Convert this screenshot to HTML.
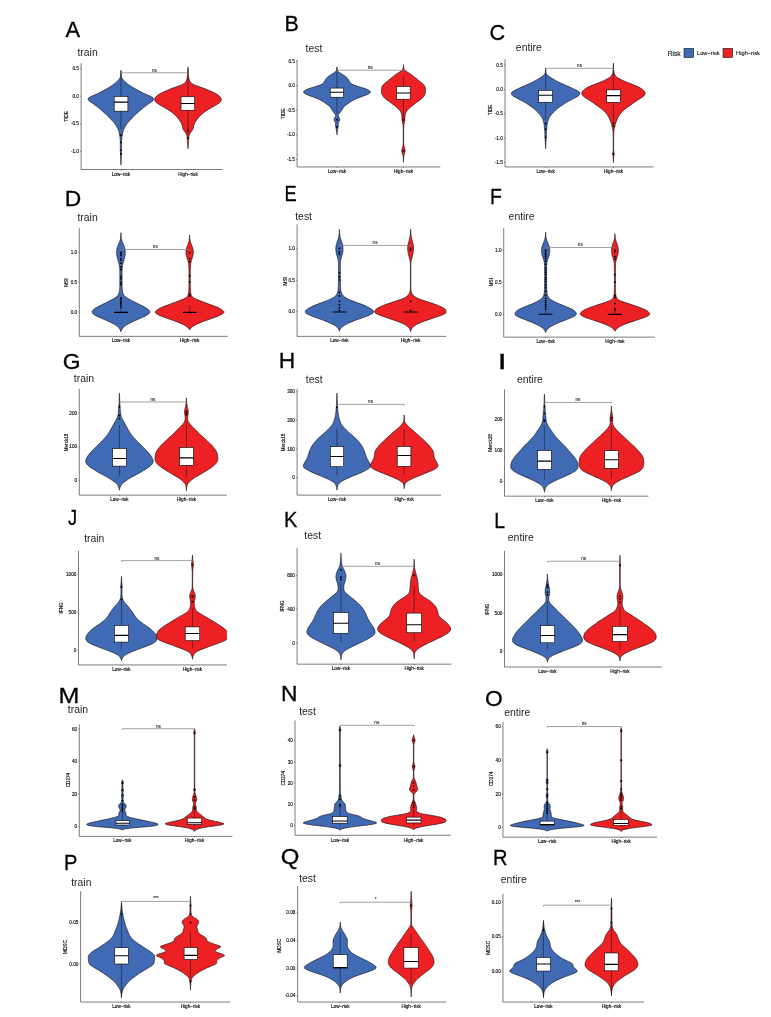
<!DOCTYPE html>
<html lang="en"><head><meta charset="utf-8"><title>Violin plots</title>
<style>
html,body{margin:0;padding:0;background:#fff;}
body{width:771px;height:1017px;overflow:hidden;}
svg{display:block;font-family:"Liberation Sans", Arial, sans-serif;}
.lt{font-size:22.8px;fill:#000;stroke:#000;stroke-width:0.3;}
.tt{font-size:10.4px;fill:#262626;}
.tl{font-size:4.65px;fill:#000;stroke:#000;stroke-width:0.12;}
.sg{font-size:4.6px;fill:#222;stroke:#222;stroke-width:0.1;}
.lg{fill:#111;stroke:#111;stroke-width:0.12;}
.v{stroke:#000;stroke-width:0.6;stroke-linejoin:round;}
.w{stroke:#151515;stroke-width:0.5;}
.b{fill:#fff;stroke:#000;stroke-width:0.6;}
.m{stroke:#000;stroke-width:1.1;}
.m2{stroke:#000;stroke-width:1.1;}
.o{fill:#000;}
.br{fill:none;stroke:#7a7a7a;stroke-width:0.7;}
.ax{fill:none;stroke:#5a5a5a;stroke-width:0.8;}
.tk{stroke:#333;stroke-width:0.5;}
</style></head><body>
<svg width="771" height="1017" viewBox="0 0 771 1017">
<rect width="771" height="1017" fill="#fff"/>
<g id="panel-A">
<text class="lt" transform="translate(72.7 37.12) scale(0.96 1)" text-anchor="middle">A</text>
<text class="tt" x="77.46" y="56.27">train</text>
<clipPath id="cA"><rect x="81.13" y="60.18" width="141.37" height="109.36"/></clipPath>
<g clip-path="url(#cA)">
<path class="v" fill="#416AB5" d="M120.95 70.19 L120.95 70.7 L120.96 71.22 L120.98 71.74 L121 72.25 L121.03 72.77 L121.07 73.28 L121.11 73.8 L121.15 74.32 L121.2 74.83 L121.26 75.35 L121.33 75.86 L121.45 76.38 L121.59 76.9 L121.77 77.41 L121.97 77.93 L122.22 78.44 L122.54 78.96 L122.93 79.48 L123.36 79.99 L123.8 80.51 L124.27 81.02 L124.79 81.54 L125.36 82.06 L125.95 82.57 L126.57 83.09 L127.22 83.6 L127.91 84.12 L128.64 84.64 L129.39 85.15 L130.16 85.67 L130.94 86.18 L131.74 86.7 L132.56 87.22 L133.41 87.73 L134.27 88.25 L135.15 88.76 L136.06 89.28 L136.98 89.8 L137.93 90.31 L138.89 90.83 L139.88 91.34 L140.88 91.86 L141.9 92.38 L142.95 92.89 L144.03 93.41 L145.15 93.92 L146.32 94.44 L147.52 94.96 L148.67 95.47 L149.78 95.99 L150.87 96.5 L151.84 97.02 L152.67 97.54 L153.4 98.05 L153.65 98.57 L153.71 99.08 L153.74 99.6 L153.59 100.12 L153.02 100.63 L152.29 101.15 L151.64 101.66 L150.94 102.18 L150.19 102.7 L149.44 103.21 L148.7 103.73 L148 104.24 L147.31 104.76 L146.62 105.28 L145.95 105.79 L145.28 106.31 L144.61 106.82 L143.93 107.34 L143.26 107.86 L142.6 108.37 L141.96 108.89 L141.34 109.4 L140.75 109.92 L140.17 110.44 L139.61 110.95 L139.04 111.47 L138.48 111.98 L137.92 112.5 L137.36 113.02 L136.81 113.53 L136.25 114.05 L135.69 114.56 L135.12 115.08 L134.55 115.59 L133.99 116.11 L133.45 116.63 L132.94 117.14 L132.45 117.66 L131.98 118.17 L131.51 118.69 L131.05 119.21 L130.58 119.72 L130.09 120.24 L129.61 120.75 L129.13 121.27 L128.66 121.79 L128.22 122.3 L127.78 122.82 L127.34 123.33 L126.93 123.85 L126.55 124.37 L126.2 124.88 L125.89 125.4 L125.6 125.91 L125.33 126.43 L125.06 126.95 L124.78 127.46 L124.49 127.98 L124.19 128.49 L123.92 129.01 L123.67 129.53 L123.47 130.04 L123.3 130.56 L123.15 131.07 L123.01 131.59 L122.89 132.11 L122.78 132.62 L122.69 133.14 L122.61 133.65 L122.54 134.17 L122.46 134.69 L122.37 135.2 L122.26 135.72 L122.14 136.23 L122.02 136.75 L121.93 137.27 L121.87 137.78 L121.82 138.3 L121.77 138.81 L121.73 139.33 L121.69 139.85 L121.65 140.36 L121.62 140.88 L121.6 141.39 L121.58 141.91 L121.57 142.43 L121.57 142.94 L121.57 143.46 L121.57 143.97 L121.57 144.49 L121.57 145.01 L121.57 145.52 L121.57 146.04 L121.57 146.55 L121.57 147.07 L121.57 147.59 L121.57 148.1 L121.57 148.62 L121.56 149.13 L121.56 149.65 L121.55 150.17 L121.53 150.68 L121.52 151.2 L121.51 151.71 L121.49 152.23 L121.48 152.75 L121.47 153.26 L121.45 153.78 L121.43 154.29 L121.41 154.81 L121.39 155.33 L121.37 155.84 L121.35 156.36 L121.33 156.87 L121.3 157.39 L121.28 157.91 L121.26 158.42 L121.24 158.94 L121.21 159.45 L121.19 159.97 L121.17 160.49 L121.14 161 L121.12 161.52 L121.1 162.03 L121.07 162.55 L121.05 163.07 L121.02 163.58 L121 164.1 L120.97 164.61 L120.95 165.13 L120.95 165.13 L120.92 164.61 L120.9 164.1 L120.87 163.58 L120.85 163.07 L120.82 162.55 L120.8 162.03 L120.78 161.52 L120.75 161 L120.73 160.49 L120.71 159.97 L120.68 159.45 L120.66 158.94 L120.64 158.42 L120.62 157.91 L120.59 157.39 L120.57 156.87 L120.55 156.36 L120.52 155.84 L120.5 155.33 L120.48 154.81 L120.46 154.29 L120.45 153.78 L120.43 153.26 L120.42 152.75 L120.4 152.23 L120.39 151.71 L120.37 151.2 L120.36 150.68 L120.35 150.17 L120.34 149.65 L120.33 149.13 L120.33 148.62 L120.33 148.1 L120.33 147.59 L120.33 147.07 L120.33 146.55 L120.33 146.04 L120.33 145.52 L120.33 145.01 L120.33 144.49 L120.33 143.97 L120.33 143.46 L120.33 142.94 L120.32 142.43 L120.31 141.91 L120.3 141.39 L120.27 140.88 L120.24 140.36 L120.21 139.85 L120.17 139.33 L120.12 138.81 L120.08 138.3 L120.03 137.78 L119.97 137.27 L119.87 136.75 L119.76 136.23 L119.64 135.72 L119.53 135.2 L119.44 134.69 L119.36 134.17 L119.28 133.65 L119.21 133.14 L119.12 132.62 L119.01 132.11 L118.89 131.59 L118.75 131.07 L118.59 130.56 L118.42 130.04 L118.22 129.53 L117.98 129.01 L117.7 128.49 L117.41 127.98 L117.12 127.46 L116.84 126.95 L116.57 126.43 L116.29 125.91 L116.01 125.4 L115.69 124.88 L115.35 124.37 L114.97 123.85 L114.55 123.33 L114.12 122.82 L113.68 122.3 L113.23 121.79 L112.77 121.27 L112.29 120.75 L111.8 120.24 L111.32 119.72 L110.85 119.21 L110.38 118.69 L109.92 118.17 L109.45 117.66 L108.96 117.14 L108.45 116.63 L107.91 116.11 L107.34 115.59 L106.77 115.08 L106.2 114.56 L105.64 114.05 L105.09 113.53 L104.54 113.02 L103.98 112.5 L103.42 111.98 L102.85 111.47 L102.29 110.95 L101.72 110.44 L101.15 109.92 L100.56 109.4 L99.94 108.89 L99.3 108.37 L98.64 107.86 L97.97 107.34 L97.29 106.82 L96.62 106.31 L95.95 105.79 L95.27 105.28 L94.59 104.76 L93.9 104.24 L93.2 103.73 L92.46 103.21 L91.7 102.7 L90.96 102.18 L90.25 101.66 L89.6 101.15 L88.88 100.63 L88.3 100.12 L88.16 99.6 L88.19 99.08 L88.24 98.57 L88.49 98.05 L89.22 97.54 L90.05 97.02 L91.02 96.5 L92.12 95.99 L93.23 95.47 L94.38 94.96 L95.57 94.44 L96.75 93.92 L97.87 93.41 L98.94 92.89 L99.99 92.38 L101.02 91.86 L102.02 91.34 L103 90.83 L103.97 90.31 L104.91 89.8 L105.84 89.28 L106.74 88.76 L107.63 88.25 L108.49 87.73 L109.33 87.22 L110.16 86.7 L110.96 86.18 L111.74 85.67 L112.5 85.15 L113.26 84.64 L113.98 84.12 L114.68 83.6 L115.33 83.09 L115.95 82.57 L116.54 82.06 L117.1 81.54 L117.62 81.02 L118.09 80.51 L118.54 79.99 L118.96 79.48 L119.35 78.96 L119.68 78.44 L119.93 77.93 L120.13 77.41 L120.3 76.9 L120.45 76.38 L120.57 75.86 L120.64 75.35 L120.69 74.83 L120.74 74.32 L120.79 73.8 L120.83 73.28 L120.86 72.77 L120.89 72.25 L120.92 71.74 L120.93 71.22 L120.94 70.7 L120.95 70.19Z"/>
<line class="w" x1="120.95" y1="71.23" x2="120.95" y2="129.33"/>
<rect class="b" x="114.2" y="96.44" width="13.7" height="14.73"/>
<line class="m" x1="114.2" y1="102.15" x2="127.9" y2="102.15"/>
<circle class="o" cx="120.95" cy="135.04" r="0.95"/>
<circle class="o" cx="120.95" cy="142.3" r="0.95"/>
<circle class="o" cx="120.95" cy="150.08" r="0.95"/>
<circle class="o" cx="120.95" cy="153.72" r="0.95"/>
<path class="v" fill="#ED2024" d="M187.99 67.19 L188.01 67.7 L188.04 68.22 L188.07 68.73 L188.1 69.25 L188.13 69.77 L188.16 70.28 L188.19 70.8 L188.23 71.31 L188.26 71.83 L188.29 72.34 L188.33 72.86 L188.36 73.37 L188.39 73.89 L188.43 74.41 L188.46 74.92 L188.5 75.44 L188.55 75.95 L188.6 76.47 L188.66 76.98 L188.74 77.5 L188.84 78.01 L188.94 78.53 L189.07 79.05 L189.21 79.56 L189.38 80.08 L189.59 80.59 L189.85 81.11 L190.16 81.62 L190.51 82.14 L190.94 82.65 L191.51 83.17 L192.2 83.68 L193 84.2 L193.96 84.72 L195.22 85.23 L196.62 85.75 L198.04 86.26 L199.42 86.78 L200.85 87.29 L202.3 87.81 L203.71 88.32 L205.06 88.84 L206.37 89.36 L207.66 89.87 L208.91 90.39 L210.13 90.9 L211.34 91.42 L212.51 91.93 L213.6 92.45 L214.62 92.96 L215.59 93.48 L216.5 94 L217.31 94.51 L218.02 95.03 L218.69 95.54 L219.28 96.06 L219.79 96.57 L220.21 97.09 L220.63 97.6 L220.97 98.12 L221.17 98.63 L221.18 99.15 L221.15 99.67 L221.1 100.18 L221.02 100.7 L220.88 101.21 L220.51 101.73 L219.97 102.24 L219.37 102.76 L218.77 103.27 L218.05 103.79 L217.24 104.31 L216.39 104.82 L215.54 105.34 L214.62 105.85 L213.67 106.37 L212.71 106.88 L211.77 107.4 L210.89 107.91 L210.04 108.43 L209.2 108.95 L208.39 109.46 L207.59 109.98 L206.82 110.49 L206.07 111.01 L205.33 111.52 L204.62 112.04 L203.93 112.55 L203.26 113.07 L202.6 113.59 L201.95 114.1 L201.33 114.62 L200.76 115.13 L200.23 115.65 L199.73 116.16 L199.27 116.68 L198.83 117.19 L198.41 117.71 L198 118.22 L197.61 118.74 L197.23 119.26 L196.86 119.77 L196.51 120.29 L196.17 120.8 L195.83 121.32 L195.51 121.83 L195.2 122.35 L194.91 122.86 L194.65 123.38 L194.41 123.9 L194.19 124.41 L193.98 124.93 L193.8 125.44 L193.66 125.96 L193.55 126.47 L193.46 126.99 L193.38 127.5 L193.27 128.02 L193.13 128.54 L192.93 129.05 L192.67 129.57 L192.38 130.08 L192.06 130.6 L191.69 131.11 L191.28 131.63 L190.87 132.14 L190.51 132.66 L190.18 133.18 L189.87 133.69 L189.6 134.21 L189.41 134.72 L189.27 135.24 L189.14 135.75 L189.04 136.27 L188.95 136.78 L188.87 137.3 L188.81 137.81 L188.76 138.33 L188.71 138.85 L188.67 139.36 L188.64 139.88 L188.61 140.39 L188.57 140.91 L188.54 141.42 L188.5 141.94 L188.46 142.45 L188.42 142.97 L188.38 143.49 L188.34 144 L188.3 144.52 L188.27 145.03 L188.23 145.55 L188.19 146.06 L188.15 146.58 L188.11 147.09 L188.07 147.61 L188.03 148.13 L187.99 148.64 L187.99 148.64 L187.95 148.13 L187.91 147.61 L187.87 147.09 L187.83 146.58 L187.79 146.06 L187.75 145.55 L187.71 145.03 L187.67 144.52 L187.63 144 L187.59 143.49 L187.55 142.97 L187.51 142.45 L187.47 141.94 L187.43 141.42 L187.4 140.91 L187.37 140.39 L187.33 139.88 L187.3 139.36 L187.26 138.85 L187.22 138.33 L187.16 137.81 L187.1 137.3 L187.02 136.78 L186.93 136.27 L186.83 135.75 L186.7 135.24 L186.56 134.72 L186.37 134.21 L186.1 133.69 L185.79 133.18 L185.46 132.66 L185.1 132.14 L184.69 131.63 L184.28 131.11 L183.91 130.6 L183.6 130.08 L183.3 129.57 L183.04 129.05 L182.84 128.54 L182.7 128.02 L182.6 127.5 L182.51 126.99 L182.42 126.47 L182.32 125.96 L182.17 125.44 L181.99 124.93 L181.79 124.41 L181.56 123.9 L181.32 123.38 L181.06 122.86 L180.78 122.35 L180.46 121.83 L180.14 121.32 L179.8 120.8 L179.46 120.29 L179.11 119.77 L178.74 119.26 L178.36 118.74 L177.97 118.22 L177.56 117.71 L177.14 117.19 L176.7 116.68 L176.24 116.16 L175.74 115.65 L175.21 115.13 L174.64 114.62 L174.02 114.1 L173.37 113.59 L172.71 113.07 L172.04 112.55 L171.35 112.04 L170.64 111.52 L169.9 111.01 L169.15 110.49 L168.38 109.98 L167.59 109.46 L166.77 108.95 L165.93 108.43 L165.08 107.91 L164.2 107.4 L163.26 106.88 L162.3 106.37 L161.35 105.85 L160.43 105.34 L159.58 104.82 L158.73 104.31 L157.93 103.79 L157.21 103.27 L156.6 102.76 L156 102.24 L155.47 101.73 L155.09 101.21 L154.95 100.7 L154.88 100.18 L154.82 99.67 L154.79 99.15 L154.8 98.63 L155 98.12 L155.34 97.6 L155.76 97.09 L156.18 96.57 L156.69 96.06 L157.28 95.54 L157.95 95.03 L158.66 94.51 L159.48 94 L160.38 93.48 L161.35 92.96 L162.37 92.45 L163.46 91.93 L164.63 91.42 L165.84 90.9 L167.07 90.39 L168.32 89.87 L169.6 89.36 L170.91 88.84 L172.26 88.32 L173.67 87.81 L175.12 87.29 L176.55 86.78 L177.93 86.26 L179.35 85.75 L180.76 85.23 L182.01 84.72 L182.98 84.2 L183.77 83.68 L184.46 83.17 L185.03 82.65 L185.46 82.14 L185.81 81.62 L186.12 81.11 L186.38 80.59 L186.6 80.08 L186.76 79.56 L186.9 79.05 L187.03 78.53 L187.14 78.01 L187.23 77.5 L187.31 76.98 L187.37 76.47 L187.42 75.95 L187.47 75.44 L187.51 74.92 L187.55 74.41 L187.58 73.89 L187.61 73.37 L187.64 72.86 L187.68 72.34 L187.71 71.83 L187.74 71.31 L187.78 70.8 L187.81 70.28 L187.84 69.77 L187.87 69.25 L187.9 68.73 L187.93 68.22 L187.96 67.7 L187.99 67.19Z"/>
<line class="w" x1="187.99" y1="68.23" x2="187.99" y2="134.63"/>
<rect class="b" x="181.03" y="96.76" width="13.7" height="13.49"/>
<line class="m" x1="181.03" y1="103.5" x2="194.73" y2="103.5"/>
<circle class="o" cx="187.99" cy="130.48" r="0.95"/>
<circle class="o" cx="187.99" cy="138.26" r="0.95"/>
</g>
<path class="br" d="M120.95 74.18 V72.78 H187.99 V74.18"/>
<text class="sg" x="154.47" y="71.65" text-anchor="middle">ns</text>
<path class="ax" d="M81.13 63.18 V169.53 H222.5"/>
<line class="tk" x1="80.03" y1="68.63" x2="81.13" y2="68.63"/>
<text class="tl" x="78.93" y="70.23" text-anchor="end">0.5</text>
<line class="tk" x1="80.03" y1="96.12" x2="81.13" y2="96.12"/>
<text class="tl" x="78.93" y="97.72" text-anchor="end">0.0</text>
<line class="tk" x1="80.03" y1="123.88" x2="81.13" y2="123.88"/>
<text class="tl" x="78.93" y="125.48" text-anchor="end">-0.5</text>
<line class="tk" x1="80.03" y1="151.37" x2="81.13" y2="151.37"/>
<text class="tl" x="78.93" y="152.97" text-anchor="end">-1.0</text>
<line class="tk" x1="120.95" y1="169.53" x2="120.95" y2="170.63"/>
<text class="tl" x="120.95" y="175.54" text-anchor="middle">Low−risk</text>
<line class="tk" x1="187.99" y1="169.53" x2="187.99" y2="170.63"/>
<text class="tl" x="187.99" y="175.54" text-anchor="middle">High−risk</text>
<text class="tl" transform="translate(68.08 116.36) rotate(-90)" text-anchor="middle">TIDE</text>
</g>
<g id="panel-B">
<text class="lt" transform="translate(291.52 31.15) scale(0.94 1)" text-anchor="middle">B</text>
<text class="tt" x="305.61" y="51.6">test</text>
<clipPath id="cB"><rect x="297.09" y="57.06" width="143.19" height="109.87"/></clipPath>
<g clip-path="url(#cB)">
<path class="v" fill="#416AB5" d="M336.95 66.82 L336.96 67.33 L336.99 67.85 L337.05 68.36 L337.12 68.88 L337.22 69.39 L337.33 69.91 L337.46 70.42 L337.73 70.94 L338.22 71.45 L338.84 71.97 L339.49 72.48 L340.17 73 L340.94 73.51 L341.76 74.03 L342.57 74.54 L343.36 75.06 L344.18 75.57 L344.97 76.09 L345.68 76.6 L346.28 77.12 L346.83 77.63 L347.33 78.15 L347.77 78.66 L348.16 79.18 L348.5 79.69 L348.81 80.21 L349.13 80.72 L349.43 81.24 L349.7 81.75 L349.98 82.27 L350.34 82.78 L350.82 83.3 L351.47 83.81 L352.28 84.33 L353.31 84.84 L354.69 85.36 L356.23 85.87 L357.83 86.39 L359.59 86.9 L361.34 87.41 L363 87.93 L364.66 88.44 L366.12 88.96 L367.28 89.47 L368.3 89.99 L369.11 90.5 L369.68 91.02 L370.16 91.53 L370.36 92.05 L370.19 92.56 L369.81 93.08 L369.24 93.59 L368.24 94.11 L367.02 94.62 L365.79 95.14 L364.41 95.65 L362.98 96.17 L361.59 96.68 L360.19 97.2 L358.82 97.71 L357.53 98.23 L356.27 98.74 L355.1 99.26 L354.06 99.77 L353.11 100.29 L352.23 100.8 L351.38 101.32 L350.55 101.83 L349.76 102.35 L348.99 102.86 L348.24 103.38 L347.51 103.89 L346.76 104.41 L346.04 104.92 L345.38 105.44 L344.81 105.95 L344.29 106.47 L343.83 106.98 L343.41 107.49 L343.03 108.01 L342.71 108.52 L342.42 109.04 L342.12 109.55 L341.81 110.07 L341.49 110.58 L341.17 111.1 L340.82 111.61 L340.45 112.13 L339.98 112.64 L339.49 113.16 L339.05 113.67 L338.73 114.19 L338.45 114.7 L338.25 115.22 L338.2 115.73 L338.39 116.25 L338.71 116.76 L339.04 117.28 L339.28 117.79 L339.49 118.31 L339.68 118.82 L339.82 119.34 L339.85 119.85 L339.7 120.37 L339.44 120.88 L339.18 121.4 L338.88 121.91 L338.54 122.43 L338.28 122.94 L338.19 123.46 L338.24 123.97 L338.31 124.49 L338.38 125 L338.4 125.52 L338.36 126.03 L338.27 126.55 L338.18 127.06 L338.07 127.58 L337.94 128.09 L337.8 128.6 L337.67 129.12 L337.56 129.63 L337.48 130.15 L337.4 130.66 L337.32 131.18 L337.24 131.69 L337.18 132.21 L337.11 132.72 L337.06 133.24 L337.01 133.75 L336.97 134.27 L336.95 134.78 L336.95 134.78 L336.92 134.27 L336.89 133.75 L336.84 133.24 L336.78 132.72 L336.72 132.21 L336.65 131.69 L336.58 131.18 L336.5 130.66 L336.42 130.15 L336.33 129.63 L336.23 129.12 L336.1 128.6 L335.96 128.09 L335.82 127.58 L335.71 127.06 L335.62 126.55 L335.54 126.03 L335.5 125.52 L335.52 125 L335.59 124.49 L335.66 123.97 L335.7 123.46 L335.62 122.94 L335.36 122.43 L335.02 121.91 L334.71 121.4 L334.46 120.88 L334.2 120.37 L334.05 119.85 L334.08 119.34 L334.21 118.82 L334.41 118.31 L334.62 117.79 L334.86 117.28 L335.19 116.76 L335.51 116.25 L335.69 115.73 L335.65 115.22 L335.44 114.7 L335.17 114.19 L334.85 113.67 L334.41 113.16 L333.91 112.64 L333.45 112.13 L333.07 111.61 L332.73 111.1 L332.4 110.58 L332.08 110.07 L331.77 109.55 L331.48 109.04 L331.19 108.52 L330.86 108.01 L330.49 107.49 L330.07 106.98 L329.6 106.47 L329.09 105.95 L328.52 105.44 L327.86 104.92 L327.14 104.41 L326.39 103.89 L325.65 103.38 L324.91 102.86 L324.14 102.35 L323.34 101.83 L322.51 101.32 L321.67 100.8 L320.78 100.29 L319.83 99.77 L318.79 99.26 L317.62 98.74 L316.37 98.23 L315.08 97.71 L313.71 97.2 L312.31 96.68 L310.92 96.17 L309.49 95.65 L308.11 95.14 L306.88 94.62 L305.66 94.11 L304.65 93.59 L304.09 93.08 L303.7 92.56 L303.54 92.05 L303.73 91.53 L304.21 91.02 L304.79 90.5 L305.59 89.99 L306.62 89.47 L307.78 88.96 L309.24 88.44 L310.89 87.93 L312.55 87.41 L314.31 86.9 L316.07 86.39 L317.67 85.87 L319.2 85.36 L320.58 84.84 L321.62 84.33 L322.42 83.81 L323.08 83.3 L323.56 82.78 L323.91 82.27 L324.2 81.75 L324.47 81.24 L324.77 80.72 L325.08 80.21 L325.4 79.69 L325.74 79.18 L326.13 78.66 L326.57 78.15 L327.07 77.63 L327.62 77.12 L328.22 76.6 L328.92 76.09 L329.71 75.57 L330.53 75.06 L331.33 74.54 L332.14 74.03 L332.96 73.51 L333.73 73 L334.41 72.48 L335.05 71.97 L335.67 71.45 L336.17 70.94 L336.44 70.42 L336.57 69.91 L336.68 69.39 L336.77 68.88 L336.85 68.36 L336.9 67.85 L336.94 67.33 L336.95 66.82Z"/>
<line class="w" x1="336.95" y1="68.38" x2="336.95" y2="114.03"/>
<rect class="b" x="330.2" y="88.09" width="13.28" height="9.13"/>
<line class="m" x1="330.2" y1="92.24" x2="343.49" y2="92.24"/>
<circle class="o" cx="336.95" cy="119.74" r="0.95"/>
<circle class="o" cx="336.95" cy="127" r="0.95"/>
<path class="v" fill="#ED2024" d="M403.47 64.67 L403.48 65.19 L403.51 65.7 L403.55 66.22 L403.61 66.73 L403.69 67.25 L403.78 67.77 L403.88 68.28 L404.03 68.8 L404.28 69.31 L404.61 69.83 L405 70.35 L405.55 70.86 L406.34 71.38 L407.22 71.89 L408.07 72.41 L408.86 72.93 L409.66 73.44 L410.44 73.96 L411.18 74.47 L411.86 74.99 L412.51 75.51 L413.13 76.02 L413.76 76.54 L414.41 77.05 L415.05 77.57 L415.7 78.09 L416.34 78.6 L416.99 79.12 L417.63 79.64 L418.28 80.15 L418.92 80.67 L419.58 81.18 L420.25 81.7 L420.9 82.22 L421.52 82.73 L422.09 83.25 L422.64 83.76 L423.16 84.28 L423.61 84.8 L424.02 85.31 L424.42 85.83 L424.76 86.34 L425.01 86.86 L425.17 87.38 L425.32 87.89 L425.44 88.41 L425.53 88.92 L425.57 89.44 L425.57 89.96 L425.55 90.47 L425.53 90.99 L425.51 91.5 L425.47 92.02 L425.42 92.54 L425.32 93.05 L425.17 93.57 L425 94.08 L424.8 94.6 L424.58 95.12 L424.29 95.63 L423.94 96.15 L423.54 96.67 L423.12 97.18 L422.67 97.7 L422.14 98.21 L421.56 98.73 L420.94 99.25 L420.3 99.76 L419.65 100.28 L418.94 100.79 L418.2 101.31 L417.45 101.83 L416.71 102.34 L416.01 102.86 L415.31 103.37 L414.62 103.89 L413.95 104.41 L413.28 104.92 L412.63 105.44 L411.99 105.95 L411.35 106.47 L410.73 106.99 L410.15 107.5 L409.59 108.02 L409.05 108.53 L408.54 109.05 L408.05 109.57 L407.6 110.08 L407.2 110.6 L406.81 111.11 L406.44 111.63 L406.11 112.15 L405.85 112.66 L405.66 113.18 L405.49 113.7 L405.35 114.21 L405.23 114.73 L405.15 115.24 L405.11 115.76 L405.09 116.28 L405.07 116.79 L405.05 117.31 L405.03 117.82 L405.01 118.34 L404.99 118.86 L404.97 119.37 L404.94 119.89 L404.9 120.4 L404.81 120.92 L404.69 121.44 L404.57 121.95 L404.46 122.47 L404.35 122.98 L404.23 123.5 L404.11 124.02 L404 124.53 L403.92 125.05 L403.86 125.56 L403.81 126.08 L403.77 126.6 L403.73 127.11 L403.7 127.63 L403.68 128.14 L403.67 128.66 L403.67 129.18 L403.67 129.69 L403.67 130.21 L403.67 130.73 L403.67 131.24 L403.67 131.76 L403.67 132.27 L403.67 132.79 L403.67 133.31 L403.67 133.82 L403.67 134.34 L403.67 134.85 L403.67 135.37 L403.67 135.89 L403.67 136.4 L403.67 136.92 L403.67 137.43 L403.67 137.95 L403.67 138.47 L403.67 138.98 L403.67 139.5 L403.67 140.01 L403.67 140.53 L403.67 141.05 L403.67 141.56 L403.67 142.08 L403.67 142.59 L403.68 143.11 L403.7 143.63 L403.75 144.14 L403.83 144.66 L403.91 145.17 L404.01 145.69 L404.11 146.21 L404.23 146.72 L404.39 147.24 L404.56 147.76 L404.71 148.27 L404.83 148.79 L404.93 149.3 L405.03 149.82 L405.1 150.34 L405.13 150.85 L405.08 151.37 L404.97 151.88 L404.83 152.4 L404.7 152.92 L404.56 153.43 L404.39 153.95 L404.22 154.46 L404.08 154.98 L403.98 155.5 L403.91 156.01 L403.85 156.53 L403.79 157.04 L403.73 157.56 L403.68 158.08 L403.64 158.59 L403.59 159.11 L403.56 159.62 L403.53 160.14 L403.5 160.66 L403.48 161.17 L403.47 161.69 L403.47 162.2 L403.47 162.2 L403.46 161.69 L403.45 161.17 L403.43 160.66 L403.41 160.14 L403.38 159.62 L403.34 159.11 L403.3 158.59 L403.25 158.08 L403.2 157.56 L403.14 157.04 L403.08 156.53 L403.02 156.01 L402.95 155.5 L402.86 154.98 L402.71 154.46 L402.55 153.95 L402.38 153.43 L402.23 152.92 L402.1 152.4 L401.97 151.88 L401.86 151.37 L401.81 150.85 L401.83 150.34 L401.9 149.82 L402 149.3 L402.1 148.79 L402.22 148.27 L402.38 147.76 L402.54 147.24 L402.7 146.72 L402.83 146.21 L402.92 145.69 L403.02 145.17 L403.11 144.66 L403.18 144.14 L403.23 143.63 L403.26 143.11 L403.26 142.59 L403.26 142.08 L403.26 141.56 L403.26 141.05 L403.26 140.53 L403.26 140.01 L403.26 139.5 L403.26 138.98 L403.26 138.47 L403.26 137.95 L403.26 137.43 L403.26 136.92 L403.26 136.4 L403.26 135.89 L403.26 135.37 L403.26 134.85 L403.26 134.34 L403.26 133.82 L403.26 133.31 L403.26 132.79 L403.26 132.27 L403.26 131.76 L403.26 131.24 L403.26 130.73 L403.26 130.21 L403.26 129.69 L403.26 129.18 L403.26 128.66 L403.26 128.14 L403.24 127.63 L403.21 127.11 L403.17 126.6 L403.12 126.08 L403.07 125.56 L403.01 125.05 L402.93 124.53 L402.82 124.02 L402.71 123.5 L402.59 122.98 L402.47 122.47 L402.36 121.95 L402.24 121.44 L402.13 120.92 L402.04 120.4 L401.99 119.89 L401.96 119.37 L401.94 118.86 L401.92 118.34 L401.9 117.82 L401.88 117.31 L401.87 116.79 L401.85 116.28 L401.82 115.76 L401.78 115.24 L401.7 114.73 L401.59 114.21 L401.44 113.7 L401.27 113.18 L401.08 112.66 L400.82 112.15 L400.5 111.63 L400.13 111.11 L399.74 110.6 L399.33 110.08 L398.89 109.57 L398.4 109.05 L397.88 108.53 L397.34 108.02 L396.79 107.5 L396.2 106.99 L395.58 106.47 L394.95 105.95 L394.3 105.44 L393.65 104.92 L392.99 104.41 L392.31 103.89 L391.62 103.37 L390.93 102.86 L390.22 102.34 L389.49 101.83 L388.74 101.31 L388 100.79 L387.29 100.28 L386.63 99.76 L385.99 99.25 L385.37 98.73 L384.79 98.21 L384.27 97.7 L383.81 97.18 L383.39 96.67 L383 96.15 L382.65 95.63 L382.36 95.12 L382.13 94.6 L381.94 94.08 L381.76 93.57 L381.61 93.05 L381.51 92.54 L381.46 92.02 L381.43 91.5 L381.4 90.99 L381.38 90.47 L381.37 89.96 L381.37 89.44 L381.41 88.92 L381.5 88.41 L381.62 87.89 L381.76 87.38 L381.92 86.86 L382.17 86.34 L382.52 85.83 L382.91 85.31 L383.32 84.8 L383.78 84.28 L384.29 83.76 L384.84 83.25 L385.42 82.73 L386.03 82.22 L386.69 81.7 L387.35 81.18 L388.01 80.67 L388.65 80.15 L389.3 79.64 L389.94 79.12 L390.59 78.6 L391.23 78.09 L391.88 77.57 L392.52 77.05 L393.17 76.54 L393.8 76.02 L394.43 75.51 L395.07 74.99 L395.76 74.47 L396.5 73.96 L397.28 73.44 L398.07 72.93 L398.86 72.41 L399.71 71.89 L400.59 71.38 L401.38 70.86 L401.93 70.35 L402.32 69.83 L402.65 69.31 L402.9 68.8 L403.06 68.28 L403.15 67.77 L403.24 67.25 L403.32 66.73 L403.38 66.22 L403.43 65.7 L403.46 65.19 L403.47 64.67Z"/>
<line class="w" x1="403.47" y1="76.6" x2="403.47" y2="118.11"/>
<rect class="b" x="396.51" y="86.46" width="13.7" height="12.76"/>
<line class="m" x1="396.51" y1="93" x2="410.21" y2="93"/>
<circle class="o" cx="403.47" cy="119.87" r="0.95"/>
<circle class="o" cx="403.47" cy="150.79" r="0.95"/>
</g>
<path class="br" d="M336.95 71.64 V70.24 H403.47 V71.64"/>
<text class="sg" x="370.21" y="69.11" text-anchor="middle">ns</text>
<path class="ax" d="M297.09 60.06 V166.94 H440.29"/>
<line class="tk" x1="295.99" y1="61.1" x2="297.09" y2="61.1"/>
<text class="tl" x="294.89" y="62.7" text-anchor="end">0.5</text>
<line class="tk" x1="295.99" y1="85.49" x2="297.09" y2="85.49"/>
<text class="tl" x="294.89" y="87.09" text-anchor="end">0.0</text>
<line class="tk" x1="295.99" y1="110.13" x2="297.09" y2="110.13"/>
<text class="tl" x="294.89" y="111.73" text-anchor="end">-0.5</text>
<line class="tk" x1="295.99" y1="134.77" x2="297.09" y2="134.77"/>
<text class="tl" x="294.89" y="136.37" text-anchor="end">-1.0</text>
<line class="tk" x1="295.99" y1="159.42" x2="297.09" y2="159.42"/>
<text class="tl" x="294.89" y="161.02" text-anchor="end">-1.5</text>
<line class="tk" x1="336.95" y1="166.94" x2="336.95" y2="168.04"/>
<text class="tl" x="336.95" y="172.95" text-anchor="middle">Low−risk</text>
<line class="tk" x1="403.47" y1="166.94" x2="403.47" y2="168.04"/>
<text class="tl" x="403.47" y="172.95" text-anchor="middle">High−risk</text>
<text class="tl" transform="translate(284.83 113.76) rotate(-90)" text-anchor="middle">TIDE</text>
</g>
<g id="panel-C">
<text class="lt" transform="translate(497.24 39.71) scale(0.95 1)" text-anchor="middle">C</text>
<text class="tt" x="515.87" y="51.09">entire</text>
<clipPath id="cC"><rect x="505.02" y="56.29" width="148.64" height="110.65"/></clipPath>
<g clip-path="url(#cC)">
<path class="v" fill="#416AB5" d="M545.64 68.3 L545.64 68.82 L545.66 69.33 L545.68 69.85 L545.72 70.36 L545.76 70.88 L545.82 71.39 L545.89 71.91 L545.96 72.42 L546.05 72.94 L546.23 73.46 L546.57 73.97 L547 74.49 L547.47 75 L547.97 75.52 L548.56 76.03 L549.22 76.55 L549.92 77.06 L550.68 77.58 L551.52 78.1 L552.41 78.61 L553.3 79.13 L554.18 79.64 L555.06 80.16 L555.96 80.67 L556.9 81.19 L557.87 81.7 L558.88 82.22 L559.92 82.73 L561 83.25 L562.11 83.77 L563.27 84.28 L564.45 84.8 L565.62 85.31 L566.78 85.83 L567.94 86.34 L569.1 86.86 L570.26 87.37 L571.44 87.89 L572.64 88.4 L573.82 88.92 L574.93 89.44 L575.96 89.95 L576.95 90.47 L577.8 90.98 L578.51 91.5 L579.16 92.01 L579.6 92.53 L579.78 93.04 L579.87 93.56 L579.82 94.07 L579.56 94.59 L579.18 95.11 L578.7 95.62 L577.95 96.14 L577.07 96.65 L576.19 97.17 L575.22 97.68 L574.21 98.2 L573.2 98.71 L572.22 99.23 L571.26 99.75 L570.3 100.26 L569.36 100.78 L568.43 101.29 L567.51 101.81 L566.6 102.32 L565.72 102.84 L564.88 103.35 L564.07 103.87 L563.28 104.38 L562.51 104.9 L561.75 105.42 L561.01 105.93 L560.28 106.45 L559.56 106.96 L558.87 107.48 L558.2 107.99 L557.57 108.51 L556.96 109.02 L556.38 109.54 L555.82 110.05 L555.26 110.57 L554.72 111.09 L554.18 111.6 L553.65 112.12 L553.13 112.63 L552.64 113.15 L552.18 113.66 L551.74 114.18 L551.31 114.69 L550.9 115.21 L550.52 115.73 L550.16 116.24 L549.81 116.76 L549.48 117.27 L549.17 117.79 L548.9 118.3 L548.67 118.82 L548.48 119.33 L548.31 119.85 L548.16 120.36 L548.01 120.88 L547.87 121.4 L547.73 121.91 L547.59 122.43 L547.47 122.94 L547.36 123.46 L547.27 123.97 L547.2 124.49 L547.13 125 L547.07 125.52 L547.02 126.03 L546.97 126.55 L546.92 127.07 L546.87 127.58 L546.82 128.1 L546.77 128.61 L546.73 129.13 L546.68 129.64 L546.64 130.16 L546.6 130.67 L546.56 131.19 L546.52 131.71 L546.49 132.22 L546.46 132.74 L546.44 133.25 L546.41 133.77 L546.39 134.28 L546.37 134.8 L546.36 135.31 L546.34 135.83 L546.32 136.34 L546.3 136.86 L546.28 137.38 L546.26 137.89 L546.23 138.41 L546.2 138.92 L546.17 139.44 L546.14 139.95 L546.11 140.47 L546.07 140.98 L546.04 141.5 L546.01 142.01 L545.98 142.53 L545.95 143.05 L545.92 143.56 L545.89 144.08 L545.86 144.59 L545.83 145.11 L545.8 145.62 L545.77 146.14 L545.75 146.65 L545.72 147.17 L545.69 147.68 L545.66 148.2 L545.64 148.72 L545.64 148.72 L545.61 148.2 L545.58 147.68 L545.56 147.17 L545.53 146.65 L545.5 146.14 L545.47 145.62 L545.44 145.11 L545.41 144.59 L545.39 144.08 L545.36 143.56 L545.33 143.05 L545.3 142.53 L545.27 142.01 L545.23 141.5 L545.2 140.98 L545.17 140.47 L545.13 139.95 L545.1 139.44 L545.07 138.92 L545.04 138.41 L545.02 137.89 L544.99 137.38 L544.97 136.86 L544.95 136.34 L544.93 135.83 L544.92 135.31 L544.9 134.8 L544.88 134.28 L544.86 133.77 L544.84 133.25 L544.81 132.74 L544.78 132.22 L544.75 131.71 L544.72 131.19 L544.68 130.67 L544.64 130.16 L544.59 129.64 L544.55 129.13 L544.5 128.61 L544.45 128.1 L544.4 127.58 L544.36 127.07 L544.31 126.55 L544.26 126.03 L544.2 125.52 L544.14 125 L544.08 124.49 L544 123.97 L543.91 123.46 L543.81 122.94 L543.68 122.43 L543.54 121.91 L543.4 121.4 L543.26 120.88 L543.12 120.36 L542.96 119.85 L542.79 119.33 L542.6 118.82 L542.38 118.3 L542.11 117.79 L541.8 117.27 L541.46 116.76 L541.11 116.24 L540.75 115.73 L540.37 115.21 L539.96 114.69 L539.54 114.18 L539.09 113.66 L538.63 113.15 L538.14 112.63 L537.63 112.12 L537.1 111.6 L536.55 111.09 L536.01 110.57 L535.46 110.05 L534.89 109.54 L534.31 109.02 L533.71 108.51 L533.07 107.99 L532.41 107.48 L531.71 106.96 L530.99 106.45 L530.26 105.93 L529.52 105.42 L528.77 104.9 L528 104.38 L527.21 103.87 L526.4 103.35 L525.55 102.84 L524.67 102.32 L523.77 101.81 L522.84 101.29 L521.91 100.78 L520.97 100.26 L520.01 99.75 L519.05 99.23 L518.08 98.71 L517.07 98.2 L516.05 97.68 L515.08 97.17 L514.2 96.65 L513.33 96.14 L512.57 95.62 L512.09 95.11 L511.71 94.59 L511.46 94.07 L511.4 93.56 L511.5 93.04 L511.67 92.53 L512.11 92.01 L512.76 91.5 L513.47 90.98 L514.32 90.47 L515.31 89.95 L516.34 89.44 L517.45 88.92 L518.63 88.4 L519.84 87.89 L521.01 87.37 L522.17 86.86 L523.33 86.34 L524.49 85.83 L525.65 85.31 L526.83 84.8 L528.01 84.28 L529.17 83.77 L530.28 83.25 L531.35 82.73 L532.39 82.22 L533.4 81.7 L534.38 81.19 L535.31 80.67 L536.21 80.16 L537.1 79.64 L537.97 79.13 L538.87 78.61 L539.75 78.1 L540.6 77.58 L541.36 77.06 L542.06 76.55 L542.72 76.03 L543.31 75.52 L543.81 75 L544.27 74.49 L544.71 73.97 L545.05 73.46 L545.23 72.94 L545.31 72.42 L545.39 71.91 L545.45 71.39 L545.51 70.88 L545.55 70.36 L545.59 69.85 L545.62 69.33 L545.63 68.82 L545.64 68.3Z"/>
<line class="w" x1="545.64" y1="68.3" x2="545.64" y2="120.18"/>
<rect class="b" x="538.68" y="90.4" width="13.8" height="11.83"/>
<line class="m" x1="538.68" y1="95.28" x2="552.49" y2="95.28"/>
<circle class="o" cx="545.64" cy="123.5" r="0.95"/>
<circle class="o" cx="545.64" cy="129.31" r="0.95"/>
<circle class="o" cx="545.64" cy="137.3" r="0.95"/>
<path class="v" fill="#ED2024" d="M613.43 63.11 L613.43 63.63 L613.44 64.15 L613.45 64.66 L613.46 65.18 L613.48 65.69 L613.49 66.21 L613.52 66.73 L613.54 67.24 L613.57 67.76 L613.6 68.27 L613.63 68.79 L613.66 69.31 L613.7 69.82 L613.74 70.34 L613.78 70.85 L613.84 71.37 L613.92 71.89 L614.01 72.4 L614.12 72.92 L614.25 73.44 L614.41 73.95 L614.64 74.47 L614.92 74.98 L615.25 75.5 L615.66 76.02 L616.19 76.53 L616.8 77.05 L617.48 77.56 L618.23 78.08 L619.09 78.6 L620.04 79.11 L621.04 79.63 L622.09 80.14 L623.23 80.66 L624.43 81.18 L625.65 81.69 L626.89 82.21 L628.18 82.73 L629.49 83.24 L630.8 83.76 L632.11 84.27 L633.44 84.79 L634.76 85.31 L635.99 85.82 L637.13 86.34 L638.23 86.85 L639.26 87.37 L640.19 87.89 L641.04 88.4 L641.84 88.92 L642.56 89.43 L643.17 89.95 L643.68 90.47 L644.16 90.98 L644.55 91.5 L644.82 92.02 L644.96 92.53 L645.05 93.05 L645.07 93.56 L644.95 94.08 L644.73 94.6 L644.45 95.11 L644.09 95.63 L643.56 96.14 L642.9 96.66 L642.2 97.18 L641.5 97.69 L640.74 98.21 L639.94 98.73 L639.14 99.24 L638.36 99.76 L637.58 100.27 L636.81 100.79 L636.04 101.31 L635.26 101.82 L634.47 102.34 L633.69 102.85 L632.93 103.37 L632.2 103.89 L631.5 104.4 L630.81 104.92 L630.12 105.43 L629.41 105.95 L628.68 106.47 L627.94 106.98 L627.23 107.5 L626.55 108.02 L625.89 108.53 L625.24 109.05 L624.62 109.56 L623.99 110.08 L623.37 110.6 L622.76 111.11 L622.19 111.63 L621.68 112.14 L621.22 112.66 L620.78 113.18 L620.37 113.69 L619.99 114.21 L619.63 114.72 L619.3 115.24 L618.98 115.76 L618.69 116.27 L618.42 116.79 L618.17 117.31 L617.92 117.82 L617.68 118.34 L617.44 118.85 L617.21 119.37 L616.98 119.89 L616.76 120.4 L616.55 120.92 L616.34 121.43 L616.14 121.95 L615.94 122.47 L615.75 122.98 L615.56 123.5 L615.39 124.01 L615.25 124.53 L615.14 125.05 L615.05 125.56 L614.95 126.08 L614.83 126.6 L614.67 127.11 L614.5 127.63 L614.34 128.14 L614.23 128.66 L614.13 129.18 L614.05 129.69 L613.98 130.21 L613.92 130.72 L613.87 131.24 L613.84 131.76 L613.81 132.27 L613.78 132.79 L613.75 133.3 L613.73 133.82 L613.71 134.34 L613.69 134.85 L613.67 135.37 L613.66 135.89 L613.65 136.4 L613.64 136.92 L613.64 137.43 L613.64 137.95 L613.64 138.47 L613.64 138.98 L613.64 139.5 L613.64 140.01 L613.64 140.53 L613.64 141.05 L613.64 141.56 L613.64 142.08 L613.64 142.6 L613.64 143.11 L613.64 143.63 L613.64 144.14 L613.64 144.66 L613.64 145.18 L613.64 145.69 L613.64 146.21 L613.64 146.72 L613.64 147.24 L613.64 147.76 L613.64 148.27 L613.64 148.79 L613.64 149.3 L613.64 149.82 L613.64 150.34 L613.68 150.85 L613.77 151.37 L613.87 151.89 L613.96 152.4 L614.04 152.92 L614.12 153.43 L614.16 153.95 L614.11 154.47 L614.03 154.98 L613.94 155.5 L613.86 156.01 L613.77 156.53 L613.69 157.05 L613.63 157.56 L613.6 158.08 L613.57 158.59 L613.54 159.11 L613.51 159.63 L613.49 160.14 L613.47 160.66 L613.45 161.18 L613.44 161.69 L613.43 162.21 L613.43 162.72 L613.43 162.72 L613.43 162.21 L613.42 161.69 L613.41 161.18 L613.39 160.66 L613.37 160.14 L613.35 159.63 L613.32 159.11 L613.29 158.59 L613.26 158.08 L613.22 157.56 L613.17 157.05 L613.09 156.53 L613 156.01 L612.92 155.5 L612.83 154.98 L612.75 154.47 L612.7 153.95 L612.73 153.43 L612.82 152.92 L612.9 152.4 L612.99 151.89 L613.09 151.37 L613.18 150.85 L613.22 150.34 L613.22 149.82 L613.22 149.3 L613.22 148.79 L613.22 148.27 L613.22 147.76 L613.22 147.24 L613.22 146.72 L613.22 146.21 L613.22 145.69 L613.22 145.18 L613.22 144.66 L613.22 144.14 L613.22 143.63 L613.22 143.11 L613.22 142.6 L613.22 142.08 L613.22 141.56 L613.22 141.05 L613.22 140.53 L613.22 140.01 L613.22 139.5 L613.22 138.98 L613.22 138.47 L613.22 137.95 L613.22 137.43 L613.22 136.92 L613.21 136.4 L613.2 135.89 L613.18 135.37 L613.17 134.85 L613.15 134.34 L613.13 133.82 L613.1 133.3 L613.08 132.79 L613.05 132.27 L613.02 131.76 L612.99 131.24 L612.94 130.72 L612.88 130.21 L612.81 129.69 L612.72 129.18 L612.63 128.66 L612.52 128.14 L612.36 127.63 L612.19 127.11 L612.03 126.6 L611.9 126.08 L611.81 125.56 L611.71 125.05 L611.61 124.53 L611.47 124.01 L611.3 123.5 L611.11 122.98 L610.91 122.47 L610.72 121.95 L610.52 121.43 L610.31 120.92 L610.1 120.4 L609.88 119.89 L609.65 119.37 L609.42 118.85 L609.18 118.34 L608.94 117.82 L608.69 117.31 L608.44 116.79 L608.17 116.27 L607.88 115.76 L607.56 115.24 L607.23 114.72 L606.87 114.21 L606.49 113.69 L606.08 113.18 L605.64 112.66 L605.17 112.14 L604.67 111.63 L604.1 111.11 L603.49 110.6 L602.87 110.08 L602.24 109.56 L601.62 109.05 L600.97 108.53 L600.31 108.02 L599.63 107.5 L598.91 106.98 L598.18 106.47 L597.45 105.95 L596.73 105.43 L596.05 104.92 L595.36 104.4 L594.66 103.89 L593.93 103.37 L593.17 102.85 L592.39 102.34 L591.6 101.82 L590.82 101.31 L590.05 100.79 L589.27 100.27 L588.5 99.76 L587.72 99.24 L586.92 98.73 L586.12 98.21 L585.36 97.69 L584.66 97.18 L583.96 96.66 L583.3 96.14 L582.76 95.63 L582.41 95.11 L582.13 94.6 L581.91 94.08 L581.79 93.56 L581.81 93.05 L581.9 92.53 L582.04 92.02 L582.31 91.5 L582.7 90.98 L583.18 90.47 L583.69 89.95 L584.3 89.43 L585.02 88.92 L585.82 88.4 L586.67 87.89 L587.6 87.37 L588.63 86.85 L589.73 86.34 L590.87 85.82 L592.1 85.31 L593.41 84.79 L594.75 84.27 L596.06 83.76 L597.37 83.24 L598.68 82.73 L599.96 82.21 L601.21 81.69 L602.43 81.18 L603.62 80.66 L604.76 80.14 L605.82 79.63 L606.82 79.11 L607.77 78.6 L608.63 78.08 L609.38 77.56 L610.05 77.05 L610.67 76.53 L611.2 76.02 L611.61 75.5 L611.94 74.98 L612.22 74.47 L612.45 73.95 L612.61 73.44 L612.74 72.92 L612.85 72.4 L612.94 71.89 L613.01 71.37 L613.08 70.85 L613.12 70.34 L613.16 69.82 L613.19 69.31 L613.23 68.79 L613.26 68.27 L613.29 67.76 L613.32 67.24 L613.34 66.73 L613.36 66.21 L613.38 65.69 L613.4 65.18 L613.41 64.66 L613.42 64.15 L613.43 63.63 L613.43 63.11Z"/>
<line class="w" x1="613.43" y1="64.15" x2="613.43" y2="122.26"/>
<rect class="b" x="606.68" y="89.88" width="13.7" height="12.45"/>
<line class="m" x1="606.68" y1="95.59" x2="620.38" y2="95.59"/>
<circle class="o" cx="613.43" cy="123.29" r="0.95"/>
<circle class="o" cx="613.43" cy="125.89" r="0.95"/>
<circle class="o" cx="613.43" cy="153.9" r="0.95"/>
</g>
<path class="br" d="M545.64 69.7 V68.3 H613.43 V69.7"/>
<text class="sg" x="579.53" y="67.17" text-anchor="middle">ns</text>
<path class="ax" d="M505.02 59.29 V166.94 H653.66"/>
<line class="tk" x1="503.92" y1="64.99" x2="505.02" y2="64.99"/>
<text class="tl" x="502.82" y="66.59" text-anchor="end">0.5</text>
<line class="tk" x1="503.92" y1="89.38" x2="505.02" y2="89.38"/>
<text class="tl" x="502.82" y="90.98" text-anchor="end">0.0</text>
<line class="tk" x1="503.92" y1="113.76" x2="505.02" y2="113.76"/>
<text class="tl" x="502.82" y="115.36" text-anchor="end">-0.5</text>
<line class="tk" x1="503.92" y1="138.15" x2="505.02" y2="138.15"/>
<text class="tl" x="502.82" y="139.75" text-anchor="end">-1.0</text>
<line class="tk" x1="503.92" y1="162.53" x2="505.02" y2="162.53"/>
<text class="tl" x="502.82" y="164.13" text-anchor="end">-1.5</text>
<line class="tk" x1="545.64" y1="166.94" x2="545.64" y2="168.04"/>
<text class="tl" x="545.64" y="172.95" text-anchor="middle">Low−risk</text>
<line class="tk" x1="613.43" y1="166.94" x2="613.43" y2="168.04"/>
<text class="tl" x="613.43" y="172.95" text-anchor="middle">High−risk</text>
<text class="tl" transform="translate(492.23 109.87) rotate(-90)" text-anchor="middle">TIDE</text>
</g>
<g id="panel-D">
<text class="lt" transform="translate(72.96 206.01) scale(1 1)" text-anchor="middle">D</text>
<text class="tt" x="77.46" y="221.27">train</text>
<clipPath id="cD"><rect x="79.31" y="225.18" width="148.38" height="111.17"/></clipPath>
<g clip-path="url(#cD)">
<path class="v" fill="#416AB5" d="M120.95 232.67 L120.95 233.19 L120.97 233.71 L120.99 234.23 L121.01 234.74 L121.05 235.26 L121.09 235.78 L121.14 236.3 L121.19 236.82 L121.24 237.34 L121.3 237.86 L121.36 238.38 L121.44 238.89 L121.56 239.41 L121.7 239.93 L121.85 240.45 L122.02 240.97 L122.19 241.49 L122.38 242.01 L122.6 242.53 L122.84 243.05 L123.09 243.56 L123.32 244.08 L123.54 244.6 L123.75 245.12 L123.96 245.64 L124.17 246.16 L124.36 246.68 L124.54 247.2 L124.68 247.71 L124.82 248.23 L124.95 248.75 L125.06 249.27 L125.15 249.79 L125.2 250.31 L125.24 250.83 L125.26 251.35 L125.29 251.87 L125.3 252.38 L125.31 252.9 L125.29 253.42 L125.26 253.94 L125.22 254.46 L125.16 254.98 L125.1 255.5 L125.01 256.02 L124.9 256.53 L124.76 257.05 L124.61 257.57 L124.48 258.09 L124.34 258.61 L124.21 259.13 L124.07 259.65 L123.93 260.17 L123.79 260.68 L123.65 261.2 L123.5 261.72 L123.36 262.24 L123.21 262.76 L123.06 263.28 L122.93 263.8 L122.82 264.32 L122.71 264.84 L122.6 265.35 L122.51 265.87 L122.42 266.39 L122.35 266.91 L122.3 267.43 L122.26 267.95 L122.22 268.47 L122.18 268.99 L122.15 269.5 L122.13 270.02 L122.11 270.54 L122.09 271.06 L122.09 271.58 L122.09 272.1 L122.09 272.62 L122.09 273.14 L122.09 273.65 L122.09 274.17 L122.09 274.69 L122.09 275.21 L122.09 275.73 L122.09 276.25 L122.09 276.77 L122.09 277.29 L122.09 277.81 L122.09 278.32 L122.09 278.84 L122.09 279.36 L122.09 279.88 L122.09 280.4 L122.09 280.92 L122.09 281.44 L122.09 281.96 L122.09 282.47 L122.09 282.99 L122.09 283.51 L122.09 284.03 L122.09 284.55 L122.1 285.07 L122.11 285.59 L122.12 286.11 L122.14 286.63 L122.15 287.14 L122.17 287.66 L122.19 288.18 L122.22 288.7 L122.26 289.22 L122.31 289.74 L122.36 290.26 L122.43 290.78 L122.5 291.29 L122.6 291.81 L122.72 292.33 L122.86 292.85 L123.04 293.37 L123.23 293.89 L123.47 294.41 L123.79 294.93 L124.16 295.44 L124.58 295.96 L125.09 296.48 L125.72 297 L126.43 297.52 L127.17 298.04 L127.99 298.56 L128.88 299.08 L129.84 299.6 L130.81 300.11 L131.8 300.63 L132.85 301.15 L133.91 301.67 L134.96 302.19 L135.99 302.71 L137.03 303.23 L138.07 303.75 L139.11 304.26 L140.16 304.78 L141.22 305.3 L142.26 305.82 L143.26 306.34 L144.23 306.86 L145.19 307.38 L146.09 307.9 L146.89 308.42 L147.6 308.93 L148.24 309.45 L148.76 309.97 L149.22 310.49 L149.62 311.01 L149.79 311.53 L149.75 312.05 L149.64 312.57 L149.48 313.08 L149.13 313.6 L148.5 314.12 L147.71 314.64 L146.89 315.16 L146 315.68 L144.96 316.2 L143.85 316.72 L142.74 317.23 L141.61 317.75 L140.44 318.27 L139.25 318.79 L138.07 319.31 L136.89 319.83 L135.71 320.35 L134.54 320.87 L133.4 321.39 L132.26 321.9 L131.14 322.42 L130.05 322.94 L129.04 323.46 L128.1 323.98 L127.2 324.5 L126.37 325.02 L125.62 325.54 L124.93 326.05 L124.3 326.57 L123.73 327.09 L123.23 327.61 L122.8 328.13 L122.41 328.65 L122.07 329.17 L121.78 329.69 L121.52 330.2 L121.3 330.72 L121.1 331.24 L120.95 331.76 L120.95 331.76 L120.79 331.24 L120.6 330.72 L120.37 330.2 L120.12 329.69 L119.83 329.17 L119.49 328.65 L119.1 328.13 L118.67 327.61 L118.17 327.09 L117.6 326.57 L116.96 326.05 L116.28 325.54 L115.53 325.02 L114.69 324.5 L113.8 323.98 L112.85 323.46 L111.85 322.94 L110.76 322.42 L109.63 321.9 L108.5 321.39 L107.35 320.87 L106.18 320.35 L105 319.83 L103.83 319.31 L102.65 318.79 L101.46 318.27 L100.29 317.75 L99.16 317.23 L98.04 316.72 L96.93 316.2 L95.9 315.68 L95.01 315.16 L94.19 314.64 L93.4 314.12 L92.77 313.6 L92.41 313.08 L92.26 312.57 L92.14 312.05 L92.1 311.53 L92.27 311.01 L92.67 310.49 L93.14 309.97 L93.66 309.45 L94.3 308.93 L95.01 308.42 L95.81 307.9 L96.71 307.38 L97.66 306.86 L98.64 306.34 L99.64 305.82 L100.68 305.3 L101.74 304.78 L102.79 304.26 L103.83 303.75 L104.87 303.23 L105.9 302.71 L106.94 302.19 L107.99 301.67 L109.05 301.15 L110.09 300.63 L111.09 300.11 L112.06 299.6 L113.01 299.08 L113.91 298.56 L114.72 298.04 L115.47 297.52 L116.18 297 L116.8 296.48 L117.32 295.96 L117.74 295.44 L118.11 294.93 L118.42 294.41 L118.67 293.89 L118.86 293.37 L119.03 292.85 L119.18 292.33 L119.3 291.81 L119.39 291.29 L119.47 290.78 L119.53 290.26 L119.59 289.74 L119.64 289.22 L119.68 288.7 L119.7 288.18 L119.72 287.66 L119.74 287.14 L119.76 286.63 L119.78 286.11 L119.79 285.59 L119.8 285.07 L119.8 284.55 L119.81 284.03 L119.81 283.51 L119.81 282.99 L119.81 282.47 L119.81 281.96 L119.81 281.44 L119.81 280.92 L119.81 280.4 L119.81 279.88 L119.81 279.36 L119.81 278.84 L119.81 278.32 L119.81 277.81 L119.81 277.29 L119.81 276.77 L119.81 276.25 L119.81 275.73 L119.81 275.21 L119.81 274.69 L119.81 274.17 L119.81 273.65 L119.81 273.14 L119.81 272.62 L119.81 272.1 L119.81 271.58 L119.8 271.06 L119.79 270.54 L119.77 270.02 L119.74 269.5 L119.71 268.99 L119.68 268.47 L119.64 267.95 L119.6 267.43 L119.55 266.91 L119.48 266.39 L119.39 265.87 L119.29 265.35 L119.19 264.84 L119.08 264.32 L118.96 263.8 L118.83 263.28 L118.69 262.76 L118.54 262.24 L118.39 261.72 L118.25 261.2 L118.11 260.68 L117.97 260.17 L117.83 259.65 L117.69 259.13 L117.55 258.61 L117.42 258.09 L117.28 257.57 L117.14 257.05 L117 256.53 L116.88 256.02 L116.8 255.5 L116.74 254.98 L116.68 254.46 L116.63 253.94 L116.6 253.42 L116.59 252.9 L116.6 252.38 L116.61 251.87 L116.63 251.35 L116.66 250.83 L116.69 250.31 L116.75 249.79 L116.84 249.27 L116.95 248.75 L117.08 248.23 L117.21 247.71 L117.36 247.2 L117.54 246.68 L117.73 246.16 L117.93 245.64 L118.14 245.12 L118.35 244.6 L118.57 244.08 L118.81 243.56 L119.05 243.05 L119.29 242.53 L119.51 242.01 L119.7 241.49 L119.87 240.97 L120.04 240.45 L120.2 239.93 L120.34 239.41 L120.45 238.89 L120.53 238.38 L120.59 237.86 L120.65 237.34 L120.71 236.82 L120.76 236.3 L120.81 235.78 L120.85 235.26 L120.88 234.74 L120.91 234.23 L120.93 233.71 L120.94 233.19 L120.95 232.67Z"/>
<line class="w" x1="120.95" y1="308.93" x2="120.95" y2="312.36"/>
<line class="m2" x1="114.2" y1="312.36" x2="127.9" y2="312.36"/>
<circle class="o" cx="120.95" cy="252.38" r="0.95"/>
<circle class="o" cx="120.95" cy="253.94" r="0.95"/>
<circle class="o" cx="120.95" cy="255.5" r="0.95"/>
<circle class="o" cx="120.95" cy="258.61" r="0.95"/>
<circle class="o" cx="120.95" cy="260.17" r="0.95"/>
<circle class="o" cx="120.95" cy="263.28" r="0.95"/>
<circle class="o" cx="120.95" cy="266.91" r="0.95"/>
<circle class="o" cx="120.95" cy="269.5" r="0.95"/>
<circle class="o" cx="120.95" cy="276.77" r="0.95"/>
<circle class="o" cx="120.95" cy="278.84" r="0.95"/>
<circle class="o" cx="120.95" cy="282.47" r="0.95"/>
<circle class="o" cx="120.95" cy="284.55" r="0.95"/>
<circle class="o" cx="120.95" cy="298.04" r="0.95"/>
<circle class="o" cx="120.95" cy="299.6" r="0.95"/>
<circle class="o" cx="120.95" cy="301.67" r="0.95"/>
<circle class="o" cx="120.95" cy="303.23" r="0.95"/>
<circle class="o" cx="120.95" cy="305.3" r="0.95"/>
<circle class="o" cx="120.95" cy="307.38" r="0.95"/>
<path class="v" fill="#ED2024" d="M189.64 235.06 L189.64 235.57 L189.66 236.09 L189.69 236.61 L189.73 237.13 L189.78 237.65 L189.84 238.17 L189.9 238.68 L189.97 239.2 L190.05 239.72 L190.12 240.24 L190.21 240.76 L190.33 241.27 L190.48 241.79 L190.66 242.31 L190.84 242.83 L191.02 243.35 L191.19 243.87 L191.38 244.38 L191.58 244.9 L191.78 245.42 L191.98 245.94 L192.16 246.46 L192.32 246.98 L192.48 247.49 L192.64 248.01 L192.78 248.53 L192.91 249.05 L193.02 249.57 L193.11 250.08 L193.2 250.6 L193.27 251.12 L193.33 251.64 L193.37 252.16 L193.37 252.68 L193.33 253.19 L193.27 253.71 L193.19 254.23 L193.1 254.75 L193.01 255.27 L192.9 255.79 L192.76 256.3 L192.61 256.82 L192.46 257.34 L192.3 257.86 L192.14 258.38 L191.96 258.89 L191.77 259.41 L191.58 259.93 L191.4 260.45 L191.25 260.97 L191.13 261.49 L191.02 262 L190.93 262.52 L190.84 263.04 L190.76 263.56 L190.7 264.08 L190.65 264.6 L190.6 265.11 L190.56 265.63 L190.52 266.15 L190.49 266.67 L190.45 267.19 L190.43 267.7 L190.4 268.22 L190.38 268.74 L190.37 269.26 L190.36 269.78 L190.35 270.3 L190.34 270.81 L190.33 271.33 L190.32 271.85 L190.32 272.37 L190.31 272.89 L190.3 273.41 L190.3 273.92 L190.29 274.44 L190.28 274.96 L190.28 275.48 L190.28 276 L190.27 276.51 L190.27 277.03 L190.27 277.55 L190.26 278.07 L190.26 278.59 L190.26 279.11 L190.26 279.62 L190.26 280.14 L190.26 280.66 L190.26 281.18 L190.26 281.7 L190.27 282.22 L190.27 282.73 L190.28 283.25 L190.28 283.77 L190.29 284.29 L190.3 284.81 L190.31 285.33 L190.32 285.84 L190.32 286.36 L190.33 286.88 L190.35 287.4 L190.36 287.92 L190.37 288.43 L190.39 288.95 L190.42 289.47 L190.45 289.99 L190.49 290.51 L190.54 291.03 L190.59 291.54 L190.64 292.06 L190.7 292.58 L190.78 293.1 L190.87 293.62 L190.98 294.14 L191.11 294.65 L191.28 295.17 L191.54 295.69 L191.88 296.21 L192.3 296.73 L192.79 297.24 L193.49 297.76 L194.33 298.28 L195.29 298.8 L196.46 299.32 L197.76 299.84 L199.07 300.35 L200.44 300.87 L201.85 301.39 L203.24 301.91 L204.62 302.43 L206.01 302.95 L207.39 303.46 L208.77 303.98 L210.15 304.5 L211.54 305.02 L212.95 305.54 L214.33 306.05 L215.64 306.57 L216.89 307.09 L218.08 307.61 L219.17 308.13 L220.22 308.65 L221.15 309.16 L221.91 309.68 L222.55 310.2 L223.1 310.72 L223.57 311.24 L224 311.76 L224.05 312.27 L223.77 312.79 L223.34 313.31 L222.73 313.83 L221.85 314.35 L220.84 314.86 L219.78 315.38 L218.57 315.9 L217.23 316.42 L215.85 316.94 L214.47 317.46 L213.07 317.97 L211.63 318.49 L210.18 319.01 L208.75 319.53 L207.3 320.05 L205.86 320.57 L204.45 321.08 L203.08 321.6 L201.72 322.12 L200.41 322.64 L199.15 323.16 L197.98 323.67 L196.86 324.19 L195.79 324.71 L194.82 325.23 L193.97 325.75 L193.19 326.27 L192.47 326.78 L191.84 327.3 L191.29 327.82 L190.8 328.34 L190.35 328.86 L189.96 329.38 L189.64 329.89 L189.64 329.89 L189.32 329.38 L188.93 328.86 L188.48 328.34 L187.98 327.82 L187.44 327.3 L186.8 326.78 L186.09 326.27 L185.3 325.75 L184.45 325.23 L183.48 324.71 L182.42 324.19 L181.29 323.67 L180.12 323.16 L178.87 322.64 L177.55 322.12 L176.2 321.6 L174.83 321.08 L173.41 320.57 L171.97 320.05 L170.53 319.53 L169.09 319.01 L167.65 318.49 L166.21 317.97 L164.8 317.46 L163.43 316.94 L162.04 316.42 L160.71 315.9 L159.49 315.38 L158.44 314.86 L157.42 314.35 L156.55 313.83 L155.93 313.31 L155.51 312.79 L155.22 312.27 L155.28 311.76 L155.71 311.24 L156.18 310.72 L156.72 310.2 L157.36 309.68 L158.12 309.16 L159.06 308.65 L160.1 308.13 L161.2 307.61 L162.38 307.09 L163.64 306.57 L164.94 306.05 L166.32 305.54 L167.73 305.02 L169.12 304.5 L170.5 303.98 L171.89 303.46 L173.27 302.95 L174.65 302.43 L176.03 301.91 L177.42 301.39 L178.83 300.87 L180.21 300.35 L181.52 299.84 L182.81 299.32 L183.98 298.8 L184.94 298.28 L185.79 297.76 L186.48 297.24 L186.98 296.73 L187.39 296.21 L187.73 295.69 L187.99 295.17 L188.16 294.65 L188.3 294.14 L188.41 293.62 L188.5 293.1 L188.57 292.58 L188.63 292.06 L188.68 291.54 L188.74 291.03 L188.78 290.51 L188.82 289.99 L188.86 289.47 L188.88 288.95 L188.9 288.43 L188.92 287.92 L188.93 287.4 L188.94 286.88 L188.95 286.36 L188.96 285.84 L188.97 285.33 L188.98 284.81 L188.98 284.29 L188.99 283.77 L189 283.25 L189 282.73 L189.01 282.22 L189.01 281.7 L189.01 281.18 L189.01 280.66 L189.01 280.14 L189.01 279.62 L189.01 279.11 L189.01 278.59 L189.01 278.07 L189.01 277.55 L189.01 277.03 L189 276.51 L189 276 L188.99 275.48 L188.99 274.96 L188.98 274.44 L188.98 273.92 L188.97 273.41 L188.97 272.89 L188.96 272.37 L188.95 271.85 L188.94 271.33 L188.93 270.81 L188.92 270.3 L188.92 269.78 L188.91 269.26 L188.89 268.74 L188.87 268.22 L188.85 267.7 L188.82 267.19 L188.79 266.67 L188.75 266.15 L188.71 265.63 L188.67 265.11 L188.62 264.6 L188.58 264.08 L188.51 263.56 L188.44 263.04 L188.35 262.52 L188.25 262 L188.14 261.49 L188.02 260.97 L187.87 260.45 L187.69 259.93 L187.5 259.41 L187.31 258.89 L187.13 258.38 L186.97 257.86 L186.82 257.34 L186.66 256.82 L186.51 256.3 L186.38 255.79 L186.26 255.27 L186.17 254.75 L186.09 254.23 L186.01 253.71 L185.95 253.19 L185.91 252.68 L185.91 252.16 L185.94 251.64 L186 251.12 L186.08 250.6 L186.16 250.08 L186.25 249.57 L186.36 249.05 L186.49 248.53 L186.63 248.01 L186.79 247.49 L186.95 246.98 L187.11 246.46 L187.29 245.94 L187.49 245.42 L187.69 244.9 L187.89 244.38 L188.08 243.87 L188.26 243.35 L188.44 242.83 L188.62 242.31 L188.79 241.79 L188.94 241.27 L189.06 240.76 L189.15 240.24 L189.23 239.72 L189.3 239.2 L189.37 238.68 L189.43 238.17 L189.49 237.65 L189.54 237.13 L189.58 236.61 L189.61 236.09 L189.63 235.57 L189.64 235.06Z"/>
<line class="w" x1="189.64" y1="306.34" x2="189.64" y2="312.36"/>
<line class="m2" x1="183" y1="312.36" x2="196.49" y2="312.36"/>
<circle class="o" cx="189.64" cy="252.7" r="0.95"/>
<circle class="o" cx="189.64" cy="258.61" r="0.95"/>
<circle class="o" cx="189.64" cy="261.72" r="0.95"/>
<circle class="o" cx="189.64" cy="275.73" r="0.95"/>
<circle class="o" cx="189.64" cy="281.96" r="0.95"/>
<circle class="o" cx="189.64" cy="294.41" r="0.95"/>
<circle class="o" cx="189.64" cy="295.96" r="0.95"/>
</g>
<path class="br" d="M120.95 250.88 V249.48 H189.64 V250.88"/>
<text class="sg" x="155.29" y="248.34" text-anchor="middle">ns</text>
<path class="ax" d="M79.31 228.18 V336.35 H227.69"/>
<line class="tk" x1="78.21" y1="252.3" x2="79.31" y2="252.3"/>
<text class="tl" x="77.11" y="253.9" text-anchor="end">1.0</text>
<line class="tk" x1="78.21" y1="282.13" x2="79.31" y2="282.13"/>
<text class="tl" x="77.11" y="283.73" text-anchor="end">0.5</text>
<line class="tk" x1="78.21" y1="311.96" x2="79.31" y2="311.96"/>
<text class="tl" x="77.11" y="313.56" text-anchor="end">0.0</text>
<line class="tk" x1="120.95" y1="336.35" x2="120.95" y2="337.45"/>
<text class="tl" x="120.95" y="342.1" text-anchor="middle">Low−risk</text>
<line class="tk" x1="189.64" y1="336.35" x2="189.64" y2="337.45"/>
<text class="tl" x="189.64" y="342.1" text-anchor="middle">High−risk</text>
<text class="tl" transform="translate(68.08 282.65) rotate(-90)" text-anchor="middle">MSI</text>
</g>
<g id="panel-E">
<text class="lt" transform="translate(290.48 200.56) scale(0.8 1)" text-anchor="middle">E</text>
<text class="tt" x="295.24" y="219.72">test</text>
<clipPath id="cE"><rect x="297.09" y="221.29" width="149.16" height="115.06"/></clipPath>
<g clip-path="url(#cE)">
<path class="v" fill="#416AB5" d="M339.43 229.25 L339.43 229.76 L339.45 230.28 L339.47 230.8 L339.49 231.32 L339.52 231.83 L339.56 232.35 L339.6 232.87 L339.65 233.39 L339.7 233.9 L339.75 234.42 L339.81 234.94 L339.87 235.46 L339.94 235.98 L340.04 236.49 L340.15 237.01 L340.27 237.53 L340.4 238.05 L340.54 238.56 L340.68 239.08 L340.83 239.6 L341.01 240.12 L341.2 240.64 L341.41 241.15 L341.62 241.67 L341.81 242.19 L341.98 242.71 L342.14 243.22 L342.3 243.74 L342.45 244.26 L342.58 244.78 L342.69 245.3 L342.78 245.81 L342.85 246.33 L342.92 246.85 L342.98 247.37 L343.03 247.88 L343.06 248.4 L343.06 248.92 L343.05 249.44 L343.02 249.96 L342.98 250.47 L342.94 250.99 L342.89 251.51 L342.83 252.03 L342.75 252.54 L342.64 253.06 L342.51 253.58 L342.37 254.1 L342.22 254.62 L342.09 255.13 L341.93 255.65 L341.77 256.17 L341.6 256.69 L341.44 257.2 L341.29 257.72 L341.16 258.24 L341.03 258.76 L340.91 259.27 L340.79 259.79 L340.69 260.31 L340.61 260.83 L340.56 261.35 L340.52 261.86 L340.48 262.38 L340.45 262.9 L340.42 263.42 L340.39 263.93 L340.38 264.45 L340.37 264.97 L340.36 265.49 L340.36 266.01 L340.36 266.52 L340.36 267.04 L340.36 267.56 L340.36 268.08 L340.36 268.59 L340.36 269.11 L340.36 269.63 L340.36 270.15 L340.36 270.67 L340.36 271.18 L340.36 271.7 L340.36 272.22 L340.36 272.74 L340.36 273.25 L340.36 273.77 L340.36 274.29 L340.36 274.81 L340.36 275.33 L340.37 275.84 L340.37 276.36 L340.37 276.88 L340.37 277.4 L340.38 277.91 L340.38 278.43 L340.39 278.95 L340.39 279.47 L340.4 279.98 L340.41 280.5 L340.42 281.02 L340.42 281.54 L340.43 282.06 L340.44 282.57 L340.45 283.09 L340.46 283.61 L340.47 284.13 L340.48 284.64 L340.49 285.16 L340.51 285.68 L340.52 286.2 L340.54 286.72 L340.56 287.23 L340.59 287.75 L340.61 288.27 L340.65 288.79 L340.68 289.3 L340.74 289.82 L340.82 290.34 L340.92 290.86 L341.04 291.38 L341.17 291.89 L341.32 292.41 L341.5 292.93 L341.71 293.45 L341.97 293.96 L342.26 294.48 L342.59 295 L343 295.52 L343.49 296.04 L344.07 296.55 L344.71 297.07 L345.47 297.59 L346.36 298.11 L347.35 298.62 L348.38 299.14 L349.52 299.66 L350.75 300.18 L352.04 300.7 L353.39 301.21 L354.79 301.73 L356.19 302.25 L357.58 302.77 L358.97 303.28 L360.33 303.8 L361.67 304.32 L362.98 304.84 L364.25 305.35 L365.48 305.87 L366.65 306.39 L367.75 306.91 L368.79 307.43 L369.77 307.94 L370.63 308.46 L371.42 308.98 L372.12 309.5 L372.67 310.01 L373.14 310.53 L373.53 311.05 L373.67 311.57 L373.56 312.09 L373.31 312.6 L372.95 313.12 L372.24 313.64 L371.29 314.16 L370.29 314.67 L369.19 315.19 L367.95 315.71 L366.63 316.23 L365.29 316.75 L363.92 317.26 L362.49 317.78 L361.03 318.3 L359.59 318.82 L358.15 319.33 L356.7 319.85 L355.27 320.37 L353.9 320.89 L352.59 321.41 L351.32 321.92 L350.1 322.44 L348.94 322.96 L347.81 323.48 L346.72 323.99 L345.71 324.51 L344.8 325.03 L344 325.55 L343.26 326.07 L342.6 326.58 L342.01 327.1 L341.49 327.62 L341.01 328.14 L340.59 328.65 L340.26 329.17 L339.99 329.69 L339.75 330.21 L339.56 330.72 L339.43 331.24 L339.43 331.24 L339.3 330.72 L339.11 330.21 L338.87 329.69 L338.6 329.17 L338.27 328.65 L337.85 328.14 L337.37 327.62 L336.84 327.1 L336.26 326.58 L335.6 326.07 L334.86 325.55 L334.05 325.03 L333.15 324.51 L332.14 323.99 L331.05 323.48 L329.92 322.96 L328.76 322.44 L327.54 321.92 L326.27 321.41 L324.96 320.89 L323.59 320.37 L322.16 319.85 L320.71 319.33 L319.27 318.82 L317.82 318.3 L316.37 317.78 L314.94 317.26 L313.56 316.75 L312.23 316.23 L310.91 315.71 L309.67 315.19 L308.57 314.67 L307.56 314.16 L306.62 313.64 L305.91 313.12 L305.55 312.6 L305.3 312.09 L305.19 311.57 L305.33 311.05 L305.71 310.53 L306.19 310.01 L306.73 309.5 L307.44 308.98 L308.23 308.46 L309.09 307.94 L310.07 307.43 L311.1 306.91 L312.2 306.39 L313.38 305.87 L314.61 305.35 L315.87 304.84 L317.19 304.32 L318.53 303.8 L319.89 303.28 L321.28 302.77 L322.67 302.25 L324.07 301.73 L325.47 301.21 L326.82 300.7 L328.11 300.18 L329.34 299.66 L330.48 299.14 L331.51 298.62 L332.5 298.11 L333.39 297.59 L334.15 297.07 L334.79 296.55 L335.36 296.04 L335.86 295.52 L336.27 295 L336.6 294.48 L336.89 293.96 L337.15 293.45 L337.36 292.93 L337.54 292.41 L337.68 291.89 L337.82 291.38 L337.94 290.86 L338.04 290.34 L338.12 289.82 L338.18 289.3 L338.21 288.79 L338.24 288.27 L338.27 287.75 L338.3 287.23 L338.32 286.72 L338.34 286.2 L338.35 285.68 L338.37 285.16 L338.38 284.64 L338.39 284.13 L338.4 283.61 L338.41 283.09 L338.42 282.57 L338.43 282.06 L338.43 281.54 L338.44 281.02 L338.45 280.5 L338.46 279.98 L338.46 279.47 L338.47 278.95 L338.48 278.43 L338.48 277.91 L338.48 277.4 L338.49 276.88 L338.49 276.36 L338.49 275.84 L338.49 275.33 L338.5 274.81 L338.5 274.29 L338.5 273.77 L338.5 273.25 L338.5 272.74 L338.5 272.22 L338.5 271.7 L338.5 271.18 L338.5 270.67 L338.5 270.15 L338.5 269.63 L338.5 269.11 L338.5 268.59 L338.5 268.08 L338.5 267.56 L338.5 267.04 L338.5 266.52 L338.5 266.01 L338.5 265.49 L338.49 264.97 L338.48 264.45 L338.47 263.93 L338.44 263.42 L338.41 262.9 L338.38 262.38 L338.34 261.86 L338.3 261.35 L338.25 260.83 L338.17 260.31 L338.07 259.79 L337.95 259.27 L337.83 258.76 L337.7 258.24 L337.57 257.72 L337.42 257.2 L337.26 256.69 L337.09 256.17 L336.92 255.65 L336.77 255.13 L336.63 254.62 L336.49 254.1 L336.35 253.58 L336.22 253.06 L336.11 252.54 L336.02 252.03 L335.97 251.51 L335.92 250.99 L335.87 250.47 L335.84 249.96 L335.81 249.44 L335.8 248.92 L335.8 248.4 L335.83 247.88 L335.88 247.37 L335.94 246.85 L336.01 246.33 L336.08 245.81 L336.17 245.3 L336.28 244.78 L336.41 244.26 L336.56 243.74 L336.72 243.22 L336.88 242.71 L337.05 242.19 L337.24 241.67 L337.45 241.15 L337.65 240.64 L337.85 240.12 L338.03 239.6 L338.17 239.08 L338.32 238.56 L338.46 238.05 L338.59 237.53 L338.71 237.01 L338.82 236.49 L338.92 235.98 L338.99 235.46 L339.05 234.94 L339.1 234.42 L339.16 233.9 L339.21 233.39 L339.25 232.87 L339.3 232.35 L339.33 231.83 L339.37 231.32 L339.39 230.8 L339.41 230.28 L339.43 229.76 L339.43 229.25Z"/>
<line class="m2" x1="332.68" y1="312.05" x2="346.69" y2="312.05"/>
<circle class="o" cx="339.43" cy="248.44" r="0.95"/>
<circle class="o" cx="339.43" cy="252.07" r="0.95"/>
<circle class="o" cx="339.43" cy="253.94" r="0.95"/>
<circle class="o" cx="339.43" cy="272.62" r="0.95"/>
<circle class="o" cx="339.43" cy="276.77" r="0.95"/>
<circle class="o" cx="339.43" cy="279.88" r="0.95"/>
<circle class="o" cx="339.43" cy="292.33" r="0.95"/>
<circle class="o" cx="339.43" cy="295.96" r="0.95"/>
<circle class="o" cx="339.43" cy="301.15" r="0.95"/>
<circle class="o" cx="339.43" cy="304.78" r="0.95"/>
<circle class="o" cx="339.43" cy="307.9" r="0.95"/>
<circle class="o" cx="339.43" cy="310.49" r="0.95"/>
<path class="v" fill="#ED2024" d="M410.64 229.04 L410.64 229.56 L410.65 230.07 L410.67 230.59 L410.7 231.11 L410.73 231.63 L410.76 232.14 L410.8 232.66 L410.85 233.18 L410.9 233.7 L410.95 234.22 L411 234.73 L411.05 235.25 L411.11 235.77 L411.19 236.29 L411.29 236.8 L411.4 237.32 L411.51 237.84 L411.63 238.36 L411.76 238.88 L411.88 239.39 L412 239.91 L412.14 240.43 L412.28 240.95 L412.43 241.46 L412.57 241.98 L412.71 242.5 L412.84 243.02 L412.98 243.53 L413.12 244.05 L413.25 244.57 L413.36 245.09 L413.43 245.61 L413.49 246.12 L413.54 246.64 L413.58 247.16 L413.61 247.68 L413.64 248.19 L413.65 248.71 L413.63 249.23 L413.6 249.75 L413.55 250.27 L413.48 250.78 L413.41 251.3 L413.34 251.82 L413.26 252.34 L413.17 252.85 L413.07 253.37 L412.96 253.89 L412.84 254.41 L412.72 254.93 L412.6 255.44 L412.46 255.96 L412.32 256.48 L412.18 257 L412.03 257.51 L411.9 258.03 L411.77 258.55 L411.63 259.07 L411.5 259.59 L411.37 260.1 L411.26 260.62 L411.17 261.14 L411.08 261.66 L411 262.17 L410.92 262.69 L410.87 263.21 L410.84 263.73 L410.84 264.25 L410.84 264.76 L410.84 265.28 L410.84 265.8 L410.84 266.32 L410.84 266.83 L410.84 267.35 L410.84 267.87 L410.84 268.39 L410.84 268.91 L410.84 269.42 L410.84 269.94 L410.84 270.46 L410.84 270.98 L410.84 271.49 L410.84 272.01 L410.84 272.53 L410.84 273.05 L410.84 273.56 L410.84 274.08 L410.84 274.6 L410.84 275.12 L410.84 275.64 L410.84 276.15 L410.84 276.67 L410.84 277.19 L410.84 277.71 L410.84 278.22 L410.84 278.74 L410.84 279.26 L410.84 279.78 L410.84 280.3 L410.84 280.81 L410.84 281.33 L410.84 281.85 L410.84 282.37 L410.84 282.88 L410.84 283.4 L410.84 283.92 L410.84 284.44 L410.84 284.96 L410.84 285.47 L410.84 285.99 L410.85 286.51 L410.86 287.03 L410.87 287.54 L410.9 288.06 L410.93 288.58 L410.96 289.1 L411 289.62 L411.04 290.13 L411.1 290.65 L411.19 291.17 L411.31 291.69 L411.46 292.2 L411.63 292.72 L411.83 293.24 L412.1 293.76 L412.44 294.28 L412.82 294.79 L413.25 295.31 L413.78 295.83 L414.4 296.35 L415.11 296.86 L415.93 297.38 L416.96 297.9 L418.1 298.42 L419.33 298.94 L420.71 299.45 L422.16 299.97 L423.65 300.49 L425.22 301.01 L426.8 301.52 L428.36 302.04 L429.92 302.56 L431.47 303.08 L432.99 303.59 L434.5 304.11 L435.96 304.63 L437.33 305.15 L438.63 305.67 L439.86 306.18 L441 306.7 L442.09 307.22 L443.06 307.74 L443.88 308.25 L444.63 308.77 L445.24 309.29 L445.7 309.81 L446.08 310.33 L446.37 310.84 L446.56 311.36 L446.64 311.88 L446.39 312.4 L445.89 312.91 L445.27 313.43 L444.4 313.95 L443.34 314.47 L442.21 314.99 L440.95 315.5 L439.52 316.02 L438 316.54 L436.49 317.06 L434.97 317.57 L433.4 318.09 L431.83 318.61 L430.28 319.13 L428.74 319.65 L427.21 320.16 L425.71 320.68 L424.28 321.2 L422.89 321.72 L421.55 322.23 L420.27 322.75 L419.11 323.27 L418.04 323.79 L417.03 324.31 L416.11 324.82 L415.29 325.34 L414.53 325.86 L413.83 326.38 L413.21 326.89 L412.7 327.41 L412.29 327.93 L411.93 328.45 L411.62 328.97 L411.36 329.48 L411.14 330 L410.93 330.52 L410.76 331.04 L410.64 331.55 L410.64 331.55 L410.51 331.04 L410.34 330.52 L410.14 330 L409.91 329.48 L409.65 328.97 L409.34 328.45 L408.98 327.93 L408.57 327.41 L408.06 326.89 L407.44 326.38 L406.74 325.86 L405.99 325.34 L405.16 324.82 L404.24 324.31 L403.24 323.79 L402.16 323.27 L401 322.75 L399.73 322.23 L398.38 321.72 L397 321.2 L395.57 320.68 L394.07 320.16 L392.53 319.65 L391 319.13 L389.45 318.61 L387.87 318.09 L386.3 317.57 L384.78 317.06 L383.27 316.54 L381.76 316.02 L380.33 315.5 L379.06 314.99 L377.93 314.47 L376.88 313.95 L376 313.43 L375.39 312.91 L374.88 312.4 L374.63 311.88 L374.72 311.36 L374.9 310.84 L375.19 310.33 L375.57 309.81 L376.03 309.29 L376.64 308.77 L377.39 308.25 L378.22 307.74 L379.18 307.22 L380.27 306.7 L381.41 306.18 L382.64 305.67 L383.95 305.15 L385.32 304.63 L386.77 304.11 L388.28 303.59 L389.81 303.08 L391.35 302.56 L392.92 302.04 L394.48 301.52 L396.06 301.01 L397.62 300.49 L399.11 299.97 L400.56 299.45 L401.94 298.94 L403.17 298.42 L404.32 297.9 L405.34 297.38 L406.17 296.86 L406.87 296.35 L407.49 295.83 L408.02 295.31 L408.46 294.79 L408.84 294.28 L409.17 293.76 L409.44 293.24 L409.64 292.72 L409.81 292.2 L409.96 291.69 L410.08 291.17 L410.18 290.65 L410.23 290.13 L410.28 289.62 L410.31 289.1 L410.35 288.58 L410.38 288.06 L410.4 287.54 L410.42 287.03 L410.43 286.51 L410.43 285.99 L410.43 285.47 L410.43 284.96 L410.43 284.44 L410.43 283.92 L410.43 283.4 L410.43 282.88 L410.43 282.37 L410.43 281.85 L410.43 281.33 L410.43 280.81 L410.43 280.3 L410.43 279.78 L410.43 279.26 L410.43 278.74 L410.43 278.22 L410.43 277.71 L410.43 277.19 L410.43 276.67 L410.43 276.15 L410.43 275.64 L410.43 275.12 L410.43 274.6 L410.43 274.08 L410.43 273.56 L410.43 273.05 L410.43 272.53 L410.43 272.01 L410.43 271.49 L410.43 270.98 L410.43 270.46 L410.43 269.94 L410.43 269.42 L410.43 268.91 L410.43 268.39 L410.43 267.87 L410.43 267.35 L410.43 266.83 L410.43 266.32 L410.43 265.8 L410.43 265.28 L410.43 264.76 L410.43 264.25 L410.43 263.73 L410.4 263.21 L410.35 262.69 L410.28 262.17 L410.19 261.66 L410.11 261.14 L410.01 260.62 L409.9 260.1 L409.78 259.59 L409.64 259.07 L409.51 258.55 L409.38 258.03 L409.24 257.51 L409.1 257 L408.95 256.48 L408.81 255.96 L408.67 255.44 L408.55 254.93 L408.43 254.41 L408.31 253.89 L408.2 253.37 L408.1 252.85 L408.01 252.34 L407.93 251.82 L407.86 251.3 L407.79 250.78 L407.73 250.27 L407.67 249.75 L407.64 249.23 L407.63 248.71 L407.64 248.19 L407.66 247.68 L407.69 247.16 L407.74 246.64 L407.79 246.12 L407.84 245.61 L407.91 245.09 L408.02 244.57 L408.15 244.05 L408.29 243.53 L408.43 243.02 L408.57 242.5 L408.7 241.98 L408.85 241.46 L408.99 240.95 L409.13 240.43 L409.27 239.91 L409.4 239.39 L409.52 238.88 L409.64 238.36 L409.76 237.84 L409.88 237.32 L409.98 236.8 L410.08 236.29 L410.16 235.77 L410.22 235.25 L410.28 234.73 L410.33 234.22 L410.38 233.7 L410.43 233.18 L410.47 232.66 L410.51 232.14 L410.55 231.63 L410.58 231.11 L410.6 230.59 L410.62 230.07 L410.63 229.56 L410.64 229.04Z"/>
<line class="w" x1="410.64" y1="309.45" x2="410.64" y2="312.05"/>
<line class="m2" x1="403.68" y1="312.05" x2="417.69" y2="312.05"/>
<circle class="o" cx="410.64" cy="248.44" r="0.95"/>
<circle class="o" cx="410.64" cy="250.1" r="0.95"/>
<circle class="o" cx="410.64" cy="301.36" r="0.95"/>
<circle class="o" cx="410.64" cy="310.49" r="0.95"/>
</g>
<path class="br" d="M339.43 246.83 V245.43 H410.64 V246.83"/>
<text class="sg" x="375.03" y="244.3" text-anchor="middle">ns</text>
<path class="ax" d="M297.09 224.29 V336.35 H446.25"/>
<line class="tk" x1="295.99" y1="248.67" x2="297.09" y2="248.67"/>
<text class="tl" x="294.89" y="250.27" text-anchor="end">1.0</text>
<line class="tk" x1="295.99" y1="280.32" x2="297.09" y2="280.32"/>
<text class="tl" x="294.89" y="281.92" text-anchor="end">0.5</text>
<line class="tk" x1="295.99" y1="311.71" x2="297.09" y2="311.71"/>
<text class="tl" x="294.89" y="313.31" text-anchor="end">0.0</text>
<line class="tk" x1="339.43" y1="336.35" x2="339.43" y2="337.45"/>
<text class="tl" x="339.43" y="342.1" text-anchor="middle">Low−risk</text>
<line class="tk" x1="410.64" y1="336.35" x2="410.64" y2="337.45"/>
<text class="tl" x="410.64" y="342.1" text-anchor="middle">High−risk</text>
<text class="tl" transform="translate(286.64 281.36) rotate(-90)" text-anchor="middle">MSI</text>
</g>
<g id="panel-F">
<text class="lt" transform="translate(495.81 204.45) scale(0.85 1)" text-anchor="middle">F</text>
<text class="tt" x="508.61" y="219.72">entire</text>
<clipPath id="cF"><rect x="503.72" y="225.18" width="150.97" height="111.95"/></clipPath>
<g clip-path="url(#cF)">
<path class="v" fill="#416AB5" d="M545.64 232.11 L545.64 232.63 L545.66 233.15 L545.68 233.67 L545.72 234.18 L545.76 234.7 L545.81 235.22 L545.86 235.74 L545.92 236.25 L545.98 236.77 L546.05 237.29 L546.14 237.81 L546.25 238.33 L546.39 238.84 L546.56 239.36 L546.73 239.88 L546.91 240.4 L547.08 240.91 L547.27 241.43 L547.47 241.95 L547.69 242.47 L547.91 242.99 L548.13 243.5 L548.33 244.02 L548.52 244.54 L548.72 245.06 L548.91 245.57 L549.09 246.09 L549.24 246.61 L549.37 247.13 L549.47 247.64 L549.56 248.16 L549.65 248.68 L549.72 249.2 L549.77 249.72 L549.79 250.23 L549.78 250.75 L549.76 251.27 L549.73 251.79 L549.69 252.3 L549.64 252.82 L549.58 253.34 L549.51 253.86 L549.4 254.38 L549.25 254.89 L549.09 255.41 L548.93 255.93 L548.76 256.45 L548.6 256.96 L548.43 257.48 L548.24 258 L548.06 258.52 L547.88 259.04 L547.73 259.55 L547.58 260.07 L547.44 260.59 L547.31 261.11 L547.18 261.62 L547.08 262.14 L546.99 262.66 L546.93 263.18 L546.87 263.69 L546.81 264.21 L546.77 264.73 L546.73 265.25 L546.7 265.77 L546.68 266.28 L546.66 266.8 L546.65 267.32 L546.64 267.84 L546.63 268.35 L546.63 268.87 L546.62 269.39 L546.61 269.91 L546.6 270.43 L546.6 270.94 L546.59 271.46 L546.59 271.98 L546.58 272.5 L546.58 273.01 L546.58 273.53 L546.57 274.05 L546.57 274.57 L546.57 275.09 L546.57 275.6 L546.57 276.12 L546.57 276.64 L546.57 277.16 L546.58 277.67 L546.58 278.19 L546.58 278.71 L546.59 279.23 L546.6 279.74 L546.6 280.26 L546.61 280.78 L546.61 281.3 L546.62 281.82 L546.63 282.33 L546.64 282.85 L546.65 283.37 L546.65 283.89 L546.66 284.4 L546.67 284.92 L546.68 285.44 L546.69 285.96 L546.7 286.48 L546.71 286.99 L546.73 287.51 L546.74 288.03 L546.76 288.55 L546.78 289.06 L546.8 289.58 L546.82 290.1 L546.85 290.62 L546.88 291.13 L546.91 291.65 L546.96 292.17 L547.02 292.69 L547.09 293.21 L547.17 293.72 L547.27 294.24 L547.39 294.76 L547.55 295.28 L547.75 295.79 L547.99 296.31 L548.26 296.83 L548.59 297.35 L549.03 297.87 L549.56 298.38 L550.15 298.9 L550.78 299.42 L551.51 299.94 L552.31 300.45 L553.17 300.97 L554.1 301.49 L555.13 302.01 L556.22 302.53 L557.36 303.04 L558.56 303.56 L559.8 304.08 L561.08 304.6 L562.4 305.11 L563.72 305.63 L565.03 306.15 L566.32 306.67 L567.58 307.18 L568.79 307.7 L569.98 308.22 L571.07 308.74 L572.02 309.26 L572.88 309.77 L573.65 310.29 L574.31 310.81 L574.9 311.33 L575.39 311.84 L575.78 312.36 L576.13 312.88 L576.33 313.4 L576.31 313.92 L576.15 314.43 L575.92 314.95 L575.43 315.47 L574.66 315.99 L573.75 316.5 L572.8 317.02 L571.66 317.54 L570.4 318.06 L569.11 318.57 L567.83 319.09 L566.48 319.61 L565.11 320.13 L563.75 320.65 L562.42 321.16 L561.09 321.68 L559.78 322.2 L558.52 322.72 L557.34 323.23 L556.22 323.75 L555.14 324.27 L554.1 324.79 L553.1 325.31 L552.1 325.82 L551.15 326.34 L550.29 326.86 L549.54 327.38 L548.86 327.89 L548.23 328.41 L547.69 328.93 L547.23 329.45 L546.82 329.97 L546.47 330.48 L546.21 331 L545.97 331.52 L545.77 332.04 L545.64 332.55 L545.64 332.55 L545.5 332.04 L545.3 331.52 L545.07 331 L544.8 330.48 L544.46 329.97 L544.05 329.45 L543.58 328.93 L543.04 328.41 L542.42 327.89 L541.73 327.38 L540.99 326.86 L540.13 326.34 L539.18 325.82 L538.18 325.31 L537.17 324.79 L536.13 324.27 L535.05 323.75 L533.93 323.23 L532.75 322.72 L531.5 322.2 L530.19 321.68 L528.86 321.16 L527.53 320.65 L526.17 320.13 L524.79 319.61 L523.45 319.09 L522.16 318.57 L520.87 318.06 L519.61 317.54 L518.48 317.02 L517.52 316.5 L516.62 315.99 L515.84 315.47 L515.36 314.95 L515.12 314.43 L514.96 313.92 L514.94 313.4 L515.14 312.88 L515.49 312.36 L515.88 311.84 L516.37 311.33 L516.97 310.81 L517.63 310.29 L518.39 309.77 L519.25 309.26 L520.21 308.74 L521.3 308.22 L522.48 307.7 L523.69 307.18 L524.95 306.67 L526.25 306.15 L527.55 305.63 L528.87 305.11 L530.2 304.6 L531.47 304.08 L532.72 303.56 L533.92 303.04 L535.05 302.53 L536.15 302.01 L537.17 301.49 L538.1 300.97 L538.96 300.45 L539.77 299.94 L540.5 299.42 L541.13 298.9 L541.71 298.38 L542.24 297.87 L542.68 297.35 L543.01 296.83 L543.29 296.31 L543.52 295.79 L543.72 295.28 L543.88 294.76 L544 294.24 L544.1 293.72 L544.18 293.21 L544.26 292.69 L544.32 292.17 L544.36 291.65 L544.4 291.13 L544.43 290.62 L544.45 290.1 L544.47 289.58 L544.49 289.06 L544.51 288.55 L544.53 288.03 L544.55 287.51 L544.56 286.99 L544.57 286.48 L544.58 285.96 L544.59 285.44 L544.6 284.92 L544.61 284.4 L544.62 283.89 L544.63 283.37 L544.64 282.85 L544.64 282.33 L544.65 281.82 L544.66 281.3 L544.67 280.78 L544.67 280.26 L544.68 279.74 L544.68 279.23 L544.69 278.71 L544.69 278.19 L544.7 277.67 L544.7 277.16 L544.7 276.64 L544.7 276.12 L544.7 275.6 L544.7 275.09 L544.7 274.57 L544.7 274.05 L544.7 273.53 L544.69 273.01 L544.69 272.5 L544.69 271.98 L544.68 271.46 L544.68 270.94 L544.67 270.43 L544.66 269.91 L544.66 269.39 L544.65 268.87 L544.64 268.35 L544.63 267.84 L544.62 267.32 L544.61 266.8 L544.6 266.28 L544.58 265.77 L544.55 265.25 L544.51 264.73 L544.46 264.21 L544.4 263.69 L544.34 263.18 L544.28 262.66 L544.2 262.14 L544.09 261.62 L543.97 261.11 L543.83 260.59 L543.69 260.07 L543.55 259.55 L543.39 259.04 L543.22 258.52 L543.03 258 L542.85 257.48 L542.67 256.96 L542.51 256.45 L542.35 255.93 L542.18 255.41 L542.02 254.89 L541.88 254.38 L541.76 253.86 L541.69 253.34 L541.64 252.82 L541.59 252.3 L541.55 251.79 L541.51 251.27 L541.49 250.75 L541.49 250.23 L541.51 249.72 L541.55 249.2 L541.63 248.68 L541.71 248.16 L541.81 247.64 L541.91 247.13 L542.03 246.61 L542.18 246.09 L542.36 245.57 L542.56 245.06 L542.75 244.54 L542.95 244.02 L543.15 243.5 L543.36 242.99 L543.58 242.47 L543.8 241.95 L544 241.43 L544.19 240.91 L544.37 240.4 L544.55 239.88 L544.72 239.36 L544.88 238.84 L545.02 238.33 L545.14 237.81 L545.22 237.29 L545.29 236.77 L545.35 236.25 L545.41 235.74 L545.47 235.22 L545.51 234.7 L545.56 234.18 L545.59 233.67 L545.62 233.15 L545.63 232.63 L545.64 232.11Z"/>
<line class="w" x1="545.64" y1="310.97" x2="545.64" y2="314.29"/>
<line class="m2" x1="538.68" y1="314.29" x2="552.49" y2="314.29"/>
<circle class="o" cx="545.64" cy="250.27" r="0.95"/>
<circle class="o" cx="545.64" cy="251.83" r="0.95"/>
<circle class="o" cx="545.64" cy="253.38" r="0.95"/>
<circle class="o" cx="545.64" cy="254.94" r="0.95"/>
<circle class="o" cx="545.64" cy="256.5" r="0.95"/>
<circle class="o" cx="545.64" cy="258.57" r="0.95"/>
<circle class="o" cx="545.64" cy="261.17" r="0.95"/>
<circle class="o" cx="545.64" cy="264.28" r="0.95"/>
<circle class="o" cx="545.64" cy="267.91" r="0.95"/>
<circle class="o" cx="545.64" cy="270.5" r="0.95"/>
<circle class="o" cx="545.64" cy="272.58" r="0.95"/>
<circle class="o" cx="545.64" cy="274.65" r="0.95"/>
<circle class="o" cx="545.64" cy="277.77" r="0.95"/>
<circle class="o" cx="545.64" cy="279.84" r="0.95"/>
<circle class="o" cx="545.64" cy="281.92" r="0.95"/>
<circle class="o" cx="545.64" cy="285.03" r="0.95"/>
<circle class="o" cx="545.64" cy="287.63" r="0.95"/>
<circle class="o" cx="545.64" cy="291.26" r="0.95"/>
<circle class="o" cx="545.64" cy="295.41" r="0.95"/>
<circle class="o" cx="545.64" cy="298.52" r="0.95"/>
<circle class="o" cx="545.64" cy="300.6" r="0.95"/>
<circle class="o" cx="545.64" cy="302.67" r="0.95"/>
<circle class="o" cx="545.64" cy="304.75" r="0.95"/>
<circle class="o" cx="545.64" cy="306.82" r="0.95"/>
<circle class="o" cx="545.64" cy="308.9" r="0.95"/>
<path class="v" fill="#ED2024" d="M614.95 233.67 L614.96 234.19 L614.98 234.7 L615.01 235.22 L615.05 235.73 L615.1 236.25 L615.16 236.77 L615.22 237.28 L615.29 237.8 L615.36 238.31 L615.45 238.83 L615.57 239.35 L615.71 239.86 L615.88 240.38 L616.05 240.89 L616.22 241.41 L616.39 241.93 L616.55 242.44 L616.73 242.96 L616.91 243.47 L617.1 243.99 L617.27 244.51 L617.42 245.02 L617.56 245.54 L617.71 246.05 L617.85 246.57 L617.97 247.09 L618.08 247.6 L618.16 248.12 L618.22 248.64 L618.27 249.15 L618.32 249.67 L618.36 250.18 L618.37 250.7 L618.36 251.22 L618.33 251.73 L618.28 252.25 L618.22 252.76 L618.15 253.28 L618.08 253.8 L617.99 254.31 L617.87 254.83 L617.74 255.34 L617.58 255.86 L617.42 256.38 L617.27 256.89 L617.11 257.41 L616.94 257.92 L616.77 258.44 L616.6 258.96 L616.44 259.47 L616.29 259.99 L616.14 260.5 L616 261.02 L615.88 261.54 L615.79 262.05 L615.75 262.57 L615.71 263.08 L615.68 263.6 L615.65 264.12 L615.62 264.63 L615.6 265.15 L615.59 265.67 L615.57 266.18 L615.56 266.7 L615.55 267.21 L615.54 267.73 L615.54 268.25 L615.53 268.76 L615.52 269.28 L615.51 269.79 L615.5 270.31 L615.5 270.83 L615.49 271.34 L615.49 271.86 L615.48 272.37 L615.48 272.89 L615.47 273.41 L615.47 273.92 L615.47 274.44 L615.47 274.95 L615.47 275.47 L615.47 275.99 L615.47 276.5 L615.47 277.02 L615.47 277.53 L615.47 278.05 L615.47 278.57 L615.47 279.08 L615.47 279.6 L615.47 280.11 L615.47 280.63 L615.47 281.15 L615.47 281.66 L615.47 282.18 L615.47 282.7 L615.47 283.21 L615.47 283.73 L615.47 284.24 L615.47 284.76 L615.47 285.28 L615.47 285.79 L615.47 286.31 L615.47 286.82 L615.47 287.34 L615.47 287.86 L615.48 288.37 L615.49 288.89 L615.5 289.4 L615.51 289.92 L615.53 290.44 L615.55 290.95 L615.57 291.47 L615.6 291.98 L615.63 292.5 L615.66 293.02 L615.69 293.53 L615.74 294.05 L615.8 294.56 L615.89 295.08 L615.99 295.6 L616.11 296.11 L616.25 296.63 L616.43 297.14 L616.68 297.66 L616.99 298.18 L617.37 298.69 L617.89 299.21 L618.57 299.73 L619.37 300.24 L620.37 300.76 L621.69 301.27 L623.11 301.79 L624.52 302.31 L626 302.82 L627.53 303.34 L629.18 303.85 L630.87 304.37 L632.5 304.89 L634.09 305.4 L635.63 305.92 L637.11 306.43 L638.53 306.95 L639.89 307.47 L641.2 307.98 L642.46 308.5 L643.66 309.01 L644.75 309.53 L645.78 310.05 L646.71 310.56 L647.46 311.08 L648.1 311.59 L648.64 312.11 L649.05 312.63 L649.43 313.14 L649.68 313.66 L649.65 314.17 L649.34 314.69 L648.9 315.21 L648.2 315.72 L647.21 316.24 L646.08 316.76 L644.9 317.27 L643.56 317.79 L642.08 318.3 L640.56 318.82 L639.06 319.34 L637.52 319.85 L635.95 320.37 L634.39 320.88 L632.86 321.4 L631.32 321.92 L629.8 322.43 L628.34 322.95 L626.94 323.46 L625.57 323.98 L624.26 324.5 L623.03 325.01 L621.92 325.53 L620.87 326.04 L619.89 326.56 L619.02 327.08 L618.26 327.59 L617.6 328.11 L617.01 328.62 L616.49 329.14 L616.04 329.66 L615.62 330.17 L615.25 330.69 L614.95 331.2 L614.95 331.2 L614.64 330.69 L614.28 330.17 L613.86 329.66 L613.4 329.14 L612.89 328.62 L612.3 328.11 L611.63 327.59 L610.88 327.08 L610.01 326.56 L609.03 326.04 L607.98 325.53 L606.87 325.01 L605.64 324.5 L604.32 323.98 L602.96 323.46 L601.56 322.95 L600.09 322.43 L598.57 321.92 L597.04 321.4 L595.51 320.88 L593.95 320.37 L592.38 319.85 L590.83 319.34 L589.33 318.82 L587.82 318.3 L586.34 317.79 L584.99 317.27 L583.82 316.76 L582.69 316.24 L581.7 315.72 L580.99 315.21 L580.56 314.69 L580.25 314.17 L580.22 313.66 L580.47 313.14 L580.84 312.63 L581.26 312.11 L581.8 311.59 L582.43 311.08 L583.19 310.56 L584.12 310.05 L585.14 309.53 L586.23 309.01 L587.43 308.5 L588.7 307.98 L590 307.47 L591.37 306.95 L592.79 306.43 L594.27 305.92 L595.81 305.4 L597.39 304.89 L599.03 304.37 L600.72 303.85 L602.36 303.34 L603.9 302.82 L605.38 302.31 L606.78 301.79 L608.21 301.27 L609.53 300.76 L610.53 300.24 L611.33 299.73 L612.01 299.21 L612.53 298.69 L612.9 298.18 L613.21 297.66 L613.46 297.14 L613.65 296.63 L613.79 296.11 L613.9 295.6 L614.01 295.08 L614.09 294.56 L614.16 294.05 L614.21 293.53 L614.24 293.02 L614.27 292.5 L614.3 291.98 L614.32 291.47 L614.34 290.95 L614.36 290.44 L614.38 289.92 L614.4 289.4 L614.41 288.89 L614.42 288.37 L614.43 287.86 L614.43 287.34 L614.43 286.82 L614.43 286.31 L614.43 285.79 L614.43 285.28 L614.43 284.76 L614.43 284.24 L614.43 283.73 L614.43 283.21 L614.43 282.7 L614.43 282.18 L614.43 281.66 L614.43 281.15 L614.43 280.63 L614.43 280.11 L614.43 279.6 L614.43 279.08 L614.43 278.57 L614.43 278.05 L614.43 277.53 L614.43 277.02 L614.43 276.5 L614.43 275.99 L614.43 275.47 L614.43 274.95 L614.43 274.44 L614.42 273.92 L614.42 273.41 L614.42 272.89 L614.41 272.37 L614.41 271.86 L614.4 271.34 L614.4 270.83 L614.39 270.31 L614.38 269.79 L614.38 269.28 L614.37 268.76 L614.36 268.25 L614.35 267.73 L614.34 267.21 L614.33 266.7 L614.32 266.18 L614.31 265.67 L614.29 265.15 L614.27 264.63 L614.25 264.12 L614.22 263.6 L614.19 263.08 L614.15 262.57 L614.1 262.05 L614.02 261.54 L613.9 261.02 L613.75 260.5 L613.6 259.99 L613.46 259.47 L613.3 258.96 L613.13 258.44 L612.95 257.92 L612.79 257.41 L612.63 256.89 L612.47 256.38 L612.31 255.86 L612.16 255.34 L612.02 254.83 L611.91 254.31 L611.82 253.8 L611.74 253.28 L611.67 252.76 L611.61 252.25 L611.56 251.73 L611.53 251.22 L611.52 250.7 L611.54 250.18 L611.57 249.67 L611.62 249.15 L611.68 248.64 L611.74 248.12 L611.82 247.6 L611.93 247.09 L612.05 246.57 L612.19 246.05 L612.33 245.54 L612.47 245.02 L612.63 244.51 L612.8 243.99 L612.98 243.47 L613.16 242.96 L613.34 242.44 L613.51 241.93 L613.68 241.41 L613.85 240.89 L614.02 240.38 L614.18 239.86 L614.33 239.35 L614.45 238.83 L614.54 238.31 L614.61 237.8 L614.67 237.28 L614.74 236.77 L614.8 236.25 L614.85 235.73 L614.89 235.22 L614.92 234.7 L614.94 234.19 L614.95 233.67Z"/>
<line class="w" x1="614.95" y1="310.97" x2="614.95" y2="314.4"/>
<line class="m2" x1="608.2" y1="314.4" x2="621.9" y2="314.4"/>
<circle class="o" cx="614.95" cy="250.27" r="0.95"/>
<circle class="o" cx="614.95" cy="251.83" r="0.95"/>
<circle class="o" cx="614.95" cy="256.81" r="0.95"/>
<circle class="o" cx="614.95" cy="259.09" r="0.95"/>
<circle class="o" cx="614.95" cy="274.65" r="0.95"/>
<circle class="o" cx="614.95" cy="282.13" r="0.95"/>
<circle class="o" cx="614.95" cy="295.41" r="0.95"/>
<circle class="o" cx="614.95" cy="297.48" r="0.95"/>
<circle class="o" cx="614.95" cy="303.5" r="0.95"/>
<circle class="o" cx="614.95" cy="308.38" r="0.95"/>
<circle class="o" cx="614.95" cy="309.93" r="0.95"/>
</g>
<path class="br" d="M545.64 248.87 V247.47 H614.95 V248.87"/>
<text class="sg" x="580.29" y="246.33" text-anchor="middle">ns</text>
<path class="ax" d="M503.72 228.18 V337.13 H654.7"/>
<line class="tk" x1="502.62" y1="250.23" x2="503.72" y2="250.23"/>
<text class="tl" x="501.52" y="251.83" text-anchor="end">1.0</text>
<line class="tk" x1="502.62" y1="282.13" x2="503.72" y2="282.13"/>
<text class="tl" x="501.52" y="283.73" text-anchor="end">0.5</text>
<line class="tk" x1="502.62" y1="314.3" x2="503.72" y2="314.3"/>
<text class="tl" x="501.52" y="315.9" text-anchor="end">0.0</text>
<line class="tk" x1="545.64" y1="337.13" x2="545.64" y2="338.23"/>
<text class="tl" x="545.64" y="342.62" text-anchor="middle">Low−risk</text>
<line class="tk" x1="614.95" y1="337.13" x2="614.95" y2="338.23"/>
<text class="tl" x="614.95" y="342.62" text-anchor="middle">High−risk</text>
<text class="tl" transform="translate(492.75 282.13) rotate(-90)" text-anchor="middle">MSI</text>
</g>
<g id="panel-G">
<text class="lt" transform="translate(71.66 369.45) scale(1 1)" text-anchor="middle">G</text>
<text class="tt" x="73.82" y="382.38">train</text>
<clipPath id="cG"><rect x="79.31" y="385.77" width="147.6" height="109.36"/></clipPath>
<g clip-path="url(#cG)">
<path class="v" fill="#416AB5" d="M119.43 393.19 L119.45 393.7 L119.47 394.22 L119.49 394.74 L119.51 395.25 L119.53 395.77 L119.56 396.28 L119.58 396.8 L119.6 397.32 L119.62 397.83 L119.65 398.35 L119.67 398.86 L119.69 399.38 L119.72 399.9 L119.74 400.41 L119.76 400.93 L119.79 401.44 L119.81 401.96 L119.83 402.48 L119.86 402.99 L119.88 403.51 L119.91 404.03 L119.93 404.54 L119.96 405.06 L119.99 405.57 L120.02 406.09 L120.05 406.61 L120.08 407.12 L120.11 407.64 L120.15 408.15 L120.19 408.67 L120.22 409.19 L120.27 409.7 L120.31 410.22 L120.36 410.73 L120.4 411.25 L120.46 411.77 L120.51 412.28 L120.57 412.8 L120.63 413.31 L120.7 413.83 L120.78 414.35 L120.86 414.86 L120.96 415.38 L121.06 415.89 L121.19 416.41 L121.36 416.93 L121.56 417.44 L121.79 417.96 L122.03 418.47 L122.27 418.99 L122.52 419.51 L122.8 420.02 L123.09 420.54 L123.4 421.05 L123.71 421.57 L124.01 422.09 L124.3 422.6 L124.6 423.12 L124.89 423.63 L125.19 424.15 L125.48 424.67 L125.77 425.18 L126.05 425.7 L126.33 426.22 L126.6 426.73 L126.87 427.25 L127.14 427.76 L127.42 428.28 L127.7 428.8 L127.99 429.31 L128.27 429.83 L128.56 430.34 L128.86 430.86 L129.16 431.38 L129.48 431.89 L129.8 432.41 L130.13 432.92 L130.48 433.44 L130.83 433.96 L131.2 434.47 L131.58 434.99 L131.99 435.5 L132.41 436.02 L132.85 436.54 L133.29 437.05 L133.75 437.57 L134.2 438.08 L134.67 438.6 L135.15 439.12 L135.63 439.63 L136.12 440.15 L136.62 440.66 L137.12 441.18 L137.62 441.7 L138.14 442.21 L138.66 442.73 L139.18 443.24 L139.7 443.76 L140.22 444.28 L140.74 444.79 L141.25 445.31 L141.77 445.82 L142.28 446.34 L142.8 446.86 L143.32 447.37 L143.84 447.89 L144.36 448.41 L144.89 448.92 L145.4 449.44 L145.91 449.95 L146.4 450.47 L146.89 450.99 L147.36 451.5 L147.83 452.02 L148.29 452.53 L148.73 453.05 L149.16 453.57 L149.6 454.08 L150.02 454.6 L150.44 455.11 L150.83 455.63 L151.18 456.15 L151.49 456.66 L151.78 457.18 L152.05 457.69 L152.3 458.21 L152.51 458.73 L152.69 459.24 L152.86 459.76 L153.02 460.27 L153.13 460.79 L153.15 461.31 L153.08 461.82 L152.95 462.34 L152.77 462.85 L152.57 463.37 L152.26 463.89 L151.82 464.4 L151.31 464.92 L150.76 465.43 L150.21 465.95 L149.61 466.47 L148.95 466.98 L148.24 467.5 L147.5 468.01 L146.76 468.53 L145.98 469.05 L145.17 469.56 L144.33 470.08 L143.47 470.6 L142.6 471.11 L141.7 471.63 L140.77 472.14 L139.83 472.66 L138.88 473.18 L137.95 473.69 L137.01 474.21 L136.08 474.72 L135.15 475.24 L134.22 475.76 L133.31 476.27 L132.39 476.79 L131.48 477.3 L130.59 477.82 L129.72 478.34 L128.88 478.85 L128.07 479.37 L127.28 479.88 L126.52 480.4 L125.78 480.92 L125.07 481.43 L124.37 481.95 L123.68 482.46 L123.05 482.98 L122.51 483.5 L122.05 484.01 L121.64 484.53 L121.28 485.04 L120.97 485.56 L120.7 486.08 L120.45 486.59 L120.23 487.11 L120.05 487.62 L119.89 488.14 L119.74 488.66 L119.61 489.17 L119.51 489.69 L119.43 490.2 L119.43 490.2 L119.35 489.69 L119.24 489.17 L119.12 488.66 L118.97 488.14 L118.81 487.62 L118.63 487.11 L118.41 486.59 L118.16 486.08 L117.89 485.56 L117.57 485.04 L117.21 484.53 L116.81 484.01 L116.35 483.5 L115.81 482.98 L115.18 482.46 L114.49 481.95 L113.79 481.43 L113.08 480.92 L112.34 480.4 L111.58 479.88 L110.79 479.37 L109.98 478.85 L109.14 478.34 L108.27 477.82 L107.37 477.3 L106.46 476.79 L105.55 476.27 L104.64 475.76 L103.71 475.24 L102.78 474.72 L101.84 474.21 L100.91 473.69 L99.98 473.18 L99.03 472.66 L98.09 472.14 L97.16 471.63 L96.26 471.11 L95.38 470.6 L94.53 470.08 L93.69 469.56 L92.88 469.05 L92.1 468.53 L91.35 468.01 L90.62 467.5 L89.91 466.98 L89.25 466.47 L88.65 465.95 L88.09 465.43 L87.54 464.92 L87.03 464.4 L86.6 463.89 L86.29 463.37 L86.09 462.85 L85.91 462.34 L85.78 461.82 L85.71 461.31 L85.73 460.79 L85.84 460.27 L85.99 459.76 L86.17 459.24 L86.35 458.73 L86.56 458.21 L86.81 457.69 L87.08 457.18 L87.37 456.66 L87.68 456.15 L88.03 455.63 L88.42 455.11 L88.84 454.6 L89.26 454.08 L89.69 453.57 L90.13 453.05 L90.57 452.53 L91.03 452.02 L91.5 451.5 L91.97 450.99 L92.46 450.47 L92.95 449.95 L93.46 449.44 L93.97 448.92 L94.49 448.41 L95.02 447.89 L95.54 447.37 L96.06 446.86 L96.57 446.34 L97.09 445.82 L97.61 445.31 L98.12 444.79 L98.64 444.28 L99.16 443.76 L99.68 443.24 L100.2 442.73 L100.72 442.21 L101.23 441.7 L101.74 441.18 L102.24 440.66 L102.74 440.15 L103.23 439.63 L103.71 439.12 L104.19 438.6 L104.66 438.08 L105.11 437.57 L105.56 437.05 L106.01 436.54 L106.45 436.02 L106.87 435.5 L107.27 434.99 L107.66 434.47 L108.03 433.96 L108.38 433.44 L108.72 432.92 L109.06 432.41 L109.38 431.89 L109.7 431.38 L110 430.86 L110.3 430.34 L110.59 429.83 L110.87 429.31 L111.16 428.8 L111.44 428.28 L111.72 427.76 L111.99 427.25 L112.26 426.73 L112.53 426.22 L112.81 425.7 L113.09 425.18 L113.38 424.67 L113.67 424.15 L113.96 423.63 L114.26 423.12 L114.55 422.6 L114.85 422.09 L115.15 421.57 L115.46 421.05 L115.77 420.54 L116.06 420.02 L116.34 419.51 L116.59 418.99 L116.83 418.47 L117.07 417.96 L117.3 417.44 L117.5 416.93 L117.67 416.41 L117.8 415.89 L117.9 415.38 L118 414.86 L118.08 414.35 L118.16 413.83 L118.23 413.31 L118.29 412.8 L118.35 412.28 L118.4 411.77 L118.45 411.25 L118.5 410.73 L118.55 410.22 L118.59 409.7 L118.63 409.19 L118.67 408.67 L118.71 408.15 L118.75 407.64 L118.78 407.12 L118.81 406.61 L118.84 406.09 L118.87 405.57 L118.9 405.06 L118.93 404.54 L118.95 404.03 L118.98 403.51 L119 402.99 L119.03 402.48 L119.05 401.96 L119.07 401.44 L119.1 400.93 L119.12 400.41 L119.14 399.9 L119.17 399.38 L119.19 398.86 L119.21 398.35 L119.24 397.83 L119.26 397.32 L119.28 396.8 L119.3 396.28 L119.32 395.77 L119.35 395.25 L119.37 394.74 L119.39 394.22 L119.41 393.7 L119.43 393.19Z"/>
<line class="w" x1="119.43" y1="424.84" x2="119.43" y2="476.2"/>
<rect class="b" x="112.68" y="448.49" width="13.7" height="17.64"/>
<line class="m" x1="112.68" y1="458.56" x2="126.38" y2="458.56"/>
<circle class="o" cx="119.43" cy="406.68" r="0.95"/>
<circle class="o" cx="119.43" cy="415.5" r="0.95"/>
<circle class="o" cx="119.43" cy="418.61" r="0.95"/>
<path class="v" fill="#ED2024" d="M186.43 397.86 L186.44 398.38 L186.46 398.89 L186.48 399.41 L186.51 399.93 L186.55 400.45 L186.59 400.97 L186.64 401.49 L186.69 402.01 L186.74 402.53 L186.79 403.05 L186.84 403.56 L186.91 404.08 L186.98 404.6 L187.07 405.12 L187.16 405.64 L187.26 406.16 L187.36 406.68 L187.47 407.2 L187.59 407.71 L187.73 408.23 L187.88 408.75 L188.02 409.27 L188.13 409.79 L188.19 410.31 L188.23 410.83 L188.25 411.35 L188.28 411.87 L188.29 412.38 L188.3 412.9 L188.26 413.42 L188.18 413.94 L188.07 414.46 L187.96 414.98 L187.88 415.5 L187.82 416.02 L187.77 416.53 L187.72 417.05 L187.69 417.57 L187.67 418.09 L187.69 418.61 L187.74 419.13 L187.8 419.65 L187.89 420.17 L187.99 420.68 L188.14 421.2 L188.37 421.72 L188.66 422.24 L188.99 422.76 L189.33 423.28 L189.71 423.8 L190.15 424.32 L190.63 424.84 L191.12 425.35 L191.62 425.87 L192.11 426.39 L192.63 426.91 L193.16 427.43 L193.69 427.95 L194.21 428.47 L194.73 428.99 L195.25 429.5 L195.77 430.02 L196.29 430.54 L196.81 431.06 L197.32 431.58 L197.84 432.1 L198.35 432.62 L198.86 433.14 L199.38 433.65 L199.9 434.17 L200.44 434.69 L200.99 435.21 L201.56 435.73 L202.14 436.25 L202.72 436.77 L203.29 437.29 L203.86 437.81 L204.42 438.32 L204.98 438.84 L205.53 439.36 L206.08 439.88 L206.63 440.4 L207.18 440.92 L207.74 441.44 L208.3 441.96 L208.87 442.47 L209.43 442.99 L209.97 443.51 L210.5 444.03 L211.02 444.55 L211.52 445.07 L212.02 445.59 L212.5 446.11 L212.97 446.63 L213.41 447.14 L213.83 447.66 L214.25 448.18 L214.65 448.7 L215.02 449.22 L215.37 449.74 L215.69 450.26 L215.98 450.78 L216.27 451.29 L216.53 451.81 L216.77 452.33 L216.98 452.85 L217.14 453.37 L217.28 453.89 L217.42 454.41 L217.53 454.93 L217.63 455.44 L217.71 455.96 L217.77 456.48 L217.8 457 L217.84 457.52 L217.86 458.04 L217.87 458.56 L217.84 459.08 L217.76 459.6 L217.65 460.11 L217.51 460.63 L217.35 461.15 L217.14 461.67 L216.85 462.19 L216.5 462.71 L216.1 463.23 L215.69 463.75 L215.23 464.26 L214.71 464.78 L214.13 465.3 L213.52 465.82 L212.89 466.34 L212.23 466.86 L211.53 467.38 L210.79 467.9 L210.03 468.42 L209.26 468.93 L208.47 469.45 L207.65 469.97 L206.81 470.49 L205.96 471.01 L205.11 471.53 L204.25 472.05 L203.38 472.57 L202.51 473.08 L201.63 473.6 L200.75 474.12 L199.85 474.64 L198.94 475.16 L198.03 475.68 L197.14 476.2 L196.29 476.72 L195.47 477.23 L194.67 477.75 L193.9 478.27 L193.15 478.79 L192.45 479.31 L191.77 479.83 L191.13 480.35 L190.52 480.87 L189.96 481.39 L189.43 481.9 L188.92 482.42 L188.47 482.94 L188.09 483.46 L187.76 483.98 L187.46 484.5 L187.21 485.02 L187.05 485.54 L186.95 486.05 L186.85 486.57 L186.76 487.09 L186.67 487.61 L186.6 488.13 L186.54 488.65 L186.49 489.17 L186.46 489.69 L186.44 490.2 L186.43 490.72 L186.43 490.72 L186.42 490.2 L186.4 489.69 L186.36 489.17 L186.32 488.65 L186.26 488.13 L186.18 487.61 L186.1 487.09 L186.01 486.57 L185.91 486.05 L185.81 485.54 L185.65 485.02 L185.4 484.5 L185.1 483.98 L184.77 483.46 L184.39 482.94 L183.94 482.42 L183.43 481.9 L182.9 481.39 L182.34 480.87 L181.73 480.35 L181.09 479.83 L180.41 479.31 L179.71 478.79 L178.96 478.27 L178.19 477.75 L177.39 477.23 L176.57 476.72 L175.72 476.2 L174.83 475.68 L173.92 475.16 L173.01 474.64 L172.11 474.12 L171.23 473.6 L170.35 473.08 L169.48 472.57 L168.61 472.05 L167.75 471.53 L166.9 471.01 L166.05 470.49 L165.21 469.97 L164.39 469.45 L163.6 468.93 L162.83 468.42 L162.07 467.9 L161.33 467.38 L160.63 466.86 L159.97 466.34 L159.34 465.82 L158.73 465.3 L158.15 464.78 L157.63 464.26 L157.17 463.75 L156.75 463.23 L156.36 462.71 L156.01 462.19 L155.72 461.67 L155.51 461.15 L155.35 460.63 L155.21 460.11 L155.1 459.6 L155.02 459.08 L154.99 458.56 L155 458.04 L155.02 457.52 L155.05 457 L155.09 456.48 L155.15 455.96 L155.23 455.44 L155.33 454.93 L155.44 454.41 L155.57 453.89 L155.72 453.37 L155.88 452.85 L156.09 452.33 L156.33 451.81 L156.59 451.29 L156.88 450.78 L157.17 450.26 L157.48 449.74 L157.83 449.22 L158.21 448.7 L158.61 448.18 L159.03 447.66 L159.45 447.14 L159.89 446.63 L160.35 446.11 L160.84 445.59 L161.33 445.07 L161.84 444.55 L162.36 444.03 L162.88 443.51 L163.43 442.99 L163.99 442.47 L164.55 441.96 L165.12 441.44 L165.68 440.92 L166.23 440.4 L166.78 439.88 L167.33 439.36 L167.88 438.84 L168.44 438.32 L169 437.81 L169.57 437.29 L170.14 436.77 L170.72 436.25 L171.3 435.73 L171.87 435.21 L172.42 434.69 L172.96 434.17 L173.48 433.65 L174 433.14 L174.51 432.62 L175.02 432.1 L175.53 431.58 L176.05 431.06 L176.57 430.54 L177.09 430.02 L177.61 429.5 L178.13 428.99 L178.65 428.47 L179.17 427.95 L179.7 427.43 L180.23 426.91 L180.74 426.39 L181.24 425.87 L181.74 425.35 L182.23 424.84 L182.71 424.32 L183.15 423.8 L183.52 423.28 L183.87 422.76 L184.19 422.24 L184.49 421.72 L184.72 421.2 L184.87 420.68 L184.97 420.17 L185.06 419.65 L185.12 419.13 L185.17 418.61 L185.18 418.09 L185.17 417.57 L185.14 417.05 L185.09 416.53 L185.03 416.02 L184.98 415.5 L184.9 414.98 L184.79 414.46 L184.68 413.94 L184.6 413.42 L184.56 412.9 L184.57 412.38 L184.58 411.87 L184.6 411.35 L184.63 410.83 L184.67 410.31 L184.73 409.79 L184.84 409.27 L184.98 408.75 L185.13 408.23 L185.27 407.71 L185.39 407.2 L185.5 406.68 L185.6 406.16 L185.7 405.64 L185.79 405.12 L185.88 404.6 L185.95 404.08 L186.01 403.56 L186.07 403.05 L186.12 402.53 L186.17 402.01 L186.22 401.49 L186.27 400.97 L186.31 400.45 L186.34 399.93 L186.38 399.41 L186.4 398.89 L186.42 398.38 L186.43 397.86Z"/>
<line class="w" x1="186.43" y1="422.24" x2="186.43" y2="477.23"/>
<rect class="b" x="179.68" y="447.46" width="13.7" height="17.85"/>
<line class="m" x1="179.68" y1="457.83" x2="193.38" y2="457.83"/>
<circle class="o" cx="186.43" cy="411.35" r="0.95"/>
<circle class="o" cx="186.43" cy="412.9" r="0.95"/>
<circle class="o" cx="186.43" cy="414.46" r="0.95"/>
</g>
<path class="br" d="M119.43 403.41 V402.01 H186.43 V403.41"/>
<text class="sg" x="152.93" y="400.87" text-anchor="middle">ns</text>
<path class="ax" d="M79.31 388.77 V495.12 H226.91"/>
<line class="tk" x1="78.21" y1="413.41" x2="79.31" y2="413.41"/>
<text class="tl" x="77.11" y="415.01" text-anchor="end">200</text>
<line class="tk" x1="78.21" y1="446.87" x2="79.31" y2="446.87"/>
<text class="tl" x="77.11" y="448.47" text-anchor="end">100</text>
<line class="tk" x1="78.21" y1="480.34" x2="79.31" y2="480.34"/>
<text class="tl" x="77.11" y="481.94" text-anchor="end">0</text>
<line class="tk" x1="119.43" y1="495.12" x2="119.43" y2="496.22"/>
<text class="tl" x="119.43" y="501.13" text-anchor="middle">Low−risk</text>
<line class="tk" x1="186.43" y1="495.12" x2="186.43" y2="496.22"/>
<text class="tl" x="186.43" y="501.13" text-anchor="middle">High−risk</text>
<text class="tl" transform="translate(67.56 442.46) rotate(-90)" text-anchor="middle">Merck18</text>
</g>
<g id="panel-H">
<text class="lt" transform="translate(286.98 368.16) scale(1 1)" text-anchor="middle">H</text>
<text class="tt" x="305.87" y="382.9">test</text>
<clipPath id="cH"><rect x="297.09" y="385.77" width="143.97" height="109.36"/></clipPath>
<g clip-path="url(#cH)">
<path class="v" fill="#416AB5" d="M336.95 393.19 L336.97 393.7 L336.99 394.22 L337.01 394.74 L337.03 395.25 L337.05 395.77 L337.07 396.28 L337.1 396.8 L337.12 397.32 L337.14 397.83 L337.16 398.35 L337.19 398.86 L337.21 399.38 L337.23 399.9 L337.26 400.41 L337.28 400.93 L337.3 401.44 L337.33 401.96 L337.35 402.48 L337.38 402.99 L337.4 403.51 L337.43 404.03 L337.45 404.54 L337.48 405.06 L337.51 405.57 L337.54 406.09 L337.57 406.61 L337.6 407.12 L337.63 407.64 L337.67 408.15 L337.7 408.67 L337.74 409.19 L337.78 409.7 L337.83 410.22 L337.87 410.73 L337.92 411.25 L337.98 411.77 L338.03 412.28 L338.09 412.8 L338.16 413.31 L338.24 413.83 L338.32 414.35 L338.4 414.86 L338.49 415.38 L338.59 415.89 L338.68 416.41 L338.79 416.93 L338.91 417.44 L339.03 417.96 L339.16 418.47 L339.3 418.99 L339.45 419.51 L339.6 420.02 L339.77 420.54 L339.94 421.05 L340.14 421.57 L340.34 422.09 L340.57 422.6 L340.81 423.12 L341.08 423.63 L341.38 424.15 L341.71 424.67 L342.07 425.18 L342.44 425.7 L342.83 426.22 L343.23 426.73 L343.66 427.25 L344.11 427.76 L344.59 428.28 L345.07 428.8 L345.58 429.31 L346.09 429.83 L346.64 430.34 L347.21 430.86 L347.79 431.38 L348.37 431.89 L348.96 432.41 L349.54 432.92 L350.12 433.44 L350.71 433.96 L351.3 434.47 L351.88 434.99 L352.47 435.5 L353.05 436.02 L353.63 436.54 L354.22 437.05 L354.8 437.57 L355.36 438.08 L355.9 438.6 L356.41 439.12 L356.9 439.63 L357.38 440.15 L357.84 440.66 L358.29 441.18 L358.73 441.7 L359.16 442.21 L359.58 442.73 L360 443.24 L360.4 443.76 L360.78 444.28 L361.15 444.79 L361.49 445.31 L361.81 445.82 L362.11 446.34 L362.41 446.86 L362.68 447.37 L362.95 447.89 L363.2 448.41 L363.45 448.92 L363.68 449.44 L363.91 449.95 L364.12 450.47 L364.33 450.99 L364.52 451.5 L364.7 452.02 L364.88 452.53 L365.04 453.05 L365.21 453.57 L365.38 454.08 L365.55 454.6 L365.71 455.11 L365.87 455.63 L366.03 456.15 L366.2 456.66 L366.39 457.18 L366.59 457.69 L366.82 458.21 L367.06 458.73 L367.33 459.24 L367.6 459.76 L367.88 460.27 L368.16 460.79 L368.48 461.31 L368.81 461.82 L369.14 462.34 L369.44 462.85 L369.7 463.37 L369.96 463.89 L370.19 464.4 L370.38 464.92 L370.48 465.43 L370.55 465.95 L370.56 466.47 L370.35 466.98 L369.97 467.5 L369.53 468.01 L368.91 468.53 L368.12 469.05 L367.23 469.56 L366.33 470.08 L365.38 470.6 L364.34 471.11 L363.26 471.63 L362.16 472.14 L361.05 472.66 L359.89 473.18 L358.71 473.69 L357.5 474.21 L356.22 474.72 L354.9 475.24 L353.59 475.76 L352.34 476.27 L351.14 476.79 L349.98 477.3 L348.84 477.82 L347.7 478.34 L346.54 478.85 L345.39 479.37 L344.28 479.88 L343.29 480.4 L342.39 480.92 L341.57 481.43 L340.83 481.95 L340.13 482.46 L339.49 482.98 L338.99 483.5 L338.6 484.01 L338.25 484.53 L337.97 485.04 L337.77 485.56 L337.62 486.08 L337.48 486.59 L337.36 487.11 L337.24 487.62 L337.14 488.14 L337.06 488.66 L337 489.17 L336.96 489.69 L336.95 490.2 L336.95 490.2 L336.93 489.69 L336.9 489.17 L336.84 488.66 L336.75 488.14 L336.66 487.62 L336.54 487.11 L336.41 486.59 L336.27 486.08 L336.13 485.56 L335.93 485.04 L335.65 484.53 L335.3 484.01 L334.9 483.5 L334.4 482.98 L333.77 482.46 L333.07 481.95 L332.32 481.43 L331.51 480.92 L330.61 480.4 L329.61 479.88 L328.51 479.37 L327.35 478.85 L326.19 478.34 L325.06 477.82 L323.92 477.3 L322.75 476.79 L321.56 476.27 L320.31 475.76 L319 475.24 L317.68 474.72 L316.4 474.21 L315.19 473.69 L314 473.18 L312.85 472.66 L311.73 472.14 L310.64 471.63 L309.56 471.11 L308.52 470.6 L307.56 470.08 L306.66 469.56 L305.78 469.05 L304.98 468.53 L304.37 468.01 L303.93 467.5 L303.54 466.98 L303.34 466.47 L303.35 465.95 L303.41 465.43 L303.52 464.92 L303.7 464.4 L303.94 463.89 L304.19 463.37 L304.46 462.85 L304.76 462.34 L305.09 461.82 L305.42 461.31 L305.73 460.79 L306.02 460.27 L306.3 459.76 L306.57 459.24 L306.83 458.73 L307.08 458.21 L307.31 457.69 L307.51 457.18 L307.69 456.66 L307.86 456.15 L308.03 455.63 L308.19 455.11 L308.35 454.6 L308.52 454.08 L308.69 453.57 L308.85 453.05 L309.02 452.53 L309.19 452.02 L309.37 451.5 L309.57 450.99 L309.77 450.47 L309.99 449.95 L310.21 449.44 L310.45 448.92 L310.69 448.41 L310.95 447.89 L311.21 447.37 L311.49 446.86 L311.78 446.34 L312.09 445.82 L312.41 445.31 L312.75 444.79 L313.11 444.28 L313.5 443.76 L313.9 443.24 L314.31 442.73 L314.74 442.21 L315.17 441.7 L315.6 441.18 L316.05 440.66 L316.52 440.15 L316.99 439.63 L317.48 439.12 L318 438.6 L318.54 438.08 L319.1 437.57 L319.68 437.05 L320.27 436.54 L320.85 436.02 L321.43 435.5 L322.01 434.99 L322.6 434.47 L323.19 433.96 L323.78 433.44 L324.36 432.92 L324.94 432.41 L325.52 431.89 L326.11 431.38 L326.69 430.86 L327.26 430.34 L327.8 429.83 L328.32 429.31 L328.82 428.8 L329.31 428.28 L329.78 427.76 L330.24 427.25 L330.66 426.73 L331.06 426.22 L331.45 425.7 L331.83 425.18 L332.18 424.67 L332.52 424.15 L332.82 423.63 L333.08 423.12 L333.33 422.6 L333.55 422.09 L333.76 421.57 L333.95 421.05 L334.13 420.54 L334.29 420.02 L334.45 419.51 L334.6 418.99 L334.74 418.47 L334.87 417.96 L334.99 417.44 L335.1 416.93 L335.21 416.41 L335.31 415.89 L335.4 415.38 L335.49 414.86 L335.58 414.35 L335.66 413.83 L335.73 413.31 L335.8 412.8 L335.86 412.28 L335.92 411.77 L335.97 411.25 L336.02 410.73 L336.07 410.22 L336.11 409.7 L336.15 409.19 L336.19 408.67 L336.23 408.15 L336.26 407.64 L336.3 407.12 L336.33 406.61 L336.36 406.09 L336.39 405.57 L336.42 405.06 L336.45 404.54 L336.47 404.03 L336.5 403.51 L336.52 402.99 L336.54 402.48 L336.57 401.96 L336.59 401.44 L336.61 400.93 L336.64 400.41 L336.66 399.9 L336.69 399.38 L336.71 398.86 L336.73 398.35 L336.76 397.83 L336.78 397.32 L336.8 396.8 L336.82 396.28 L336.84 395.77 L336.87 395.25 L336.89 394.74 L336.91 394.22 L336.93 393.7 L336.95 393.19Z"/>
<line class="w" x1="336.95" y1="428.47" x2="336.95" y2="475.16"/>
<rect class="b" x="330.41" y="446.63" width="13.28" height="20.03"/>
<line class="m" x1="330.41" y1="456.48" x2="343.69" y2="456.48"/>
<circle class="o" cx="336.95" cy="407.2" r="0.95"/>
<path class="v" fill="#ED2024" d="M404.16 414.98 L404.16 415.5 L404.17 416.02 L404.19 416.53 L404.22 417.05 L404.25 417.57 L404.29 418.09 L404.34 418.61 L404.39 419.13 L404.45 419.65 L404.52 420.17 L404.59 420.68 L404.67 421.2 L404.81 421.72 L405.05 422.24 L405.34 422.76 L405.68 423.28 L406.02 423.8 L406.4 424.32 L406.83 424.84 L407.3 425.35 L407.8 425.87 L408.31 426.39 L408.84 426.91 L409.41 427.43 L410 427.95 L410.61 428.47 L411.21 428.99 L411.82 429.5 L412.45 430.02 L413.08 430.54 L413.71 431.06 L414.32 431.58 L414.93 432.1 L415.52 432.62 L416.11 433.14 L416.69 433.65 L417.27 434.17 L417.85 434.69 L418.43 435.21 L419 435.73 L419.57 436.25 L420.14 436.77 L420.71 437.29 L421.28 437.81 L421.85 438.32 L422.43 438.84 L423.01 439.36 L423.58 439.88 L424.15 440.4 L424.7 440.92 L425.24 441.44 L425.77 441.96 L426.3 442.47 L426.81 442.99 L427.32 443.51 L427.81 444.03 L428.31 444.55 L428.8 445.07 L429.28 445.59 L429.75 446.11 L430.2 446.63 L430.61 447.14 L431.01 447.66 L431.4 448.18 L431.77 448.7 L432.11 449.22 L432.42 449.74 L432.69 450.26 L432.93 450.78 L433.15 451.29 L433.34 451.81 L433.51 452.33 L433.62 452.85 L433.7 453.37 L433.76 453.89 L433.81 454.41 L433.87 454.93 L433.94 455.44 L434.01 455.96 L434.1 456.48 L434.2 457 L434.32 457.52 L434.45 458.04 L434.65 458.56 L434.91 459.08 L435.21 459.6 L435.51 460.11 L435.8 460.63 L436.08 461.15 L436.37 461.67 L436.65 462.19 L436.92 462.71 L437.15 463.23 L437.39 463.75 L437.62 464.26 L437.8 464.78 L437.88 465.3 L437.88 465.82 L437.88 466.34 L437.66 466.86 L437.13 467.38 L436.53 467.9 L435.87 468.42 L435.07 468.93 L434.17 469.45 L433.21 469.97 L432.16 470.49 L431 471.01 L429.78 471.53 L428.54 472.05 L427.28 472.57 L425.98 473.08 L424.66 473.6 L423.35 474.12 L422.05 474.64 L420.74 475.16 L419.44 475.68 L418.16 476.2 L416.9 476.72 L415.66 477.23 L414.44 477.75 L413.29 478.27 L412.18 478.79 L411.1 479.31 L410.08 479.83 L409.14 480.35 L408.26 480.87 L407.45 481.39 L406.75 481.9 L406.11 482.42 L405.54 482.94 L405.19 483.46 L405.01 483.98 L404.83 484.5 L404.68 485.02 L404.55 485.54 L404.43 486.05 L404.33 486.57 L404.26 487.09 L404.2 487.61 L404.17 488.13 L404.16 488.65 L404.16 488.65 L404.14 488.13 L404.11 487.61 L404.06 487.09 L403.98 486.57 L403.88 486.05 L403.77 485.54 L403.63 485.02 L403.48 484.5 L403.31 483.98 L403.12 483.46 L402.77 482.94 L402.2 482.42 L401.56 481.9 L400.86 481.39 L400.05 480.87 L399.18 480.35 L398.23 479.83 L397.21 479.31 L396.14 478.79 L395.02 478.27 L393.87 477.75 L392.65 477.23 L391.41 476.72 L390.15 476.2 L388.87 475.68 L387.57 475.16 L386.26 474.64 L384.96 474.12 L383.65 473.6 L382.33 473.08 L381.03 472.57 L379.77 472.05 L378.53 471.53 L377.31 471.01 L376.15 470.49 L375.1 469.97 L374.15 469.45 L373.24 468.93 L372.44 468.42 L371.78 467.9 L371.18 467.38 L370.66 466.86 L370.43 466.34 L370.43 465.82 L370.43 465.3 L370.51 464.78 L370.69 464.26 L370.92 463.75 L371.16 463.23 L371.39 462.71 L371.66 462.19 L371.94 461.67 L372.23 461.15 L372.51 460.63 L372.8 460.11 L373.11 459.6 L373.4 459.08 L373.66 458.56 L373.86 458.04 L373.99 457.52 L374.11 457 L374.21 456.48 L374.3 455.96 L374.38 455.44 L374.44 454.93 L374.5 454.41 L374.55 453.89 L374.61 453.37 L374.69 452.85 L374.81 452.33 L374.97 451.81 L375.16 451.29 L375.39 450.78 L375.62 450.26 L375.89 449.74 L376.2 449.22 L376.54 448.7 L376.91 448.18 L377.3 447.66 L377.7 447.14 L378.11 446.63 L378.56 446.11 L379.03 445.59 L379.51 445.07 L380 444.55 L380.5 444.03 L380.99 443.51 L381.5 442.99 L382.02 442.47 L382.54 441.96 L383.07 441.44 L383.61 440.92 L384.16 440.4 L384.73 439.88 L385.3 439.36 L385.88 438.84 L386.46 438.32 L387.04 437.81 L387.6 437.29 L388.17 436.77 L388.74 436.25 L389.31 435.73 L389.88 435.21 L390.46 434.69 L391.04 434.17 L391.62 433.65 L392.2 433.14 L392.79 432.62 L393.39 432.1 L393.99 431.58 L394.6 431.06 L395.23 430.54 L395.86 430.02 L396.49 429.5 L397.1 428.99 L397.7 428.47 L398.31 427.95 L398.9 427.43 L399.47 426.91 L400.01 426.39 L400.52 425.87 L401.01 425.35 L401.49 424.84 L401.92 424.32 L402.29 423.8 L402.63 423.28 L402.97 422.76 L403.27 422.24 L403.5 421.72 L403.64 421.2 L403.72 420.68 L403.79 420.17 L403.86 419.65 L403.92 419.13 L403.97 418.61 L404.02 418.09 L404.06 417.57 L404.09 417.05 L404.12 416.53 L404.14 416.02 L404.15 415.5 L404.16 414.98Z"/>
<line class="w" x1="404.16" y1="428.99" x2="404.16" y2="474.64"/>
<rect class="b" x="397.2" y="446.42" width="13.7" height="19.92"/>
<line class="m" x1="397.2" y1="455.44" x2="410.9" y2="455.44"/>
</g>
<path class="br" d="M336.95 405.79 V404.39 H404.16 V405.79"/>
<text class="sg" x="370.55" y="403.26" text-anchor="middle">ns</text>
<path class="ax" d="M297.09 388.77 V495.12 H441.06"/>
<line class="tk" x1="295.99" y1="391.88" x2="297.09" y2="391.88"/>
<text class="tl" x="294.89" y="393.48" text-anchor="end">300</text>
<line class="tk" x1="295.99" y1="420.42" x2="297.09" y2="420.42"/>
<text class="tl" x="294.89" y="422.02" text-anchor="end">200</text>
<line class="tk" x1="295.99" y1="448.95" x2="297.09" y2="448.95"/>
<text class="tl" x="294.89" y="450.55" text-anchor="end">100</text>
<line class="tk" x1="295.99" y1="477.48" x2="297.09" y2="477.48"/>
<text class="tl" x="294.89" y="479.08" text-anchor="end">0</text>
<line class="tk" x1="336.95" y1="495.12" x2="336.95" y2="496.22"/>
<text class="tl" x="336.95" y="500.87" text-anchor="middle">Low−risk</text>
<line class="tk" x1="404.16" y1="495.12" x2="404.16" y2="496.22"/>
<text class="tl" x="404.16" y="500.87" text-anchor="middle">High−risk</text>
<text class="tl" transform="translate(285.35 442.46) rotate(-90)" text-anchor="middle">Merck18</text>
</g>
<g id="panel-I">
<text class="lt" transform="translate(502.17 368.93) scale(1.4 1)" text-anchor="middle">I</text>
<text class="tt" x="516.91" y="382.9">entire</text>
<clipPath id="cI"><rect x="504.5" y="386.29" width="143.97" height="109.87"/></clipPath>
<g clip-path="url(#cI)">
<path class="v" fill="#416AB5" d="M544.43 394.15 L544.45 394.67 L544.47 395.18 L544.49 395.7 L544.51 396.21 L544.53 396.73 L544.56 397.25 L544.58 397.76 L544.6 398.28 L544.62 398.8 L544.65 399.31 L544.67 399.83 L544.69 400.34 L544.72 400.86 L544.74 401.38 L544.76 401.89 L544.79 402.41 L544.81 402.92 L544.83 403.44 L544.86 403.96 L544.88 404.47 L544.91 404.99 L544.93 405.5 L544.96 406.02 L544.99 406.54 L545.02 407.05 L545.05 407.57 L545.08 408.08 L545.12 408.6 L545.15 409.12 L545.19 409.63 L545.23 410.15 L545.28 410.66 L545.32 411.18 L545.37 411.7 L545.41 412.21 L545.46 412.73 L545.51 413.25 L545.55 413.76 L545.61 414.28 L545.66 414.79 L545.71 415.31 L545.76 415.83 L545.82 416.34 L545.87 416.86 L545.92 417.37 L545.96 417.89 L546.01 418.41 L546.05 418.92 L546.09 419.44 L546.14 419.95 L546.2 420.47 L546.28 420.99 L546.37 421.5 L546.5 422.02 L546.66 422.53 L546.85 423.05 L547.05 423.57 L547.27 424.08 L547.49 424.6 L547.76 425.12 L548.04 425.63 L548.35 426.15 L548.67 426.66 L548.99 427.18 L549.31 427.7 L549.65 428.21 L549.99 428.73 L550.34 429.24 L550.7 429.76 L551.05 430.28 L551.39 430.79 L551.73 431.31 L552.06 431.82 L552.4 432.34 L552.75 432.86 L553.1 433.37 L553.47 433.89 L553.85 434.4 L554.23 434.92 L554.63 435.44 L555.03 435.95 L555.45 436.47 L555.88 436.98 L556.32 437.5 L556.78 438.02 L557.25 438.53 L557.73 439.05 L558.21 439.57 L558.7 440.08 L559.21 440.6 L559.72 441.11 L560.24 441.63 L560.77 442.15 L561.29 442.66 L561.81 443.18 L562.33 443.69 L562.86 444.21 L563.38 444.73 L563.9 445.24 L564.4 445.76 L564.89 446.27 L565.37 446.79 L565.84 447.31 L566.3 447.82 L566.75 448.34 L567.21 448.85 L567.66 449.37 L568.11 449.89 L568.56 450.4 L569 450.92 L569.45 451.43 L569.89 451.95 L570.35 452.47 L570.82 452.98 L571.29 453.5 L571.77 454.02 L572.24 454.53 L572.69 455.05 L573.12 455.56 L573.55 456.08 L573.96 456.6 L574.37 457.11 L574.76 457.63 L575.12 458.14 L575.47 458.66 L575.8 459.18 L576.12 459.69 L576.43 460.21 L576.71 460.72 L576.96 461.24 L577.18 461.76 L577.39 462.27 L577.58 462.79 L577.75 463.3 L577.88 463.82 L577.96 464.34 L578.03 464.85 L578.08 465.37 L578.12 465.89 L578.15 466.4 L578.15 466.92 L578.06 467.43 L577.87 467.95 L577.63 468.47 L577.36 468.98 L576.97 469.5 L576.45 470.01 L575.85 470.53 L575.21 471.05 L574.46 471.56 L573.6 472.08 L572.68 472.59 L571.74 473.11 L570.77 473.63 L569.74 474.14 L568.67 474.66 L567.58 475.17 L566.45 475.69 L565.28 476.21 L564.1 476.72 L562.93 477.24 L561.76 477.75 L560.59 478.27 L559.43 478.79 L558.29 479.3 L557.15 479.82 L556.02 480.34 L554.91 480.85 L553.86 481.37 L552.84 481.88 L551.85 482.4 L550.91 482.92 L550.06 483.43 L549.28 483.95 L548.53 484.46 L547.87 484.98 L547.3 485.5 L546.79 486.01 L546.33 486.53 L545.94 487.04 L545.66 487.56 L545.45 488.08 L545.24 488.59 L545.05 489.11 L544.88 489.62 L544.73 490.14 L544.6 490.66 L544.51 491.17 L544.45 491.69 L544.43 492.2 L544.43 492.2 L544.41 491.69 L544.35 491.17 L544.26 490.66 L544.13 490.14 L543.98 489.62 L543.81 489.11 L543.62 488.59 L543.41 488.08 L543.19 487.56 L542.92 487.04 L542.53 486.53 L542.07 486.01 L541.56 485.5 L540.99 484.98 L540.32 484.46 L539.58 483.95 L538.79 483.43 L537.95 482.92 L537.01 482.4 L536.02 481.88 L535 481.37 L533.95 480.85 L532.84 480.34 L531.71 479.82 L530.57 479.3 L529.43 478.79 L528.27 478.27 L527.1 477.75 L525.93 477.24 L524.76 476.72 L523.58 476.21 L522.41 475.69 L521.27 475.17 L520.19 474.66 L519.12 474.14 L518.09 473.63 L517.12 473.11 L516.18 472.59 L515.26 472.08 L514.4 471.56 L513.65 471.05 L513.01 470.53 L512.41 470.01 L511.89 469.5 L511.5 468.98 L511.23 468.47 L510.99 467.95 L510.8 467.43 L510.71 466.92 L510.71 466.4 L510.74 465.89 L510.78 465.37 L510.83 464.85 L510.9 464.34 L510.98 463.82 L511.11 463.3 L511.28 462.79 L511.47 462.27 L511.68 461.76 L511.9 461.24 L512.15 460.72 L512.43 460.21 L512.74 459.69 L513.06 459.18 L513.39 458.66 L513.74 458.14 L514.1 457.63 L514.49 457.11 L514.89 456.6 L515.31 456.08 L515.73 455.56 L516.17 455.05 L516.62 454.53 L517.09 454.02 L517.56 453.5 L518.04 452.98 L518.51 452.47 L518.97 451.95 L519.41 451.43 L519.86 450.92 L520.3 450.4 L520.75 449.89 L521.19 449.37 L521.65 448.85 L522.1 448.34 L522.56 447.82 L523.02 447.31 L523.49 446.79 L523.97 446.27 L524.46 445.76 L524.96 445.24 L525.48 444.73 L526 444.21 L526.53 443.69 L527.05 443.18 L527.57 442.66 L528.09 442.15 L528.61 441.63 L529.14 441.11 L529.65 440.6 L530.16 440.08 L530.65 439.57 L531.13 439.05 L531.61 438.53 L532.08 438.02 L532.53 437.5 L532.98 436.98 L533.41 436.47 L533.82 435.95 L534.23 435.44 L534.63 434.92 L535.01 434.4 L535.39 433.89 L535.76 433.37 L536.11 432.86 L536.46 432.34 L536.8 431.82 L537.13 431.31 L537.47 430.79 L537.81 430.28 L538.16 429.76 L538.52 429.24 L538.87 428.73 L539.21 428.21 L539.55 427.7 L539.87 427.18 L540.19 426.66 L540.51 426.15 L540.81 425.63 L541.1 425.12 L541.36 424.6 L541.59 424.08 L541.8 423.57 L542.01 423.05 L542.2 422.53 L542.36 422.02 L542.49 421.5 L542.58 420.99 L542.65 420.47 L542.71 419.95 L542.77 419.44 L542.81 418.92 L542.85 418.41 L542.89 417.89 L542.94 417.37 L542.99 416.86 L543.04 416.34 L543.09 415.83 L543.15 415.31 L543.2 414.79 L543.25 414.28 L543.3 413.76 L543.35 413.25 L543.4 412.73 L543.45 412.21 L543.49 411.7 L543.54 411.18 L543.58 410.66 L543.62 410.15 L543.67 409.63 L543.7 409.12 L543.74 408.6 L543.78 408.08 L543.81 407.57 L543.84 407.05 L543.87 406.54 L543.9 406.02 L543.93 405.5 L543.95 404.99 L543.98 404.47 L544 403.96 L544.03 403.44 L544.05 402.92 L544.07 402.41 L544.1 401.89 L544.12 401.38 L544.14 400.86 L544.17 400.34 L544.19 399.83 L544.21 399.31 L544.24 398.8 L544.26 398.28 L544.28 397.76 L544.3 397.25 L544.32 396.73 L544.35 396.21 L544.37 395.7 L544.39 395.18 L544.41 394.67 L544.43 394.15Z"/>
<line class="w" x1="544.43" y1="425.28" x2="544.43" y2="479.75"/>
<rect class="b" x="537.68" y="450.49" width="13.7" height="18.88"/>
<line class="m" x1="537.68" y1="461.08" x2="551.38" y2="461.08"/>
<circle class="o" cx="544.43" cy="406.6" r="0.95"/>
<circle class="o" cx="544.43" cy="413.35" r="0.95"/>
<circle class="o" cx="544.43" cy="420.09" r="0.95"/>
<circle class="o" cx="544.43" cy="421.13" r="0.95"/>
<path class="v" fill="#ED2024" d="M611.43 406.08 L611.44 406.6 L611.46 407.12 L611.48 407.64 L611.51 408.16 L611.55 408.68 L611.59 409.2 L611.64 409.71 L611.69 410.23 L611.74 410.75 L611.79 411.27 L611.84 411.79 L611.91 412.31 L611.99 412.83 L612.09 413.35 L612.19 413.87 L612.29 414.38 L612.39 414.9 L612.47 415.42 L612.55 415.94 L612.63 416.46 L612.7 416.98 L612.76 417.5 L612.78 418.02 L612.77 418.53 L612.74 419.05 L612.71 419.57 L612.69 420.09 L612.67 420.61 L612.67 421.13 L612.67 421.65 L612.67 422.17 L612.67 422.68 L612.67 423.2 L612.72 423.72 L612.86 424.24 L613.05 424.76 L613.27 425.28 L613.5 425.8 L613.78 426.32 L614.13 426.84 L614.53 427.35 L614.95 427.87 L615.37 428.39 L615.79 428.91 L616.24 429.43 L616.7 429.95 L617.17 430.47 L617.65 430.99 L618.15 431.5 L618.66 432.02 L619.18 432.54 L619.71 433.06 L620.25 433.58 L620.8 434.1 L621.37 434.62 L621.95 435.14 L622.53 435.65 L623.1 436.17 L623.67 436.69 L624.23 437.21 L624.79 437.73 L625.34 438.25 L625.89 438.77 L626.44 439.29 L626.99 439.81 L627.55 440.32 L628.1 440.84 L628.65 441.36 L629.2 441.88 L629.75 442.4 L630.31 442.92 L630.88 443.44 L631.46 443.96 L632.04 444.47 L632.62 444.99 L633.18 445.51 L633.74 446.03 L634.28 446.55 L634.81 447.07 L635.33 447.59 L635.85 448.11 L636.35 448.63 L636.85 449.14 L637.34 449.66 L637.82 450.18 L638.29 450.7 L638.75 451.22 L639.21 451.74 L639.65 452.26 L640.1 452.78 L640.54 453.29 L640.97 453.81 L641.37 454.33 L641.73 454.85 L642.05 455.37 L642.37 455.89 L642.65 456.41 L642.89 456.93 L643.08 457.44 L643.22 457.96 L643.34 458.48 L643.44 459 L643.53 459.52 L643.6 460.04 L643.65 460.56 L643.71 461.08 L643.76 461.6 L643.79 462.11 L643.8 462.63 L643.79 463.15 L643.76 463.67 L643.72 464.19 L643.66 464.71 L643.6 465.23 L643.51 465.75 L643.37 466.26 L643.2 466.78 L643 467.3 L642.77 467.82 L642.47 468.34 L642.07 468.86 L641.6 469.38 L641.06 469.9 L640.48 470.42 L639.8 470.93 L638.99 471.45 L638.08 471.97 L637.11 472.49 L636.12 473.01 L635.09 473.53 L633.97 474.05 L632.82 474.57 L631.66 475.08 L630.51 475.6 L629.34 476.12 L628.17 476.64 L626.99 477.16 L625.81 477.68 L624.62 478.2 L623.45 478.72 L622.32 479.23 L621.22 479.75 L620.14 480.27 L619.12 480.79 L618.17 481.31 L617.31 481.83 L616.49 482.35 L615.74 482.87 L615.06 483.39 L614.42 483.9 L613.81 484.42 L613.29 484.94 L612.88 485.46 L612.58 485.98 L612.32 486.5 L612.11 487.02 L611.95 487.54 L611.82 488.05 L611.7 488.57 L611.59 489.09 L611.51 489.61 L611.45 490.13 L611.43 490.65 L611.43 490.65 L611.41 490.13 L611.35 489.61 L611.27 489.09 L611.16 488.57 L611.04 488.05 L610.91 487.54 L610.75 487.02 L610.54 486.5 L610.28 485.98 L609.98 485.46 L609.57 484.94 L609.04 484.42 L608.44 483.9 L607.8 483.39 L607.12 482.87 L606.37 482.35 L605.55 481.83 L604.68 481.31 L603.74 480.79 L602.71 480.27 L601.63 479.75 L600.53 479.23 L599.41 478.72 L598.23 478.2 L597.05 477.68 L595.87 477.16 L594.69 476.64 L593.52 476.12 L592.35 475.6 L591.2 475.08 L590.04 474.57 L588.89 474.05 L587.77 473.53 L586.73 473.01 L585.75 472.49 L584.78 471.97 L583.87 471.45 L583.06 470.93 L582.38 470.42 L581.79 469.9 L581.26 469.38 L580.78 468.86 L580.39 468.34 L580.09 467.82 L579.86 467.3 L579.66 466.78 L579.49 466.26 L579.35 465.75 L579.26 465.23 L579.2 464.71 L579.14 464.19 L579.1 463.67 L579.07 463.15 L579.06 462.63 L579.07 462.11 L579.1 461.6 L579.15 461.08 L579.2 460.56 L579.26 460.04 L579.33 459.52 L579.42 459 L579.52 458.48 L579.64 457.96 L579.78 457.44 L579.97 456.93 L580.21 456.41 L580.49 455.89 L580.81 455.37 L581.13 454.85 L581.49 454.33 L581.89 453.81 L582.32 453.29 L582.76 452.78 L583.21 452.26 L583.65 451.74 L584.1 451.22 L584.57 450.7 L585.04 450.18 L585.52 449.66 L586.01 449.14 L586.5 448.63 L587.01 448.11 L587.53 447.59 L588.05 447.07 L588.58 446.55 L589.12 446.03 L589.67 445.51 L590.24 444.99 L590.82 444.47 L591.4 443.96 L591.98 443.44 L592.54 442.92 L593.1 442.4 L593.66 441.88 L594.21 441.36 L594.76 440.84 L595.31 440.32 L595.87 439.81 L596.42 439.29 L596.97 438.77 L597.52 438.25 L598.07 437.73 L598.63 437.21 L599.19 436.69 L599.75 436.17 L600.33 435.65 L600.91 435.14 L601.49 434.62 L602.06 434.1 L602.61 433.58 L603.15 433.06 L603.68 432.54 L604.2 432.02 L604.71 431.5 L605.2 430.99 L605.69 430.47 L606.16 429.95 L606.62 429.43 L607.06 428.91 L607.49 428.39 L607.91 427.87 L608.33 427.35 L608.73 426.84 L609.08 426.32 L609.35 425.8 L609.59 425.28 L609.81 424.76 L610 424.24 L610.13 423.72 L610.18 423.2 L610.18 422.68 L610.18 422.17 L610.18 421.65 L610.18 421.13 L610.18 420.61 L610.17 420.09 L610.15 419.57 L610.12 419.05 L610.09 418.53 L610.08 418.02 L610.1 417.5 L610.16 416.98 L610.23 416.46 L610.31 415.94 L610.39 415.42 L610.47 414.9 L610.57 414.38 L610.67 413.87 L610.77 413.35 L610.86 412.83 L610.95 412.31 L611.01 411.79 L611.07 411.27 L611.12 410.75 L611.17 410.23 L611.22 409.71 L611.27 409.2 L611.31 408.68 L611.34 408.16 L611.38 407.64 L611.4 407.12 L611.42 406.6 L611.43 406.08Z"/>
<line class="w" x1="611.43" y1="425.8" x2="611.43" y2="478.72"/>
<rect class="b" x="604.68" y="450.7" width="13.7" height="17.64"/>
<line class="m" x1="604.68" y1="459.73" x2="618.38" y2="459.73"/>
<circle class="o" cx="611.43" cy="417.81" r="0.95"/>
<circle class="o" cx="611.43" cy="420.09" r="0.95"/>
</g>
<path class="br" d="M544.43 403.85 V402.45 H611.43 V403.85"/>
<text class="sg" x="577.93" y="401.32" text-anchor="middle">ns</text>
<path class="ax" d="M504.5 389.29 V496.16 H648.47"/>
<line class="tk" x1="503.4" y1="419.64" x2="504.5" y2="419.64"/>
<text class="tl" x="502.3" y="421.24" text-anchor="end">200</text>
<line class="tk" x1="503.4" y1="450.77" x2="504.5" y2="450.77"/>
<text class="tl" x="502.3" y="452.37" text-anchor="end">100</text>
<line class="tk" x1="503.4" y1="481.63" x2="504.5" y2="481.63"/>
<text class="tl" x="502.3" y="483.23" text-anchor="end">0</text>
<line class="tk" x1="544.43" y1="496.16" x2="544.43" y2="497.26"/>
<text class="tl" x="544.43" y="501.91" text-anchor="middle">Low−risk</text>
<line class="tk" x1="611.43" y1="496.16" x2="611.43" y2="497.26"/>
<text class="tl" x="611.43" y="501.91" text-anchor="middle">High−risk</text>
<text class="tl" transform="translate(492.23 442.98) rotate(-90)" text-anchor="middle">Merck18</text>
</g>
<g id="panel-J">
<text class="lt" transform="translate(72.44 525.38) scale(0.8 1)" text-anchor="middle">J</text>
<text class="tt" x="84.2" y="541.82">train</text>
<clipPath id="cJ"><rect x="78.53" y="547.8" width="148.38" height="117.14"/></clipPath>
<g clip-path="url(#cJ)">
<path class="v" fill="#416AB5" d="M121.47 576.2 L121.49 576.71 L121.51 577.23 L121.53 577.75 L121.56 578.27 L121.59 578.79 L121.61 579.31 L121.64 579.83 L121.68 580.35 L121.71 580.87 L121.74 581.38 L121.78 581.9 L121.82 582.42 L121.87 582.94 L121.93 583.46 L121.99 583.98 L122.06 584.5 L122.11 585.02 L122.15 585.53 L122.18 586.05 L122.19 586.57 L122.17 587.09 L122.12 587.61 L122.06 588.13 L122.01 588.65 L121.99 589.17 L121.99 589.68 L121.99 590.2 L121.99 590.72 L121.99 591.24 L121.99 591.76 L121.99 592.28 L121.99 592.8 L121.99 593.32 L121.99 593.84 L122.02 594.35 L122.06 594.87 L122.11 595.39 L122.17 595.91 L122.23 596.43 L122.3 596.95 L122.38 597.47 L122.48 597.99 L122.61 598.5 L122.75 599.02 L122.92 599.54 L123.13 600.06 L123.41 600.58 L123.72 601.1 L124.06 601.62 L124.43 602.14 L124.84 602.65 L125.29 603.17 L125.75 603.69 L126.21 604.21 L126.65 604.73 L127.09 605.25 L127.53 605.77 L127.97 606.29 L128.4 606.81 L128.83 607.32 L129.25 607.84 L129.66 608.36 L130.07 608.88 L130.48 609.4 L130.87 609.92 L131.26 610.44 L131.64 610.96 L132 611.47 L132.35 611.99 L132.69 612.51 L133.03 613.03 L133.37 613.55 L133.71 614.07 L134.05 614.59 L134.38 615.11 L134.71 615.63 L135.05 616.14 L135.4 616.66 L135.79 617.18 L136.19 617.7 L136.62 618.22 L137.07 618.74 L137.54 619.26 L138.05 619.78 L138.59 620.29 L139.18 620.81 L139.84 621.33 L140.54 621.85 L141.27 622.37 L142.01 622.89 L142.74 623.41 L143.47 623.93 L144.21 624.44 L144.97 624.96 L145.72 625.48 L146.47 626 L147.2 626.52 L147.92 627.04 L148.65 627.56 L149.37 628.08 L150.07 628.6 L150.73 629.11 L151.35 629.63 L151.93 630.15 L152.5 630.67 L153.04 631.19 L153.55 631.71 L154.02 632.23 L154.46 632.75 L154.88 633.26 L155.27 633.78 L155.64 634.3 L155.96 634.82 L156.23 635.34 L156.46 635.86 L156.68 636.38 L156.85 636.9 L156.95 637.42 L157.01 637.93 L157.04 638.45 L157.06 638.97 L156.99 639.49 L156.8 640.01 L156.54 640.53 L156.23 641.05 L155.77 641.57 L155.1 642.08 L154.29 642.6 L153.43 643.12 L152.47 643.64 L151.36 644.16 L150.17 644.68 L148.96 645.2 L147.73 645.72 L146.45 646.23 L145.13 646.75 L143.78 647.27 L142.38 647.79 L140.94 648.31 L139.49 648.83 L138.07 649.35 L136.68 649.87 L135.31 650.39 L133.97 650.9 L132.67 651.42 L131.4 651.94 L130.14 652.46 L128.96 652.98 L127.9 653.5 L126.95 654.02 L126.07 654.54 L125.27 655.05 L124.58 655.57 L123.97 656.09 L123.43 656.61 L123.02 657.13 L122.7 657.65 L122.39 658.17 L122.1 658.69 L121.85 659.2 L121.66 659.72 L121.52 660.24 L121.47 660.76 L121.47 660.76 L121.41 660.24 L121.28 659.72 L121.08 659.2 L120.83 658.69 L120.55 658.17 L120.24 657.65 L119.91 657.13 L119.5 656.61 L118.97 656.09 L118.35 655.57 L117.66 655.05 L116.87 654.54 L115.98 654.02 L115.03 653.5 L113.97 652.98 L112.79 652.46 L111.54 651.94 L110.26 651.42 L108.97 650.9 L107.62 650.39 L106.25 649.87 L104.87 649.35 L103.45 648.83 L102 648.31 L100.55 647.79 L99.16 647.27 L97.81 646.75 L96.48 646.23 L95.2 645.72 L93.97 645.2 L92.76 644.68 L91.57 644.16 L90.46 643.64 L89.51 643.12 L88.65 642.6 L87.84 642.08 L87.16 641.57 L86.71 641.05 L86.4 640.53 L86.13 640.01 L85.95 639.49 L85.88 638.97 L85.89 638.45 L85.93 637.93 L85.98 637.42 L86.08 636.9 L86.25 636.38 L86.47 635.86 L86.71 635.34 L86.98 634.82 L87.3 634.3 L87.66 633.78 L88.06 633.26 L88.47 632.75 L88.91 632.23 L89.39 631.71 L89.9 631.19 L90.44 630.67 L91 630.15 L91.58 629.63 L92.2 629.11 L92.87 628.6 L93.57 628.08 L94.28 627.56 L95.01 627.04 L95.73 626.52 L96.46 626 L97.21 625.48 L97.96 624.96 L98.72 624.44 L99.47 623.93 L100.2 623.41 L100.92 622.89 L101.66 622.37 L102.39 621.85 L103.09 621.33 L103.75 620.81 L104.35 620.29 L104.89 619.78 L105.39 619.26 L105.87 618.74 L106.32 618.22 L106.74 617.7 L107.15 617.18 L107.53 616.66 L107.89 616.14 L108.22 615.63 L108.55 615.11 L108.88 614.59 L109.22 614.07 L109.57 613.55 L109.9 613.03 L110.24 612.51 L110.59 611.99 L110.94 611.47 L111.3 610.96 L111.67 610.44 L112.06 609.92 L112.46 609.4 L112.86 608.88 L113.27 608.36 L113.68 607.84 L114.1 607.32 L114.53 606.81 L114.97 606.29 L115.41 605.77 L115.84 605.25 L116.28 604.73 L116.72 604.21 L117.18 603.69 L117.65 603.17 L118.09 602.65 L118.51 602.14 L118.87 601.62 L119.21 601.1 L119.53 600.58 L119.8 600.06 L120.01 599.54 L120.18 599.02 L120.33 598.5 L120.45 597.99 L120.56 597.47 L120.64 596.95 L120.7 596.43 L120.77 595.91 L120.83 595.39 L120.88 594.87 L120.91 594.35 L120.94 593.84 L120.95 593.32 L120.95 592.8 L120.95 592.28 L120.95 591.76 L120.95 591.24 L120.95 590.72 L120.95 590.2 L120.95 589.68 L120.95 589.17 L120.93 588.65 L120.88 588.13 L120.81 587.61 L120.76 587.09 L120.74 586.57 L120.75 586.05 L120.78 585.53 L120.82 585.02 L120.88 584.5 L120.94 583.98 L121 583.46 L121.06 582.94 L121.11 582.42 L121.16 581.9 L121.19 581.38 L121.22 580.87 L121.26 580.35 L121.29 579.83 L121.32 579.31 L121.35 578.79 L121.38 578.27 L121.4 577.75 L121.43 577.23 L121.45 576.71 L121.47 576.2Z"/>
<line class="w" x1="121.47" y1="600.06" x2="121.47" y2="648.83"/>
<rect class="b" x="114.41" y="625.48" width="14.11" height="16.6"/>
<line class="m" x1="114.41" y1="635.34" x2="128.52" y2="635.34"/>
<circle class="o" cx="121.47" cy="587.09" r="0.95"/>
<circle class="o" cx="121.47" cy="599.33" r="0.95"/>
<path class="v" fill="#ED2024" d="M192.47 555 L192.5 555.52 L192.53 556.03 L192.57 556.55 L192.6 557.06 L192.65 557.58 L192.69 558.1 L192.73 558.61 L192.78 559.13 L192.83 559.65 L192.88 560.16 L192.94 560.68 L193.02 561.19 L193.1 561.71 L193.19 562.23 L193.27 562.74 L193.33 563.26 L193.38 563.78 L193.4 564.29 L193.39 564.81 L193.36 565.32 L193.31 565.84 L193.24 566.36 L193.18 566.87 L193.11 567.39 L193.04 567.91 L192.99 568.42 L192.94 568.94 L192.89 569.45 L192.84 569.97 L192.79 570.49 L192.75 571 L192.71 571.52 L192.69 572.04 L192.67 572.55 L192.67 573.07 L192.67 573.58 L192.67 574.1 L192.67 574.62 L192.67 575.13 L192.67 575.65 L192.67 576.17 L192.67 576.68 L192.67 577.2 L192.67 577.71 L192.67 578.23 L192.67 578.75 L192.67 579.26 L192.67 579.78 L192.67 580.3 L192.67 580.81 L192.67 581.33 L192.67 581.84 L192.67 582.36 L192.67 582.88 L192.67 583.39 L192.67 583.91 L192.67 584.43 L192.67 584.94 L192.67 585.46 L192.67 585.97 L192.68 586.49 L192.72 587.01 L192.78 587.52 L192.86 588.04 L192.95 588.56 L193.06 589.07 L193.18 589.59 L193.36 590.1 L193.59 590.62 L193.83 591.14 L194.06 591.65 L194.26 592.17 L194.48 592.69 L194.7 593.2 L194.88 593.72 L195.03 594.23 L195.11 594.75 L195.18 595.27 L195.24 595.78 L195.27 596.3 L195.26 596.82 L195.22 597.33 L195.16 597.85 L195.08 598.36 L194.99 598.88 L194.9 599.4 L194.75 599.91 L194.58 600.43 L194.44 600.95 L194.35 601.46 L194.33 601.98 L194.33 602.49 L194.33 603.01 L194.33 603.53 L194.33 604.04 L194.34 604.56 L194.39 605.08 L194.48 605.59 L194.58 606.11 L194.69 606.62 L194.81 607.14 L194.94 607.66 L195.09 608.17 L195.27 608.69 L195.48 609.21 L195.73 609.72 L196.04 610.24 L196.4 610.75 L196.83 611.27 L197.39 611.79 L198.06 612.3 L198.79 612.82 L199.56 613.33 L200.43 613.85 L201.36 614.37 L202.31 614.88 L203.23 615.4 L204.14 615.92 L205.04 616.43 L205.94 616.95 L206.83 617.46 L207.7 617.98 L208.56 618.5 L209.42 619.01 L210.27 619.53 L211.12 620.05 L211.98 620.56 L212.86 621.08 L213.73 621.59 L214.6 622.11 L215.46 622.63 L216.31 623.14 L217.13 623.66 L217.94 624.18 L218.74 624.69 L219.52 625.21 L220.29 625.72 L221.03 626.24 L221.74 626.76 L222.46 627.27 L223.16 627.79 L223.85 628.31 L224.49 628.82 L225.08 629.34 L225.61 629.85 L226.1 630.37 L226.56 630.89 L226.98 631.4 L227.33 631.92 L227.6 632.44 L227.85 632.95 L228.08 633.47 L228.23 633.98 L228.26 634.5 L228.26 635.02 L228.26 635.53 L228.26 636.05 L228.26 636.57 L228.26 637.08 L228.14 637.6 L227.89 638.11 L227.54 638.63 L227.14 639.15 L226.48 639.66 L225.56 640.18 L224.49 640.7 L223.41 641.21 L222.23 641.73 L220.93 642.24 L219.56 642.76 L218.2 643.28 L216.81 643.79 L215.38 644.31 L213.94 644.83 L212.51 645.34 L211.08 645.86 L209.65 646.37 L208.23 646.89 L206.84 647.41 L205.45 647.92 L204.07 648.44 L202.74 648.96 L201.48 649.47 L200.26 649.99 L199.07 650.5 L197.98 651.02 L197.08 651.54 L196.3 652.05 L195.61 652.57 L195.01 653.09 L194.52 653.6 L194.1 654.12 L193.75 654.63 L193.5 655.15 L193.3 655.67 L193.11 656.18 L192.93 656.7 L192.78 657.22 L192.65 657.73 L192.55 658.25 L192.49 658.76 L192.47 659.28 L192.47 659.28 L192.44 658.76 L192.38 658.25 L192.28 657.73 L192.15 657.22 L192 656.7 L191.82 656.18 L191.64 655.67 L191.44 655.15 L191.18 654.63 L190.83 654.12 L190.42 653.6 L189.92 653.09 L189.32 652.57 L188.63 652.05 L187.86 651.54 L186.95 651.02 L185.86 650.5 L184.68 649.99 L183.45 649.47 L182.2 648.96 L180.86 648.44 L179.49 647.92 L178.1 647.41 L176.7 646.89 L175.28 646.37 L173.85 645.86 L172.42 645.34 L170.99 644.83 L169.55 644.31 L168.13 643.79 L166.74 643.28 L165.37 642.76 L164.01 642.24 L162.7 641.73 L161.53 641.21 L160.44 640.7 L159.38 640.18 L158.45 639.66 L157.79 639.15 L157.39 638.63 L157.05 638.11 L156.79 637.6 L156.67 637.08 L156.67 636.57 L156.67 636.05 L156.67 635.53 L156.67 635.02 L156.67 634.5 L156.71 633.98 L156.86 633.47 L157.08 632.95 L157.33 632.44 L157.6 631.92 L157.96 631.4 L158.37 630.89 L158.84 630.37 L159.33 629.85 L159.85 629.34 L160.44 628.82 L161.09 628.31 L161.77 627.79 L162.48 627.27 L163.19 626.76 L163.91 626.24 L164.65 625.72 L165.41 625.21 L166.2 624.69 L166.99 624.18 L167.8 623.66 L168.62 623.14 L169.47 622.63 L170.33 622.11 L171.2 621.59 L172.08 621.08 L172.95 620.56 L173.81 620.05 L174.66 619.53 L175.52 619.01 L176.37 618.5 L177.23 617.98 L178.1 617.46 L178.99 616.95 L179.89 616.43 L180.8 615.92 L181.71 615.4 L182.62 614.88 L183.57 614.37 L184.51 613.85 L185.38 613.33 L186.14 612.82 L186.87 612.3 L187.54 611.79 L188.11 611.27 L188.53 610.75 L188.89 610.24 L189.2 609.72 L189.46 609.21 L189.66 608.69 L189.84 608.17 L190 607.66 L190.13 607.14 L190.24 606.62 L190.35 606.11 L190.46 605.59 L190.54 605.08 L190.59 604.56 L190.6 604.04 L190.6 603.53 L190.6 603.01 L190.6 602.49 L190.6 601.98 L190.59 601.46 L190.5 600.95 L190.35 600.43 L190.18 599.91 L190.04 599.4 L189.94 598.88 L189.86 598.36 L189.78 597.85 L189.71 597.33 L189.67 596.82 L189.67 596.3 L189.7 595.78 L189.75 595.27 L189.82 594.75 L189.91 594.23 L190.05 593.72 L190.24 593.2 L190.45 592.69 L190.67 592.17 L190.88 591.65 L191.11 591.14 L191.35 590.62 L191.57 590.1 L191.76 589.59 L191.88 589.07 L191.98 588.56 L192.07 588.04 L192.15 587.52 L192.22 587.01 L192.25 586.49 L192.26 585.97 L192.26 585.46 L192.26 584.94 L192.26 584.43 L192.26 583.91 L192.26 583.39 L192.26 582.88 L192.26 582.36 L192.26 581.84 L192.26 581.33 L192.26 580.81 L192.26 580.3 L192.26 579.78 L192.26 579.26 L192.26 578.75 L192.26 578.23 L192.26 577.71 L192.26 577.2 L192.26 576.68 L192.26 576.17 L192.26 575.65 L192.26 575.13 L192.26 574.62 L192.26 574.1 L192.26 573.58 L192.26 573.07 L192.26 572.55 L192.25 572.04 L192.22 571.52 L192.19 571 L192.14 570.49 L192.09 569.97 L192.04 569.45 L191.99 568.94 L191.94 568.42 L191.89 567.91 L191.83 567.39 L191.76 566.87 L191.69 566.36 L191.63 565.84 L191.58 565.32 L191.54 564.81 L191.53 564.29 L191.55 563.78 L191.6 563.26 L191.67 562.74 L191.75 562.23 L191.83 561.71 L191.92 561.19 L191.99 560.68 L192.05 560.16 L192.1 559.65 L192.15 559.13 L192.2 558.61 L192.25 558.1 L192.29 557.58 L192.33 557.06 L192.37 556.55 L192.4 556.03 L192.44 555.52 L192.47 555Z"/>
<line class="w" x1="192.47" y1="607.92" x2="192.47" y2="648.39"/>
<rect class="b" x="185.2" y="626.91" width="14.53" height="13.7"/>
<line class="m" x1="185.2" y1="633.55" x2="199.73" y2="633.55"/>
<circle class="o" cx="192.47" cy="564.86" r="0.95"/>
<circle class="o" cx="192.47" cy="595.99" r="0.95"/>
<circle class="o" cx="192.47" cy="597.02" r="0.95"/>
<circle class="o" cx="192.47" cy="601.69" r="0.95"/>
</g>
<path class="br" d="M121.47 562.03 V560.63 H192.47 V562.03"/>
<text class="sg" x="156.97" y="559.5" text-anchor="middle">ns</text>
<path class="ax" d="M78.53 550.8 V664.94 H226.91"/>
<line class="tk" x1="77.43" y1="574.41" x2="78.53" y2="574.41"/>
<text class="tl" x="76.33" y="576.01" text-anchor="end">1000</text>
<line class="tk" x1="77.43" y1="612.28" x2="78.53" y2="612.28"/>
<text class="tl" x="76.33" y="613.88" text-anchor="end">500</text>
<line class="tk" x1="77.43" y1="650.15" x2="78.53" y2="650.15"/>
<text class="tl" x="76.33" y="651.75" text-anchor="end">0</text>
<line class="tk" x1="121.47" y1="664.94" x2="121.47" y2="666.04"/>
<text class="tl" x="121.47" y="671.21" text-anchor="middle">Low−risk</text>
<line class="tk" x1="192.47" y1="664.94" x2="192.47" y2="666.04"/>
<text class="tl" x="192.47" y="671.21" text-anchor="middle">High−risk</text>
<text class="tl" transform="translate(63.15 607.87) rotate(-90)" text-anchor="middle">IFNG</text>
</g>
<g id="panel-K">
<text class="lt" transform="translate(290.74 526.56) scale(0.88 1)" text-anchor="middle">K</text>
<text class="tt" x="304.32" y="539.23">test</text>
<clipPath id="cK"><rect x="297.09" y="545.21" width="154.35" height="118.95"/></clipPath>
<g clip-path="url(#cK)">
<path class="v" fill="#416AB5" d="M340.95 553.18 L340.95 553.7 L340.96 554.22 L340.97 554.73 L340.99 555.25 L341.01 555.77 L341.04 556.29 L341.07 556.81 L341.1 557.33 L341.14 557.84 L341.18 558.36 L341.22 558.88 L341.26 559.4 L341.31 559.92 L341.35 560.44 L341.39 560.95 L341.44 561.47 L341.5 561.99 L341.57 562.51 L341.64 563.03 L341.72 563.55 L341.81 564.06 L341.91 564.58 L342.02 565.1 L342.16 565.62 L342.33 566.14 L342.54 566.65 L342.77 567.17 L343.01 567.69 L343.25 568.21 L343.47 568.73 L343.72 569.25 L343.98 569.76 L344.23 570.28 L344.48 570.8 L344.72 571.32 L344.92 571.84 L345.12 572.36 L345.32 572.87 L345.5 573.39 L345.64 573.91 L345.74 574.43 L345.8 574.95 L345.86 575.47 L345.91 575.98 L345.94 576.5 L345.96 577.02 L345.94 577.54 L345.89 578.06 L345.8 578.58 L345.69 579.09 L345.58 579.61 L345.46 580.13 L345.31 580.65 L345.13 581.17 L344.94 581.69 L344.77 582.2 L344.61 582.72 L344.47 583.24 L344.31 583.76 L344.17 584.28 L344.04 584.8 L343.95 585.31 L343.89 585.83 L343.86 586.35 L343.83 586.87 L343.81 587.39 L343.8 587.91 L343.78 588.42 L343.78 588.94 L343.8 589.46 L343.91 589.98 L344.08 590.5 L344.3 591.02 L344.55 591.53 L344.93 592.05 L345.42 592.57 L345.96 593.09 L346.52 593.61 L347.12 594.12 L347.79 594.64 L348.47 595.16 L349.13 595.68 L349.76 596.2 L350.38 596.72 L351 597.23 L351.62 597.75 L352.24 598.27 L352.86 598.79 L353.49 599.31 L354.12 599.83 L354.75 600.34 L355.36 600.86 L355.96 601.38 L356.55 601.9 L357.14 602.42 L357.72 602.94 L358.29 603.45 L358.83 603.97 L359.35 604.49 L359.86 605.01 L360.36 605.53 L360.84 606.05 L361.3 606.56 L361.74 607.08 L362.15 607.6 L362.54 608.12 L362.91 608.64 L363.27 609.16 L363.61 609.67 L363.94 610.19 L364.25 610.71 L364.54 611.23 L364.82 611.75 L365.09 612.27 L365.35 612.78 L365.6 613.3 L365.84 613.82 L366.07 614.34 L366.28 614.86 L366.48 615.38 L366.68 615.89 L366.87 616.41 L367.08 616.93 L367.31 617.45 L367.55 617.97 L367.81 618.49 L368.08 619 L368.36 619.52 L368.65 620.04 L368.95 620.56 L369.27 621.08 L369.6 621.59 L369.94 622.11 L370.3 622.63 L370.66 623.15 L371.01 623.67 L371.36 624.19 L371.72 624.7 L372.08 625.22 L372.45 625.74 L372.8 626.26 L373.13 626.78 L373.43 627.3 L373.73 627.81 L374.02 628.33 L374.29 628.85 L374.53 629.37 L374.7 629.89 L374.81 630.41 L374.92 630.92 L375 631.44 L375.04 631.96 L375.02 632.48 L374.88 633 L374.65 633.52 L374.36 634.03 L374.04 634.55 L373.57 635.07 L372.97 635.59 L372.28 636.11 L371.54 636.63 L370.8 637.14 L370.01 637.66 L369.15 638.18 L368.24 638.7 L367.29 639.22 L366.33 639.74 L365.35 640.25 L364.33 640.77 L363.29 641.29 L362.23 641.81 L361.16 642.33 L360.1 642.85 L359.02 643.36 L357.94 643.88 L356.85 644.4 L355.77 644.92 L354.71 645.44 L353.65 645.96 L352.59 646.47 L351.54 646.99 L350.53 647.51 L349.54 648.03 L348.58 648.55 L347.63 649.07 L346.73 649.58 L345.91 650.1 L345.16 650.62 L344.44 651.14 L343.79 651.66 L343.25 652.17 L342.83 652.69 L342.46 653.21 L342.14 653.73 L341.9 654.25 L341.75 654.77 L341.61 655.28 L341.48 655.8 L341.37 656.32 L341.26 656.84 L341.17 657.36 L341.09 657.88 L341.03 658.39 L340.98 658.91 L340.96 659.43 L340.95 659.95 L340.95 659.95 L340.94 659.43 L340.91 658.91 L340.86 658.39 L340.8 657.88 L340.72 657.36 L340.63 656.84 L340.52 656.32 L340.41 655.8 L340.28 655.28 L340.15 654.77 L339.99 654.25 L339.75 653.73 L339.43 653.21 L339.06 652.69 L338.64 652.17 L338.1 651.66 L337.46 651.14 L336.73 650.62 L335.98 650.1 L335.16 649.58 L334.27 649.07 L333.32 648.55 L332.35 648.03 L331.37 647.51 L330.35 646.99 L329.3 646.47 L328.24 645.96 L327.18 645.44 L326.12 644.92 L325.04 644.4 L323.95 643.88 L322.87 643.36 L321.79 642.85 L320.73 642.33 L319.66 641.81 L318.6 641.29 L317.56 640.77 L316.54 640.25 L315.56 639.74 L314.6 639.22 L313.65 638.7 L312.74 638.18 L311.88 637.66 L311.09 637.14 L310.35 636.63 L309.61 636.11 L308.92 635.59 L308.32 635.07 L307.85 634.55 L307.53 634.03 L307.25 633.52 L307.01 633 L306.87 632.48 L306.85 631.96 L306.89 631.44 L306.97 630.92 L307.08 630.41 L307.2 629.89 L307.37 629.37 L307.6 628.85 L307.87 628.33 L308.17 627.81 L308.46 627.3 L308.76 626.78 L309.09 626.26 L309.45 625.74 L309.81 625.22 L310.17 624.7 L310.53 624.19 L310.88 623.67 L311.23 623.15 L311.59 622.63 L311.95 622.11 L312.29 621.59 L312.62 621.08 L312.94 620.56 L313.24 620.04 L313.53 619.52 L313.81 619 L314.08 618.49 L314.34 617.97 L314.58 617.45 L314.81 616.93 L315.02 616.41 L315.21 615.89 L315.41 615.38 L315.61 614.86 L315.82 614.34 L316.05 613.82 L316.29 613.3 L316.54 612.78 L316.8 612.27 L317.07 611.75 L317.35 611.23 L317.64 610.71 L317.95 610.19 L318.28 609.67 L318.62 609.16 L318.98 608.64 L319.35 608.12 L319.74 607.6 L320.15 607.08 L320.59 606.56 L321.06 606.05 L321.54 605.53 L322.03 605.01 L322.54 604.49 L323.06 603.97 L323.6 603.45 L324.17 602.94 L324.75 602.42 L325.34 601.9 L325.93 601.38 L326.53 600.86 L327.14 600.34 L327.77 599.83 L328.4 599.31 L329.03 598.79 L329.65 598.27 L330.27 597.75 L330.89 597.23 L331.51 596.72 L332.13 596.2 L332.76 595.68 L333.42 595.16 L334.1 594.64 L334.77 594.12 L335.37 593.61 L335.93 593.09 L336.47 592.57 L336.96 592.05 L337.34 591.53 L337.59 591.02 L337.81 590.5 L337.98 589.98 L338.09 589.46 L338.11 588.94 L338.11 588.42 L338.1 587.91 L338.08 587.39 L338.06 586.87 L338.03 586.35 L338 585.83 L337.95 585.31 L337.85 584.8 L337.72 584.28 L337.58 583.76 L337.43 583.24 L337.28 582.72 L337.12 582.2 L336.95 581.69 L336.76 581.17 L336.58 580.65 L336.43 580.13 L336.31 579.61 L336.2 579.09 L336.09 578.58 L336 578.06 L335.95 577.54 L335.93 577.02 L335.95 576.5 L335.98 575.98 L336.03 575.47 L336.09 574.95 L336.15 574.43 L336.25 573.91 L336.39 573.39 L336.57 572.87 L336.77 572.36 L336.97 571.84 L337.18 571.32 L337.41 570.8 L337.66 570.28 L337.91 569.76 L338.17 569.25 L338.42 568.73 L338.65 568.21 L338.88 567.69 L339.12 567.17 L339.35 566.65 L339.56 566.14 L339.74 565.62 L339.87 565.1 L339.98 564.58 L340.08 564.06 L340.17 563.55 L340.25 563.03 L340.32 562.51 L340.39 561.99 L340.45 561.47 L340.5 560.95 L340.54 560.44 L340.59 559.92 L340.63 559.4 L340.67 558.88 L340.71 558.36 L340.75 557.84 L340.79 557.33 L340.82 556.81 L340.85 556.29 L340.88 555.77 L340.9 555.25 L340.92 554.73 L340.93 554.22 L340.94 553.7 L340.95 553.18Z"/>
<line class="w" x1="340.95" y1="582.6" x2="340.95" y2="641.97"/>
<rect class="b" x="333.54" y="612.56" width="15.04" height="20.7"/>
<line class="m" x1="333.54" y1="623.23" x2="348.57" y2="623.23"/>
<circle class="o" cx="340.95" cy="569.74" r="0.95"/>
<circle class="o" cx="340.95" cy="577.15" r="0.95"/>
<circle class="o" cx="340.95" cy="579.54" r="0.95"/>
<path class="v" fill="#ED2024" d="M414.16 559.17 L414.17 559.69 L414.17 560.2 L414.18 560.72 L414.2 561.24 L414.22 561.75 L414.24 562.27 L414.26 562.79 L414.29 563.3 L414.32 563.82 L414.36 564.34 L414.39 564.85 L414.43 565.37 L414.47 565.89 L414.52 566.4 L414.56 566.92 L414.61 567.44 L414.67 567.95 L414.75 568.47 L414.85 568.99 L414.95 569.5 L415.07 570.02 L415.19 570.53 L415.32 571.05 L415.44 571.57 L415.56 572.08 L415.69 572.6 L415.83 573.12 L415.97 573.63 L416.12 574.15 L416.26 574.67 L416.4 575.18 L416.55 575.7 L416.69 576.22 L416.84 576.73 L416.98 577.25 L417.11 577.77 L417.22 578.28 L417.33 578.8 L417.42 579.32 L417.51 579.83 L417.6 580.35 L417.67 580.87 L417.74 581.38 L417.81 581.9 L417.87 582.41 L417.92 582.93 L417.97 583.45 L418.02 583.96 L418.06 584.48 L418.1 585 L418.14 585.51 L418.17 586.03 L418.2 586.55 L418.23 587.06 L418.27 587.58 L418.31 588.1 L418.36 588.61 L418.41 589.13 L418.47 589.65 L418.53 590.16 L418.62 590.68 L418.71 591.2 L418.85 591.71 L419.05 592.23 L419.31 592.75 L419.62 593.26 L419.97 593.78 L420.38 594.29 L420.94 594.81 L421.63 595.33 L422.36 595.84 L423.08 596.36 L423.83 596.88 L424.62 597.39 L425.41 597.91 L426.2 598.43 L426.99 598.94 L427.78 599.46 L428.57 599.98 L429.31 600.49 L430 601.01 L430.68 601.53 L431.32 602.04 L431.92 602.56 L432.5 603.08 L433.04 603.59 L433.56 604.11 L434.05 604.63 L434.5 605.14 L434.93 605.66 L435.33 606.17 L435.69 606.69 L436.01 607.21 L436.31 607.72 L436.58 608.24 L436.84 608.76 L437.06 609.27 L437.25 609.79 L437.4 610.31 L437.53 610.82 L437.64 611.34 L437.75 611.86 L437.87 612.37 L438 612.89 L438.12 613.41 L438.24 613.92 L438.38 614.44 L438.55 614.96 L438.76 615.47 L439.07 615.99 L439.47 616.51 L439.92 617.02 L440.41 617.54 L440.91 618.05 L441.45 618.57 L442.06 619.09 L442.71 619.6 L443.37 620.12 L444.02 620.64 L444.65 621.15 L445.31 621.67 L445.96 622.19 L446.59 622.7 L447.16 623.22 L447.66 623.74 L448.13 624.25 L448.57 624.77 L448.97 625.29 L449.33 625.8 L449.66 626.32 L450.01 626.84 L450.33 627.35 L450.57 627.87 L450.66 628.39 L450.64 628.9 L450.57 629.42 L450.48 629.93 L450.36 630.45 L450.15 630.97 L449.76 631.48 L449.26 632 L448.7 632.52 L448.1 633.03 L447.37 633.55 L446.55 634.07 L445.65 634.58 L444.73 635.1 L443.8 635.62 L442.82 636.13 L441.8 636.65 L440.74 637.17 L439.67 637.68 L438.6 638.2 L437.52 638.72 L436.42 639.23 L435.32 639.75 L434.21 640.27 L433.12 640.78 L432.03 641.3 L430.94 641.81 L429.85 642.33 L428.78 642.85 L427.73 643.36 L426.69 643.88 L425.66 644.4 L424.64 644.91 L423.65 645.43 L422.69 645.95 L421.78 646.46 L420.88 646.98 L420.02 647.5 L419.22 648.01 L418.5 648.53 L417.84 649.05 L417.22 649.56 L416.67 650.08 L416.2 650.6 L415.8 651.11 L415.42 651.63 L415.1 652.15 L414.87 652.66 L414.75 653.18 L414.66 653.69 L414.57 654.21 L414.48 654.73 L414.41 655.24 L414.35 655.76 L414.29 656.28 L414.25 656.79 L414.21 657.31 L414.18 657.83 L414.17 658.34 L414.16 658.86 L414.16 658.86 L414.16 658.34 L414.14 657.83 L414.12 657.31 L414.08 656.79 L414.03 656.28 L413.98 655.76 L413.92 655.24 L413.84 654.73 L413.76 654.21 L413.67 653.69 L413.57 653.18 L413.46 652.66 L413.23 652.15 L412.91 651.63 L412.53 651.11 L412.13 650.6 L411.66 650.08 L411.11 649.56 L410.49 649.05 L409.83 648.53 L409.11 648.01 L408.31 647.5 L407.44 646.98 L406.55 646.46 L405.64 645.95 L404.68 645.43 L403.68 644.91 L402.67 644.4 L401.64 643.88 L400.6 643.36 L399.55 642.85 L398.47 642.33 L397.39 641.81 L396.3 641.3 L395.21 640.78 L394.11 640.27 L393.01 639.75 L391.9 639.23 L390.81 638.72 L389.73 638.2 L388.66 637.68 L387.59 637.17 L386.53 636.65 L385.5 636.13 L384.53 635.62 L383.6 635.1 L382.67 634.58 L381.78 634.07 L380.95 633.55 L380.23 633.03 L379.63 632.52 L379.07 632 L378.56 631.48 L378.18 630.97 L377.97 630.45 L377.85 629.93 L377.76 629.42 L377.69 628.9 L377.67 628.39 L377.75 627.87 L377.99 627.35 L378.32 626.84 L378.66 626.32 L378.99 625.8 L379.36 625.29 L379.76 624.77 L380.2 624.25 L380.66 623.74 L381.17 623.22 L381.74 622.7 L382.36 622.19 L383.02 621.67 L383.68 621.15 L384.31 620.64 L384.96 620.12 L385.62 619.6 L386.26 619.09 L386.88 618.57 L387.42 618.05 L387.92 617.54 L388.41 617.02 L388.86 616.51 L389.25 615.99 L389.56 615.47 L389.78 614.96 L389.94 614.44 L390.08 613.92 L390.21 613.41 L390.33 612.89 L390.46 612.37 L390.58 611.86 L390.69 611.34 L390.8 610.82 L390.93 610.31 L391.08 609.79 L391.27 609.27 L391.49 608.76 L391.74 608.24 L392.02 607.72 L392.32 607.21 L392.64 606.69 L393 606.17 L393.4 605.66 L393.83 605.14 L394.28 604.63 L394.76 604.11 L395.28 603.59 L395.83 603.08 L396.4 602.56 L397.01 602.04 L397.65 601.53 L398.32 601.01 L399.02 600.49 L399.76 599.98 L400.54 599.46 L401.34 598.94 L402.13 598.43 L402.91 597.91 L403.71 597.39 L404.5 596.88 L405.24 596.36 L405.96 595.84 L406.7 595.33 L407.38 594.81 L407.95 594.29 L408.36 593.78 L408.71 593.26 L409.02 592.75 L409.28 592.23 L409.48 591.71 L409.61 591.2 L409.71 590.68 L409.79 590.16 L409.86 589.65 L409.92 589.13 L409.97 588.61 L410.02 588.1 L410.06 587.58 L410.1 587.06 L410.13 586.55 L410.16 586.03 L410.19 585.51 L410.22 585 L410.27 584.48 L410.31 583.96 L410.36 583.45 L410.41 582.93 L410.46 582.41 L410.52 581.9 L410.58 581.38 L410.65 580.87 L410.73 580.35 L410.81 579.83 L410.9 579.32 L411 578.8 L411.1 578.28 L411.22 577.77 L411.35 577.25 L411.49 576.73 L411.63 576.22 L411.78 575.7 L411.93 575.18 L412.07 574.67 L412.21 574.15 L412.35 573.63 L412.49 573.12 L412.63 572.6 L412.76 572.08 L412.89 571.57 L413.01 571.05 L413.13 570.53 L413.26 570.02 L413.37 569.5 L413.48 568.99 L413.58 568.47 L413.66 567.95 L413.72 567.44 L413.77 566.92 L413.81 566.4 L413.85 565.89 L413.89 565.37 L413.93 564.85 L413.97 564.34 L414 563.82 L414.03 563.3 L414.06 562.79 L414.09 562.27 L414.11 561.75 L414.13 561.24 L414.14 560.72 L414.15 560.2 L414.16 559.69 L414.16 559.17Z"/>
<line class="w" x1="414.16" y1="585.86" x2="414.16" y2="641.97"/>
<rect class="b" x="406.65" y="613.1" width="14.93" height="19.61"/>
<line class="m" x1="406.65" y1="624.76" x2="421.57" y2="624.76"/>
<circle class="o" cx="414.16" cy="575.51" r="0.95"/>
</g>
<path class="br" d="M340.95 567.65 V566.25 H414.16 V567.65"/>
<text class="sg" x="377.55" y="565.12" text-anchor="middle">ns</text>
<path class="ax" d="M297.09 548.21 V664.16 H451.44"/>
<line class="tk" x1="295.99" y1="575.44" x2="297.09" y2="575.44"/>
<text class="tl" x="294.89" y="577.04" text-anchor="end">800</text>
<line class="tk" x1="295.99" y1="609.17" x2="297.09" y2="609.17"/>
<text class="tl" x="294.89" y="610.77" text-anchor="end">400</text>
<line class="tk" x1="295.99" y1="643.15" x2="297.09" y2="643.15"/>
<text class="tl" x="294.89" y="644.75" text-anchor="end">0</text>
<line class="tk" x1="340.95" y1="664.16" x2="340.95" y2="665.26"/>
<text class="tl" x="340.95" y="670.43" text-anchor="middle">Low−risk</text>
<line class="tk" x1="414.16" y1="664.16" x2="414.16" y2="665.26"/>
<text class="tl" x="414.16" y="670.43" text-anchor="middle">High−risk</text>
<text class="tl" transform="translate(284.05 606.05) rotate(-90)" text-anchor="middle">IFNG</text>
</g>
<g id="panel-L">
<text class="lt" transform="translate(499.57 527.86) scale(0.85 1)" text-anchor="middle">L</text>
<text class="tt" x="507.83" y="541.3">entire</text>
<clipPath id="cL"><rect x="504.5" y="547.8" width="157.46" height="119.21"/></clipPath>
<g clip-path="url(#cL)">
<path class="v" fill="#416AB5" d="M547.43 574.01 L547.45 574.52 L547.47 575.04 L547.5 575.56 L547.53 576.07 L547.56 576.59 L547.6 577.1 L547.65 577.62 L547.69 578.13 L547.74 578.65 L547.79 579.17 L547.84 579.68 L547.9 580.2 L547.96 580.71 L548.03 581.23 L548.11 581.74 L548.19 582.26 L548.28 582.78 L548.37 583.29 L548.46 583.81 L548.55 584.32 L548.65 584.84 L548.76 585.35 L548.87 585.87 L548.98 586.39 L549.08 586.9 L549.17 587.42 L549.28 587.93 L549.38 588.45 L549.47 588.97 L549.55 589.48 L549.6 590 L549.63 590.51 L549.66 591.03 L549.69 591.54 L549.7 592.06 L549.71 592.58 L549.69 593.09 L549.63 593.61 L549.53 594.12 L549.42 594.64 L549.32 595.15 L549.21 595.67 L549.08 596.19 L548.95 596.7 L548.84 597.22 L548.78 597.73 L548.78 598.25 L548.79 598.76 L548.81 599.28 L548.84 599.8 L548.87 600.31 L548.94 600.83 L549.11 601.34 L549.35 601.86 L549.62 602.38 L549.92 602.89 L550.31 603.41 L550.75 603.92 L551.21 604.44 L551.68 604.95 L552.17 605.47 L552.69 605.99 L553.22 606.5 L553.76 607.02 L554.29 607.53 L554.8 608.05 L555.32 608.56 L555.84 609.08 L556.35 609.6 L556.87 610.11 L557.38 610.63 L557.9 611.14 L558.41 611.66 L558.92 612.17 L559.43 612.69 L559.95 613.21 L560.47 613.72 L561 614.24 L561.55 614.75 L562.11 615.27 L562.67 615.79 L563.22 616.3 L563.77 616.82 L564.3 617.33 L564.82 617.85 L565.34 618.36 L565.85 618.88 L566.36 619.4 L566.87 619.91 L567.39 620.43 L567.91 620.94 L568.42 621.46 L568.94 621.97 L569.45 622.49 L569.97 623.01 L570.48 623.52 L571 624.04 L571.53 624.55 L572.05 625.07 L572.56 625.59 L573.07 626.1 L573.57 626.62 L574.07 627.13 L574.56 627.65 L575.05 628.16 L575.53 628.68 L575.99 629.2 L576.44 629.71 L576.88 630.23 L577.3 630.74 L577.72 631.26 L578.12 631.77 L578.51 632.29 L578.89 632.81 L579.26 633.32 L579.63 633.84 L579.98 634.35 L580.32 634.87 L580.63 635.38 L580.93 635.9 L581.22 636.42 L581.5 636.93 L581.75 637.45 L581.96 637.96 L582.12 638.48 L582.27 639 L582.39 639.51 L582.48 640.03 L582.5 640.54 L582.39 641.06 L582.19 641.57 L581.91 642.09 L581.59 642.61 L581.12 643.12 L580.48 643.64 L579.72 644.15 L578.91 644.67 L577.95 645.18 L576.83 645.7 L575.62 646.22 L574.4 646.73 L573.11 647.25 L571.75 647.76 L570.37 648.28 L569.01 648.79 L567.67 649.31 L566.32 649.83 L564.98 650.34 L563.65 650.86 L562.34 651.37 L561.04 651.89 L559.76 652.41 L558.5 652.92 L557.26 653.44 L556.02 653.95 L554.85 654.47 L553.78 654.98 L552.79 655.5 L551.86 656.02 L551.02 656.53 L550.3 657.05 L549.64 657.56 L549.06 658.08 L548.66 658.59 L548.38 659.11 L548.13 659.63 L547.9 660.14 L547.7 660.66 L547.56 661.17 L547.46 661.69 L547.43 662.2 L547.43 662.2 L547.4 661.69 L547.3 661.17 L547.15 660.66 L546.96 660.14 L546.73 659.63 L546.48 659.11 L546.2 658.59 L545.8 658.08 L545.22 657.56 L544.56 657.05 L543.84 656.53 L542.99 656.02 L542.07 655.5 L541.08 654.98 L540.01 654.47 L538.84 653.95 L537.6 653.44 L536.35 652.92 L535.1 652.41 L533.82 651.89 L532.52 651.37 L531.21 650.86 L529.88 650.34 L528.54 649.83 L527.19 649.31 L525.84 648.79 L524.49 648.28 L523.1 647.76 L521.75 647.25 L520.46 646.73 L519.24 646.22 L518.03 645.7 L516.91 645.18 L515.95 644.67 L515.14 644.15 L514.38 643.64 L513.74 643.12 L513.26 642.61 L512.95 642.09 L512.67 641.57 L512.46 641.06 L512.36 640.54 L512.38 640.03 L512.46 639.51 L512.59 639 L512.73 638.48 L512.89 637.96 L513.11 637.45 L513.36 636.93 L513.64 636.42 L513.93 635.9 L514.23 635.38 L514.54 634.87 L514.88 634.35 L515.23 633.84 L515.6 633.32 L515.97 632.81 L516.35 632.29 L516.74 631.77 L517.14 631.26 L517.56 630.74 L517.98 630.23 L518.42 629.71 L518.87 629.2 L519.33 628.68 L519.81 628.16 L520.3 627.65 L520.79 627.13 L521.29 626.62 L521.79 626.1 L522.3 625.59 L522.81 625.07 L523.33 624.55 L523.85 624.04 L524.37 623.52 L524.89 623.01 L525.41 622.49 L525.92 621.97 L526.44 621.46 L526.95 620.94 L527.47 620.43 L527.98 619.91 L528.5 619.4 L529.01 618.88 L529.52 618.36 L530.03 617.85 L530.56 617.33 L531.09 616.82 L531.64 616.3 L532.19 615.79 L532.75 615.27 L533.31 614.75 L533.85 614.24 L534.39 613.72 L534.91 613.21 L535.43 612.69 L535.94 612.17 L536.45 611.66 L536.96 611.14 L537.48 610.63 L537.99 610.11 L538.51 609.6 L539.02 609.08 L539.54 608.56 L540.05 608.05 L540.57 607.53 L541.1 607.02 L541.64 606.5 L542.17 605.99 L542.69 605.47 L543.18 604.95 L543.65 604.44 L544.11 603.92 L544.55 603.41 L544.94 602.89 L545.24 602.38 L545.51 601.86 L545.75 601.34 L545.92 600.83 L545.99 600.31 L546.02 599.8 L546.05 599.28 L546.07 598.76 L546.08 598.25 L546.08 597.73 L546.02 597.22 L545.91 596.7 L545.78 596.19 L545.64 595.67 L545.54 595.15 L545.43 594.64 L545.32 594.12 L545.23 593.61 L545.16 593.09 L545.15 592.58 L545.15 592.06 L545.17 591.54 L545.2 591.03 L545.22 590.51 L545.26 590 L545.31 589.48 L545.39 588.97 L545.48 588.45 L545.58 587.93 L545.69 587.42 L545.78 586.9 L545.88 586.39 L545.99 585.87 L546.1 585.35 L546.21 584.84 L546.31 584.32 L546.4 583.81 L546.49 583.29 L546.58 582.78 L546.67 582.26 L546.75 581.74 L546.83 581.23 L546.9 580.71 L546.96 580.2 L547.02 579.68 L547.07 579.17 L547.12 578.65 L547.17 578.13 L547.21 577.62 L547.25 577.1 L547.29 576.59 L547.33 576.07 L547.36 575.56 L547.39 575.04 L547.41 574.52 L547.43 574.01Z"/>
<line class="w" x1="547.43" y1="601.5" x2="547.43" y2="650.27"/>
<rect class="b" x="540.68" y="625.68" width="14.01" height="17.12"/>
<line class="m" x1="540.68" y1="635.43" x2="554.69" y2="635.43"/>
<circle class="o" cx="547.43" cy="584.9" r="0.95"/>
<circle class="o" cx="547.43" cy="587.19" r="0.95"/>
<circle class="o" cx="547.43" cy="592.17" r="0.95"/>
<circle class="o" cx="547.43" cy="594.76" r="0.95"/>
<path class="v" fill="#ED2024" d="M619.95 555.27 L619.95 555.79 L619.97 556.3 L619.98 556.82 L620 557.34 L620.02 557.86 L620.04 558.38 L620.06 558.89 L620.08 559.41 L620.11 559.93 L620.14 560.45 L620.16 560.97 L620.19 561.49 L620.22 562 L620.25 562.52 L620.28 563.04 L620.33 563.56 L620.38 564.08 L620.43 564.59 L620.47 565.11 L620.49 565.63 L620.47 566.15 L620.42 566.67 L620.36 567.18 L620.3 567.7 L620.27 568.22 L620.27 568.74 L620.27 569.26 L620.27 569.77 L620.27 570.29 L620.27 570.81 L620.27 571.33 L620.27 571.85 L620.27 572.36 L620.27 572.88 L620.27 573.4 L620.27 573.92 L620.27 574.44 L620.27 574.95 L620.27 575.47 L620.27 575.99 L620.27 576.51 L620.27 577.03 L620.27 577.54 L620.27 578.06 L620.27 578.58 L620.27 579.1 L620.27 579.62 L620.27 580.13 L620.27 580.65 L620.27 581.17 L620.27 581.69 L620.27 582.21 L620.27 582.72 L620.27 583.24 L620.27 583.76 L620.27 584.28 L620.27 584.8 L620.29 585.32 L620.32 585.83 L620.38 586.35 L620.44 586.87 L620.52 587.39 L620.61 587.91 L620.7 588.42 L620.8 588.94 L620.91 589.46 L621.06 589.98 L621.24 590.5 L621.43 591.01 L621.61 591.53 L621.78 592.05 L621.97 592.57 L622.16 593.09 L622.34 593.6 L622.48 594.12 L622.59 594.64 L622.68 595.16 L622.76 595.68 L622.83 596.19 L622.87 596.71 L622.89 597.23 L622.87 597.75 L622.81 598.27 L622.74 598.78 L622.66 599.3 L622.58 599.82 L622.49 600.34 L622.39 600.86 L622.28 601.37 L622.19 601.89 L622.13 602.41 L622.13 602.93 L622.15 603.45 L622.18 603.96 L622.23 604.48 L622.29 605 L622.36 605.52 L622.47 606.04 L622.63 606.55 L622.81 607.07 L623.01 607.59 L623.21 608.11 L623.45 608.63 L623.72 609.15 L624.03 609.66 L624.41 610.18 L624.89 610.7 L625.43 611.22 L626.04 611.74 L626.71 612.25 L627.51 612.77 L628.38 613.29 L629.27 613.81 L630.11 614.33 L630.95 614.84 L631.78 615.36 L632.61 615.88 L633.42 616.4 L634.22 616.92 L635.01 617.43 L635.79 617.95 L636.57 618.47 L637.35 618.99 L638.15 619.51 L638.94 620.02 L639.74 620.54 L640.53 621.06 L641.3 621.58 L642.05 622.1 L642.79 622.61 L643.52 623.13 L644.24 623.65 L644.96 624.17 L645.67 624.69 L646.38 625.2 L647.09 625.72 L647.81 626.24 L648.52 626.76 L649.21 627.28 L649.88 627.79 L650.51 628.31 L651.12 628.83 L651.73 629.35 L652.32 629.87 L652.88 630.38 L653.39 630.9 L653.85 631.42 L654.26 631.94 L654.65 632.46 L655.01 632.98 L655.33 633.49 L655.59 634.01 L655.78 634.53 L655.96 635.05 L656.11 635.57 L656.2 636.08 L656.22 636.6 L656.19 637.12 L656.11 637.64 L656.01 638.16 L655.88 638.67 L655.66 639.19 L655.3 639.71 L654.84 640.23 L654.31 640.75 L653.67 641.26 L652.81 641.78 L651.82 642.3 L650.77 642.82 L649.68 643.34 L648.48 643.85 L647.21 644.37 L645.89 644.89 L644.56 645.41 L643.18 645.93 L641.76 646.44 L640.34 646.96 L638.94 647.48 L637.54 648 L636.14 648.52 L634.78 649.03 L633.46 649.55 L632.18 650.07 L630.92 650.59 L629.72 651.11 L628.58 651.62 L627.5 652.14 L626.45 652.66 L625.47 653.18 L624.58 653.7 L623.77 654.21 L623.04 654.73 L622.39 655.25 L621.86 655.77 L621.37 656.29 L620.98 656.81 L620.75 657.32 L620.56 657.84 L620.39 658.36 L620.24 658.88 L620.12 659.4 L620.02 659.91 L619.97 660.43 L619.95 660.95 L619.95 660.95 L619.92 660.43 L619.87 659.91 L619.77 659.4 L619.65 658.88 L619.5 658.36 L619.33 657.84 L619.14 657.32 L618.91 656.81 L618.52 656.29 L618.03 655.77 L617.5 655.25 L616.86 654.73 L616.12 654.21 L615.32 653.7 L614.42 653.18 L613.44 652.66 L612.39 652.14 L611.31 651.62 L610.17 651.11 L608.97 650.59 L607.71 650.07 L606.43 649.55 L605.12 649.03 L603.75 648.52 L602.35 648 L600.95 647.48 L599.56 646.96 L598.13 646.44 L596.71 645.93 L595.33 645.41 L594 644.89 L592.69 644.37 L591.41 643.85 L590.21 643.34 L589.12 642.82 L588.07 642.3 L587.08 641.78 L586.22 641.26 L585.58 640.75 L585.05 640.23 L584.6 639.71 L584.24 639.19 L584.01 638.67 L583.88 638.16 L583.78 637.64 L583.7 637.12 L583.67 636.6 L583.69 636.08 L583.78 635.57 L583.93 635.05 L584.11 634.53 L584.31 634.01 L584.56 633.49 L584.88 632.98 L585.24 632.46 L585.63 631.94 L586.04 631.42 L586.5 630.9 L587.02 630.38 L587.57 629.87 L588.16 629.35 L588.77 628.83 L589.38 628.31 L590.01 627.79 L590.68 627.28 L591.37 626.76 L592.08 626.24 L592.8 625.72 L593.51 625.2 L594.22 624.69 L594.93 624.17 L595.65 623.65 L596.37 623.13 L597.1 622.61 L597.84 622.1 L598.59 621.58 L599.37 621.06 L600.15 620.54 L600.95 620.02 L601.75 619.51 L602.54 618.99 L603.32 618.47 L604.1 617.95 L604.88 617.43 L605.67 616.92 L606.47 616.4 L607.28 615.88 L608.11 615.36 L608.95 614.84 L609.78 614.33 L610.62 613.81 L611.51 613.29 L612.38 612.77 L613.18 612.25 L613.85 611.74 L614.46 611.22 L615 610.7 L615.48 610.18 L615.86 609.66 L616.17 609.15 L616.44 608.63 L616.68 608.11 L616.88 607.59 L617.08 607.07 L617.26 606.55 L617.42 606.04 L617.53 605.52 L617.6 605 L617.66 604.48 L617.71 603.96 L617.74 603.45 L617.76 602.93 L617.76 602.41 L617.7 601.89 L617.61 601.37 L617.5 600.86 L617.4 600.34 L617.31 599.82 L617.23 599.3 L617.15 598.78 L617.08 598.27 L617.03 597.75 L617 597.23 L617.02 596.71 L617.07 596.19 L617.13 595.68 L617.22 595.16 L617.3 594.64 L617.41 594.12 L617.56 593.6 L617.73 593.09 L617.92 592.57 L618.11 592.05 L618.28 591.53 L618.46 591.01 L618.65 590.5 L618.83 589.98 L618.98 589.46 L619.09 588.94 L619.19 588.42 L619.28 587.91 L619.37 587.39 L619.45 586.87 L619.51 586.35 L619.57 585.83 L619.6 585.32 L619.62 584.8 L619.62 584.28 L619.62 583.76 L619.62 583.24 L619.62 582.72 L619.62 582.21 L619.62 581.69 L619.62 581.17 L619.62 580.65 L619.62 580.13 L619.62 579.62 L619.62 579.1 L619.62 578.58 L619.62 578.06 L619.62 577.54 L619.62 577.03 L619.62 576.51 L619.62 575.99 L619.62 575.47 L619.62 574.95 L619.62 574.44 L619.62 573.92 L619.62 573.4 L619.62 572.88 L619.62 572.36 L619.62 571.85 L619.62 571.33 L619.62 570.81 L619.62 570.29 L619.62 569.77 L619.62 569.26 L619.62 568.74 L619.62 568.22 L619.59 567.7 L619.53 567.18 L619.47 566.67 L619.42 566.15 L619.4 565.63 L619.42 565.11 L619.46 564.59 L619.51 564.08 L619.56 563.56 L619.61 563.04 L619.64 562.52 L619.67 562 L619.7 561.49 L619.73 560.97 L619.76 560.45 L619.78 559.93 L619.81 559.41 L619.83 558.89 L619.85 558.38 L619.87 557.86 L619.89 557.34 L619.91 556.82 L619.92 556.3 L619.94 555.79 L619.95 555.27Z"/>
<line class="w" x1="619.95" y1="606.47" x2="619.95" y2="650.05"/>
<rect class="b" x="612.54" y="626.3" width="14.82" height="15.25"/>
<line class="m" x1="612.54" y1="634.58" x2="627.35" y2="634.58"/>
<circle class="o" cx="619.95" cy="565.29" r="0.95"/>
<circle class="o" cx="619.95" cy="596.12" r="0.95"/>
<circle class="o" cx="619.95" cy="598.85" r="0.95"/>
<circle class="o" cx="619.95" cy="602.12" r="0.95"/>
</g>
<path class="br" d="M547.43 562.65 V561.25 H619.95 V562.65"/>
<text class="sg" x="583.69" y="560.11" text-anchor="middle">ns</text>
<path class="ax" d="M504.5 550.8 V667.01 H661.96"/>
<line class="tk" x1="503.4" y1="574.67" x2="504.5" y2="574.67"/>
<text class="tl" x="502.3" y="576.27" text-anchor="end">1000</text>
<line class="tk" x1="503.4" y1="613.06" x2="504.5" y2="613.06"/>
<text class="tl" x="502.3" y="614.66" text-anchor="end">500</text>
<line class="tk" x1="503.4" y1="651.19" x2="504.5" y2="651.19"/>
<text class="tl" x="502.3" y="652.79" text-anchor="end">0</text>
<line class="tk" x1="547.43" y1="667.01" x2="547.43" y2="668.11"/>
<text class="tl" x="547.43" y="673.02" text-anchor="middle">Low−risk</text>
<line class="tk" x1="619.95" y1="667.01" x2="619.95" y2="668.11"/>
<text class="tl" x="619.95" y="673.02" text-anchor="middle">High−risk</text>
<text class="tl" transform="translate(489.38 609.17) rotate(-90)" text-anchor="middle">IFNG</text>
</g>
<g id="panel-M">
<text class="lt" transform="translate(69.07 702.64) scale(1.1 1)" text-anchor="middle">M</text>
<text class="tt" x="67.86" y="713.49">train</text>
<clipPath id="cM"><rect x="79.31" y="721.29" width="153.05" height="115.06"/></clipPath>
<g clip-path="url(#cM)">
<path class="v" fill="#416AB5" d="M122.43 779.88 L122.7 780.4 L122.91 780.91 L123.07 781.43 L123.18 781.94 L123.24 782.46 L123.26 782.97 L123.18 783.49 L123.04 784.01 L122.95 784.52 L122.95 785.04 L122.95 785.55 L122.95 786.07 L122.95 786.58 L122.95 787.1 L122.95 787.61 L122.95 788.13 L123 788.65 L123.14 789.16 L123.28 789.68 L123.36 790.19 L123.31 790.71 L123.18 791.22 L123.03 791.74 L122.95 792.26 L122.98 792.77 L123.09 793.29 L123.2 793.8 L123.26 794.32 L123.26 794.83 L123.26 795.35 L123.26 795.86 L123.26 796.38 L123.25 796.9 L123.22 797.41 L123.17 797.93 L123.12 798.44 L123.07 798.96 L123.05 799.47 L123.06 799.99 L123.11 800.5 L123.19 801.02 L123.29 801.54 L123.43 802.05 L123.7 802.57 L124.28 803.08 L124.89 803.6 L125.37 804.11 L125.85 804.63 L126.14 805.14 L126.16 805.66 L126.16 806.18 L126.16 806.69 L126.09 807.21 L125.78 807.72 L125.43 808.24 L125.16 808.75 L124.9 809.27 L124.73 809.79 L124.74 810.3 L124.87 810.82 L125.06 811.33 L125.29 811.85 L125.65 812.36 L125.93 812.88 L125.96 813.39 L125.96 813.91 L125.96 814.43 L126 814.94 L126.21 815.46 L126.57 815.97 L127.46 816.49 L128.98 817 L130.61 817.52 L132.55 818.03 L134.66 818.55 L136.94 819.07 L139.38 819.58 L141.91 820.1 L144.53 820.61 L147.05 821.13 L149.47 821.64 L151.76 822.16 L154.03 822.68 L155.98 823.19 L157.38 823.71 L158.21 824.22 L157.87 824.74 L156.85 825.25 L154.76 825.77 L151.09 826.28 L145.89 826.8 L139.73 827.32 L133.7 827.83 L128.94 828.35 L125.51 828.86 L123.48 829.38 L122.43 829.89 L122.43 829.89 L121.38 829.38 L119.34 828.86 L115.92 828.35 L111.16 827.83 L105.13 827.32 L98.97 826.8 L93.77 826.28 L90.1 825.77 L88.01 825.25 L86.99 824.74 L86.65 824.22 L87.48 823.71 L88.88 823.19 L90.83 822.68 L93.1 822.16 L95.39 821.64 L97.81 821.13 L100.33 820.61 L102.95 820.1 L105.48 819.58 L107.91 819.07 L110.2 818.55 L112.31 818.03 L114.24 817.52 L115.88 817 L117.4 816.49 L118.29 815.97 L118.65 815.46 L118.86 814.94 L118.9 814.43 L118.9 813.91 L118.9 813.39 L118.93 812.88 L119.21 812.36 L119.57 811.85 L119.8 811.33 L119.99 810.82 L120.12 810.3 L120.13 809.79 L119.96 809.27 L119.69 808.75 L119.43 808.24 L119.08 807.72 L118.77 807.21 L118.69 806.69 L118.69 806.18 L118.69 805.66 L118.71 805.14 L119.01 804.63 L119.49 804.11 L119.97 803.6 L120.58 803.08 L121.16 802.57 L121.43 802.05 L121.56 801.54 L121.67 801.02 L121.75 800.5 L121.8 799.99 L121.81 799.47 L121.78 798.96 L121.74 798.44 L121.69 797.93 L121.64 797.41 L121.61 796.9 L121.6 796.38 L121.6 795.86 L121.6 795.35 L121.6 794.83 L121.6 794.32 L121.66 793.8 L121.77 793.29 L121.87 792.77 L121.91 792.26 L121.83 791.74 L121.68 791.22 L121.55 790.71 L121.5 790.19 L121.57 789.68 L121.72 789.16 L121.86 788.65 L121.91 788.13 L121.91 787.61 L121.91 787.1 L121.91 786.58 L121.91 786.07 L121.91 785.55 L121.91 785.04 L121.91 784.52 L121.82 784.01 L121.67 783.49 L121.6 782.97 L121.62 782.46 L121.68 781.94 L121.79 781.43 L121.95 780.91 L122.16 780.4 L122.43 779.88Z"/>
<line class="w" x1="122.43" y1="802.71" x2="122.43" y2="826.05"/>
<rect class="b" x="115.89" y="820.66" width="13.59" height="4.36"/>
<line class="m" x1="115.89" y1="823.25" x2="129.49" y2="823.25"/>
<circle class="o" cx="122.43" cy="782.99" r="0.95"/>
<circle class="o" cx="122.43" cy="790.26" r="0.95"/>
<circle class="o" cx="122.43" cy="795.44" r="0.95"/>
<circle class="o" cx="122.43" cy="800.63" r="0.95"/>
<circle class="o" cx="122.43" cy="804.78" r="0.95"/>
<circle class="o" cx="122.43" cy="806.86" r="0.95"/>
<circle class="o" cx="122.43" cy="808.93" r="0.95"/>
<circle class="o" cx="122.43" cy="811.01" r="0.95"/>
<path class="v" fill="#ED2024" d="M194.53 728.72 L194.69 729.24 L194.83 729.76 L194.94 730.27 L195.03 730.79 L195.09 731.31 L195.14 731.82 L195.17 732.34 L195.18 732.85 L195.17 733.37 L195.09 733.89 L194.97 734.4 L194.86 734.92 L194.77 735.44 L194.75 735.95 L194.75 736.47 L194.75 736.98 L194.75 737.5 L194.75 738.02 L194.75 738.53 L194.75 739.05 L194.75 739.57 L194.75 740.08 L194.75 740.6 L194.75 741.11 L194.75 741.63 L194.75 742.15 L194.75 742.66 L194.75 743.18 L194.75 743.7 L194.75 744.21 L194.75 744.73 L194.75 745.24 L194.75 745.76 L194.75 746.28 L194.75 746.79 L194.75 747.31 L194.75 747.83 L194.75 748.34 L194.75 748.86 L194.75 749.37 L194.75 749.89 L194.75 750.41 L194.75 750.92 L194.75 751.44 L194.75 751.96 L194.75 752.47 L194.75 752.99 L194.75 753.51 L194.75 754.02 L194.75 754.54 L194.75 755.05 L194.75 755.57 L194.75 756.09 L194.75 756.6 L194.75 757.12 L194.75 757.64 L194.75 758.15 L194.75 758.67 L194.75 759.18 L194.75 759.7 L194.75 760.22 L194.75 760.73 L194.75 761.25 L194.75 761.77 L194.75 762.28 L194.75 762.8 L194.75 763.31 L194.75 763.83 L194.75 764.35 L194.75 764.86 L194.75 765.38 L194.75 765.9 L194.75 766.41 L194.75 766.93 L194.75 767.44 L194.75 767.96 L194.75 768.48 L194.75 768.99 L194.75 769.51 L194.75 770.03 L194.75 770.54 L194.75 771.06 L194.75 771.57 L194.75 772.09 L194.75 772.61 L194.75 773.12 L194.75 773.64 L194.75 774.16 L194.75 774.67 L194.75 775.19 L194.75 775.71 L194.75 776.22 L194.75 776.74 L194.75 777.25 L194.75 777.77 L194.75 778.29 L194.75 778.8 L194.75 779.32 L194.75 779.84 L194.75 780.35 L194.75 780.87 L194.75 781.38 L194.75 781.9 L194.75 782.42 L194.75 782.93 L194.75 783.45 L194.75 783.97 L194.75 784.48 L194.75 785 L194.75 785.51 L194.75 786.03 L194.75 786.55 L194.75 787.06 L194.81 787.58 L194.94 788.1 L195.09 788.61 L195.22 789.13 L195.29 789.64 L195.25 790.16 L195.12 790.68 L194.97 791.19 L194.87 791.71 L194.88 792.23 L194.98 792.74 L195.13 793.26 L195.3 793.77 L195.46 794.29 L195.63 794.81 L195.81 795.32 L195.99 795.84 L196.16 796.36 L196.28 796.87 L196.4 797.39 L196.51 797.9 L196.61 798.42 L196.68 798.94 L196.71 799.45 L196.66 799.97 L196.52 800.49 L196.32 801 L196.12 801.52 L195.95 802.04 L195.75 802.55 L195.55 803.07 L195.43 803.58 L195.41 804.1 L195.54 804.62 L195.75 805.13 L195.95 805.65 L196.07 806.17 L196.13 806.68 L196.18 807.2 L196.22 807.71 L196.27 808.23 L196.31 808.75 L196.35 809.26 L196.4 809.78 L196.47 810.3 L196.61 810.81 L196.91 811.33 L197.32 811.84 L197.78 812.36 L198.28 812.88 L198.9 813.39 L199.61 813.91 L200.35 814.43 L201.05 814.94 L201.75 815.46 L202.45 815.97 L203.1 816.49 L203.66 817.01 L204.2 817.52 L204.85 818.04 L205.66 818.56 L206.64 819.07 L207.86 819.59 L209.54 820.1 L211.81 820.62 L214.23 821.14 L216.91 821.65 L219.37 822.17 L221.43 822.69 L222.99 823.2 L223.95 823.72 L223.27 824.24 L221.8 824.75 L219.01 825.27 L215.71 825.78 L212.06 826.3 L208.44 826.82 L205.14 827.33 L202.25 827.85 L199.88 828.37 L198.01 828.88 L196.72 829.4 L195.79 829.91 L195.2 830.43 L194.74 830.95 L194.53 831.46 L194.53 831.46 L194.32 830.95 L193.86 830.43 L193.27 829.91 L192.34 829.4 L191.05 828.88 L189.18 828.37 L186.81 827.85 L183.92 827.33 L180.61 826.82 L177 826.3 L173.34 825.78 L170.04 825.27 L167.26 824.75 L165.79 824.24 L165.11 823.72 L166.06 823.2 L167.63 822.69 L169.69 822.17 L172.15 821.65 L174.83 821.14 L177.25 820.62 L179.52 820.1 L181.2 819.59 L182.42 819.07 L183.4 818.56 L184.21 818.04 L184.85 817.52 L185.39 817.01 L185.96 816.49 L186.61 815.97 L187.31 815.46 L188.01 814.94 L188.71 814.43 L189.45 813.91 L190.16 813.39 L190.78 812.88 L191.28 812.36 L191.74 811.84 L192.15 811.33 L192.45 810.81 L192.59 810.3 L192.66 809.78 L192.7 809.26 L192.74 808.75 L192.79 808.23 L192.84 807.71 L192.88 807.2 L192.93 806.68 L192.99 806.17 L193.11 805.65 L193.31 805.13 L193.52 804.62 L193.64 804.1 L193.63 803.58 L193.5 803.07 L193.31 802.55 L193.11 802.04 L192.94 801.52 L192.74 801 L192.54 800.49 L192.4 799.97 L192.35 799.45 L192.38 798.94 L192.45 798.42 L192.55 797.9 L192.66 797.39 L192.77 796.87 L192.9 796.36 L193.06 795.84 L193.25 795.32 L193.43 794.81 L193.6 794.29 L193.75 793.77 L193.92 793.26 L194.08 792.74 L194.18 792.23 L194.19 791.71 L194.09 791.19 L193.94 790.68 L193.81 790.16 L193.77 789.64 L193.84 789.13 L193.97 788.61 L194.12 788.1 L194.25 787.58 L194.31 787.06 L194.31 786.55 L194.31 786.03 L194.31 785.51 L194.31 785 L194.31 784.48 L194.31 783.97 L194.31 783.45 L194.31 782.93 L194.31 782.42 L194.31 781.9 L194.31 781.38 L194.31 780.87 L194.31 780.35 L194.31 779.84 L194.31 779.32 L194.31 778.8 L194.31 778.29 L194.31 777.77 L194.31 777.25 L194.31 776.74 L194.31 776.22 L194.31 775.71 L194.31 775.19 L194.31 774.67 L194.31 774.16 L194.31 773.64 L194.31 773.12 L194.31 772.61 L194.31 772.09 L194.31 771.57 L194.31 771.06 L194.31 770.54 L194.31 770.03 L194.31 769.51 L194.31 768.99 L194.31 768.48 L194.31 767.96 L194.31 767.44 L194.31 766.93 L194.31 766.41 L194.31 765.9 L194.31 765.38 L194.31 764.86 L194.31 764.35 L194.31 763.83 L194.31 763.31 L194.31 762.8 L194.31 762.28 L194.31 761.77 L194.31 761.25 L194.31 760.73 L194.31 760.22 L194.31 759.7 L194.31 759.18 L194.31 758.67 L194.31 758.15 L194.31 757.64 L194.31 757.12 L194.31 756.6 L194.31 756.09 L194.31 755.57 L194.31 755.05 L194.31 754.54 L194.31 754.02 L194.31 753.51 L194.31 752.99 L194.31 752.47 L194.31 751.96 L194.31 751.44 L194.31 750.92 L194.31 750.41 L194.31 749.89 L194.31 749.37 L194.31 748.86 L194.31 748.34 L194.31 747.83 L194.31 747.31 L194.31 746.79 L194.31 746.28 L194.31 745.76 L194.31 745.24 L194.31 744.73 L194.31 744.21 L194.31 743.7 L194.31 743.18 L194.31 742.66 L194.31 742.15 L194.31 741.63 L194.31 741.11 L194.31 740.6 L194.31 740.08 L194.31 739.57 L194.31 739.05 L194.31 738.53 L194.31 738.02 L194.31 737.5 L194.31 736.98 L194.31 736.47 L194.31 735.95 L194.29 735.44 L194.2 734.92 L194.08 734.4 L193.97 733.89 L193.89 733.37 L193.88 732.85 L193.89 732.34 L193.92 731.82 L193.97 731.31 L194.03 730.79 L194.12 730.27 L194.23 729.76 L194.37 729.24 L194.53 728.72Z"/>
<line class="w" x1="194.53" y1="809.89" x2="194.53" y2="826.23"/>
<rect class="b" x="187.23" y="818.06" width="14.49" height="6.32"/>
<line class="m" x1="187.23" y1="822.75" x2="201.72" y2="822.75"/>
<circle class="o" cx="194.53" cy="733.08" r="0.95"/>
<circle class="o" cx="194.53" cy="789.74" r="0.95"/>
<circle class="o" cx="194.53" cy="796.82" r="0.95"/>
<circle class="o" cx="194.53" cy="800.09" r="0.95"/>
<circle class="o" cx="194.53" cy="807.17" r="0.95"/>
<circle class="o" cx="194.53" cy="808.8" r="0.95"/>
</g>
<path class="br" d="M122.43 730.12 V728.72 H194.53 V730.12"/>
<text class="sg" x="158.48" y="727.59" text-anchor="middle">ns</text>
<path class="ax" d="M79.31 724.29 V836.35 H232.36"/>
<line class="tk" x1="78.21" y1="728.96" x2="79.31" y2="728.96"/>
<text class="tl" x="77.11" y="730.56" text-anchor="end">60</text>
<line class="tk" x1="78.21" y1="761.38" x2="79.31" y2="761.38"/>
<text class="tl" x="77.11" y="762.98" text-anchor="end">40</text>
<line class="tk" x1="78.21" y1="794.07" x2="79.31" y2="794.07"/>
<text class="tl" x="77.11" y="795.67" text-anchor="end">20</text>
<line class="tk" x1="78.21" y1="826.49" x2="79.31" y2="826.49"/>
<text class="tl" x="77.11" y="828.09" text-anchor="end">0</text>
<line class="tk" x1="122.43" y1="836.35" x2="122.43" y2="837.45"/>
<text class="tl" x="122.43" y="842.1" text-anchor="middle">Low−risk</text>
<line class="tk" x1="194.53" y1="836.35" x2="194.53" y2="837.45"/>
<text class="tl" x="194.53" y="842.1" text-anchor="middle">High−risk</text>
<text class="tl" transform="translate(69.64 780.06) rotate(-90)" text-anchor="middle">CD274</text>
</g>
<g id="panel-N">
<text class="lt" transform="translate(289.31 701.34) scale(1 1)" text-anchor="middle">N</text>
<text class="tt" x="299.13" y="715.31">test</text>
<clipPath id="cN"><rect x="295.02" y="717.4" width="155.64" height="117.92"/></clipPath>
<g clip-path="url(#cN)">
<path class="v" fill="#416AB5" d="M339.95 726.18 L340.13 726.7 L340.29 727.21 L340.43 727.73 L340.54 728.25 L340.62 728.77 L340.68 729.28 L340.71 729.8 L340.7 730.32 L340.64 730.84 L340.54 731.36 L340.44 731.87 L340.35 732.39 L340.29 732.91 L340.27 733.43 L340.27 733.94 L340.27 734.46 L340.27 734.98 L340.27 735.5 L340.27 736.01 L340.27 736.53 L340.27 737.05 L340.27 737.57 L340.27 738.08 L340.27 738.6 L340.27 739.12 L340.27 739.64 L340.27 740.16 L340.27 740.67 L340.27 741.19 L340.27 741.71 L340.27 742.23 L340.27 742.74 L340.27 743.26 L340.27 743.78 L340.27 744.3 L340.27 744.81 L340.27 745.33 L340.27 745.85 L340.27 746.37 L340.27 746.88 L340.27 747.4 L340.27 747.92 L340.27 748.44 L340.27 748.96 L340.27 749.47 L340.27 749.99 L340.27 750.51 L340.27 751.03 L340.27 751.54 L340.27 752.06 L340.27 752.58 L340.27 753.1 L340.27 753.61 L340.27 754.13 L340.27 754.65 L340.27 755.17 L340.27 755.68 L340.27 756.2 L340.27 756.72 L340.27 757.24 L340.27 757.76 L340.27 758.27 L340.27 758.79 L340.27 759.31 L340.27 759.83 L340.27 760.34 L340.27 760.86 L340.27 761.38 L340.27 761.9 L340.28 762.41 L340.34 762.93 L340.43 763.45 L340.53 763.97 L340.62 764.48 L340.69 765 L340.71 765.52 L340.66 766.04 L340.58 766.56 L340.48 767.07 L340.38 767.59 L340.31 768.11 L340.27 768.63 L340.27 769.14 L340.27 769.66 L340.27 770.18 L340.27 770.7 L340.27 771.21 L340.27 771.73 L340.27 772.25 L340.27 772.77 L340.27 773.28 L340.28 773.8 L340.28 774.32 L340.28 774.84 L340.28 775.36 L340.28 775.87 L340.28 776.39 L340.28 776.91 L340.28 777.43 L340.28 777.94 L340.29 778.46 L340.29 778.98 L340.29 779.5 L340.29 780.01 L340.29 780.53 L340.3 781.05 L340.3 781.57 L340.3 782.08 L340.3 782.6 L340.31 783.12 L340.31 783.64 L340.31 784.16 L340.32 784.67 L340.32 785.19 L340.32 785.71 L340.33 786.23 L340.33 786.74 L340.34 787.26 L340.34 787.78 L340.35 788.3 L340.35 788.81 L340.36 789.33 L340.36 789.85 L340.37 790.37 L340.37 790.88 L340.38 791.4 L340.4 791.92 L340.44 792.44 L340.51 792.96 L340.6 793.47 L340.69 793.99 L340.77 794.51 L340.84 795.03 L340.91 795.54 L340.97 796.06 L341.03 796.58 L341.09 797.1 L341.17 797.61 L341.26 798.13 L341.37 798.65 L341.51 799.17 L341.67 799.68 L341.88 800.2 L342.18 800.72 L342.61 801.24 L343.09 801.76 L343.58 802.27 L344.14 802.79 L344.61 803.31 L344.87 803.83 L345.07 804.34 L345.23 804.86 L345.34 805.38 L345.42 805.9 L345.46 806.41 L345.5 806.93 L345.53 807.45 L345.57 807.97 L345.62 808.48 L345.67 809 L345.74 809.52 L345.82 810.04 L345.92 810.56 L346.07 811.07 L346.29 811.59 L346.6 812.11 L347.15 812.63 L348.18 813.14 L349.51 813.66 L351.54 814.18 L353.77 814.7 L355.97 815.21 L357.91 815.73 L359.37 816.25 L360.54 816.77 L361.37 817.28 L362.1 817.8 L362.99 818.32 L364.06 818.84 L365.52 819.36 L367.43 819.87 L369.45 820.39 L371.61 820.91 L373.47 821.43 L375.14 821.94 L376.25 822.46 L376.76 822.98 L375.77 823.5 L373.93 824.01 L370.76 824.53 L367.11 825.05 L362.94 825.57 L358.68 826.08 L354.38 826.6 L350.47 827.12 L347.03 827.64 L344.31 828.16 L342.41 828.67 L341.16 829.19 L340.35 829.71 L339.95 830.23 L339.95 830.23 L339.54 829.71 L338.73 829.19 L337.48 828.67 L335.59 828.16 L332.86 827.64 L329.42 827.12 L325.51 826.6 L321.21 826.08 L316.95 825.57 L312.78 825.05 L309.13 824.53 L305.96 824.01 L304.13 823.5 L303.13 822.98 L303.65 822.46 L304.76 821.94 L306.42 821.43 L308.29 820.91 L310.44 820.39 L312.46 819.87 L314.37 819.36 L315.84 818.84 L316.9 818.32 L317.79 817.8 L318.52 817.28 L319.36 816.77 L320.52 816.25 L321.98 815.73 L323.92 815.21 L326.12 814.7 L328.35 814.18 L330.38 813.66 L331.71 813.14 L332.74 812.63 L333.29 812.11 L333.61 811.59 L333.82 811.07 L333.97 810.56 L334.07 810.04 L334.15 809.52 L334.22 809 L334.27 808.48 L334.32 807.97 L334.36 807.45 L334.39 806.93 L334.43 806.41 L334.48 805.9 L334.55 805.38 L334.67 804.86 L334.82 804.34 L335.02 803.83 L335.29 803.31 L335.75 802.79 L336.31 802.27 L336.8 801.76 L337.28 801.24 L337.71 800.72 L338.01 800.2 L338.22 799.68 L338.38 799.17 L338.52 798.65 L338.63 798.13 L338.72 797.61 L338.8 797.1 L338.86 796.58 L338.92 796.06 L338.98 795.54 L339.05 795.03 L339.12 794.51 L339.2 793.99 L339.29 793.47 L339.38 792.96 L339.45 792.44 L339.5 791.92 L339.51 791.4 L339.52 790.88 L339.52 790.37 L339.53 789.85 L339.53 789.33 L339.54 788.81 L339.54 788.3 L339.55 787.78 L339.55 787.26 L339.56 786.74 L339.56 786.23 L339.57 785.71 L339.57 785.19 L339.57 784.67 L339.58 784.16 L339.58 783.64 L339.58 783.12 L339.59 782.6 L339.59 782.08 L339.59 781.57 L339.59 781.05 L339.6 780.53 L339.6 780.01 L339.6 779.5 L339.6 778.98 L339.6 778.46 L339.61 777.94 L339.61 777.43 L339.61 776.91 L339.61 776.39 L339.61 775.87 L339.61 775.36 L339.61 774.84 L339.61 774.32 L339.62 773.8 L339.62 773.28 L339.62 772.77 L339.62 772.25 L339.62 771.73 L339.62 771.21 L339.62 770.7 L339.62 770.18 L339.62 769.66 L339.62 769.14 L339.62 768.63 L339.58 768.11 L339.51 767.59 L339.41 767.07 L339.31 766.56 L339.23 766.04 L339.18 765.52 L339.2 765 L339.27 764.48 L339.36 763.97 L339.46 763.45 L339.55 762.93 L339.61 762.41 L339.62 761.9 L339.62 761.38 L339.62 760.86 L339.62 760.34 L339.62 759.83 L339.62 759.31 L339.62 758.79 L339.62 758.27 L339.62 757.76 L339.62 757.24 L339.62 756.72 L339.62 756.2 L339.62 755.68 L339.62 755.17 L339.62 754.65 L339.62 754.13 L339.62 753.61 L339.62 753.1 L339.62 752.58 L339.62 752.06 L339.62 751.54 L339.62 751.03 L339.62 750.51 L339.62 749.99 L339.62 749.47 L339.62 748.96 L339.62 748.44 L339.62 747.92 L339.62 747.4 L339.62 746.88 L339.62 746.37 L339.62 745.85 L339.62 745.33 L339.62 744.81 L339.62 744.3 L339.62 743.78 L339.62 743.26 L339.62 742.74 L339.62 742.23 L339.62 741.71 L339.62 741.19 L339.62 740.67 L339.62 740.16 L339.62 739.64 L339.62 739.12 L339.62 738.6 L339.62 738.08 L339.62 737.57 L339.62 737.05 L339.62 736.53 L339.62 736.01 L339.62 735.5 L339.62 734.98 L339.62 734.46 L339.62 733.94 L339.62 733.43 L339.6 732.91 L339.54 732.39 L339.45 731.87 L339.35 731.36 L339.26 730.84 L339.2 730.32 L339.18 729.8 L339.21 729.28 L339.27 728.77 L339.35 728.25 L339.46 727.73 L339.6 727.21 L339.76 726.7 L339.95 726.18Z"/>
<line class="w" x1="339.95" y1="803.53" x2="339.95" y2="825.32"/>
<rect class="b" x="332.65" y="816.61" width="14.6" height="6.54"/>
<line class="m" x1="332.65" y1="820.96" x2="347.25" y2="820.96"/>
<circle class="o" cx="339.95" cy="729.99" r="0.95"/>
<circle class="o" cx="339.95" cy="765.4" r="0.95"/>
<circle class="o" cx="339.95" cy="795.91" r="0.95"/>
<circle class="o" cx="339.95" cy="799.18" r="0.95"/>
<circle class="o" cx="339.95" cy="804.62" r="0.95"/>
<circle class="o" cx="339.95" cy="806.26" r="0.95"/>
<path class="v" fill="#ED2024" d="M413.62 734.89 L413.75 735.41 L413.88 735.93 L414.02 736.44 L414.16 736.96 L414.3 737.48 L414.44 737.99 L414.6 738.51 L414.81 739.03 L415 739.54 L415.12 740.06 L415.13 740.57 L415.01 741.09 L414.82 741.61 L414.62 742.12 L414.46 742.64 L414.3 743.16 L414.14 743.67 L413.99 744.19 L413.88 744.71 L413.84 745.22 L413.84 745.74 L413.84 746.25 L413.84 746.77 L413.84 747.29 L413.84 747.8 L413.84 748.32 L413.84 748.84 L413.84 749.35 L413.84 749.87 L413.84 750.38 L413.84 750.9 L413.84 751.42 L413.84 751.93 L413.84 752.45 L413.84 752.97 L413.84 753.48 L413.84 754 L413.84 754.52 L413.84 755.03 L413.84 755.55 L413.84 756.06 L413.84 756.58 L413.84 757.1 L413.84 757.61 L413.84 758.13 L413.84 758.65 L413.84 759.16 L413.84 759.68 L413.84 760.19 L413.84 760.71 L413.84 761.23 L413.84 761.74 L413.84 762.26 L413.94 762.78 L414.12 763.29 L414.32 763.81 L414.49 764.33 L414.65 764.84 L414.82 765.36 L414.96 765.87 L415.03 766.39 L415 766.91 L414.88 767.42 L414.71 767.94 L414.55 768.46 L414.41 768.97 L414.25 769.49 L414.09 770.01 L413.95 770.52 L413.86 771.04 L413.84 771.55 L413.84 772.07 L413.84 772.59 L413.84 773.1 L413.85 773.62 L413.86 774.14 L413.87 774.65 L413.88 775.17 L413.89 775.68 L413.9 776.2 L413.92 776.72 L413.94 777.23 L413.99 777.75 L414.14 778.27 L414.36 778.78 L414.59 779.3 L414.82 779.82 L415.09 780.33 L415.38 780.85 L415.65 781.36 L415.84 781.88 L415.99 782.4 L416.11 782.91 L416.22 783.43 L416.33 783.95 L416.45 784.46 L416.57 784.98 L416.69 785.49 L416.81 786.01 L416.94 786.53 L417.07 787.04 L417.22 787.56 L417.42 788.08 L417.62 788.59 L417.74 789.11 L417.72 789.63 L417.49 790.14 L417.14 790.66 L416.76 791.17 L416.23 791.69 L415.62 792.21 L415.05 792.72 L414.68 793.24 L414.42 793.76 L414.19 794.27 L414.02 794.79 L413.95 795.31 L413.95 795.82 L413.95 796.34 L413.95 796.85 L413.95 797.37 L413.95 797.89 L413.95 798.4 L413.95 798.92 L413.97 799.44 L414.1 799.95 L414.32 800.47 L414.55 800.98 L414.76 801.5 L414.97 802.02 L415.19 802.53 L415.4 803.05 L415.59 803.57 L415.76 804.08 L415.93 804.6 L416.08 805.12 L416.21 805.63 L416.35 806.15 L416.48 806.66 L416.6 807.18 L416.66 807.7 L416.66 808.21 L416.6 808.73 L416.52 809.25 L416.46 809.76 L416.46 810.28 L416.55 810.79 L416.72 811.31 L416.97 811.83 L417.71 812.34 L418.91 812.86 L420.47 813.38 L422.87 813.89 L425.6 814.41 L428.78 814.93 L431.87 815.44 L434.83 815.96 L437.44 816.47 L439.66 816.99 L441.49 817.51 L442.93 818.02 L444.07 818.54 L445.03 819.06 L445.71 819.57 L445.95 820.09 L446.08 820.6 L445.95 821.12 L445.45 821.64 L444.67 822.15 L443.3 822.67 L441.54 823.19 L439.18 823.7 L436.48 824.22 L433.34 824.74 L430.16 825.25 L426.99 825.77 L424.02 826.28 L421.26 826.8 L418.94 827.32 L417.03 827.83 L415.63 828.35 L414.69 828.87 L413.96 829.38 L413.62 829.9 L413.62 829.9 L413.28 829.38 L412.55 828.87 L411.61 828.35 L410.21 827.83 L408.3 827.32 L405.97 826.8 L403.22 826.28 L400.25 825.77 L397.08 825.25 L393.9 824.74 L390.76 824.22 L388.06 823.7 L385.7 823.19 L383.94 822.67 L382.56 822.15 L381.79 821.64 L381.29 821.12 L381.16 820.6 L381.29 820.09 L381.53 819.57 L382.2 819.06 L383.17 818.54 L384.31 818.02 L385.75 817.51 L387.57 816.99 L389.8 816.47 L392.4 815.96 L395.37 815.44 L398.46 814.93 L401.64 814.41 L404.37 813.89 L406.77 813.38 L408.33 812.86 L409.53 812.34 L410.27 811.83 L410.52 811.31 L410.69 810.79 L410.78 810.28 L410.77 809.76 L410.72 809.25 L410.64 808.73 L410.58 808.21 L410.57 807.7 L410.64 807.18 L410.75 806.66 L410.89 806.15 L411.02 805.63 L411.16 805.12 L411.31 804.6 L411.47 804.08 L411.65 803.57 L411.84 803.05 L412.05 802.53 L412.26 802.02 L412.47 801.5 L412.68 800.98 L412.92 800.47 L413.14 799.95 L413.27 799.44 L413.29 798.92 L413.29 798.4 L413.29 797.89 L413.29 797.37 L413.29 796.85 L413.29 796.34 L413.29 795.82 L413.29 795.31 L413.22 794.79 L413.05 794.27 L412.82 793.76 L412.56 793.24 L412.18 792.72 L411.62 792.21 L411.01 791.69 L410.48 791.17 L410.1 790.66 L409.75 790.14 L409.51 789.63 L409.5 789.11 L409.62 788.59 L409.81 788.08 L410.01 787.56 L410.17 787.04 L410.3 786.53 L410.43 786.01 L410.55 785.49 L410.67 784.98 L410.79 784.46 L410.9 783.95 L411.01 783.43 L411.13 782.91 L411.25 782.4 L411.4 781.88 L411.59 781.36 L411.85 780.85 L412.14 780.33 L412.42 779.82 L412.64 779.3 L412.88 778.78 L413.09 778.27 L413.25 777.75 L413.3 777.23 L413.32 776.72 L413.33 776.2 L413.35 775.68 L413.36 775.17 L413.37 774.65 L413.38 774.14 L413.39 773.62 L413.39 773.1 L413.4 772.59 L413.4 772.07 L413.4 771.55 L413.38 771.04 L413.29 770.52 L413.15 770.01 L412.99 769.49 L412.83 768.97 L412.69 768.46 L412.53 767.94 L412.36 767.42 L412.24 766.91 L412.2 766.39 L412.27 765.87 L412.41 765.36 L412.58 764.84 L412.74 764.33 L412.92 763.81 L413.12 763.29 L413.3 762.78 L413.4 762.26 L413.4 761.74 L413.4 761.23 L413.4 760.71 L413.4 760.19 L413.4 759.68 L413.4 759.16 L413.4 758.65 L413.4 758.13 L413.4 757.61 L413.4 757.1 L413.4 756.58 L413.4 756.06 L413.4 755.55 L413.4 755.03 L413.4 754.52 L413.4 754 L413.4 753.48 L413.4 752.97 L413.4 752.45 L413.4 751.93 L413.4 751.42 L413.4 750.9 L413.4 750.38 L413.4 749.87 L413.4 749.35 L413.4 748.84 L413.4 748.32 L413.4 747.8 L413.4 747.29 L413.4 746.77 L413.4 746.25 L413.4 745.74 L413.4 745.22 L413.36 744.71 L413.25 744.19 L413.1 743.67 L412.94 743.16 L412.78 742.64 L412.62 742.12 L412.42 741.61 L412.23 741.09 L412.11 740.57 L412.11 740.06 L412.24 739.54 L412.43 739.03 L412.63 738.51 L412.8 737.99 L412.94 737.48 L413.08 736.96 L413.22 736.44 L413.36 735.93 L413.49 735.41 L413.62 734.89Z"/>
<line class="w" x1="413.62" y1="808.98" x2="413.62" y2="825.32"/>
<rect class="b" x="406.32" y="817.15" width="14.71" height="5.77"/>
<line class="m" x1="406.32" y1="820.09" x2="421.03" y2="820.09"/>
<circle class="o" cx="413.62" cy="740.34" r="0.95"/>
<circle class="o" cx="413.62" cy="766.49" r="0.95"/>
<circle class="o" cx="413.62" cy="782.83" r="0.95"/>
<circle class="o" cx="413.62" cy="786.1" r="0.95"/>
<circle class="o" cx="413.62" cy="789.91" r="0.95"/>
<circle class="o" cx="413.62" cy="802.44" r="0.95"/>
<circle class="o" cx="413.62" cy="805.17" r="0.95"/>
<circle class="o" cx="413.62" cy="807.35" r="0.95"/>
</g>
<path class="br" d="M339.95 726.71 V725.31 H413.62 V726.71"/>
<text class="sg" x="376.78" y="724.17" text-anchor="middle">ns</text>
<path class="ax" d="M295.02 720.4 V835.31 H450.66"/>
<line class="tk" x1="293.92" y1="740.63" x2="295.02" y2="740.63"/>
<text class="tl" x="292.82" y="742.23" text-anchor="end">40</text>
<line class="tk" x1="293.92" y1="761.9" x2="295.02" y2="761.9"/>
<text class="tl" x="292.82" y="763.5" text-anchor="end">30</text>
<line class="tk" x1="293.92" y1="782.91" x2="295.02" y2="782.91"/>
<text class="tl" x="292.82" y="784.51" text-anchor="end">20</text>
<line class="tk" x1="293.92" y1="804.18" x2="295.02" y2="804.18"/>
<text class="tl" x="292.82" y="805.78" text-anchor="end">10</text>
<line class="tk" x1="293.92" y1="825.45" x2="295.02" y2="825.45"/>
<text class="tl" x="292.82" y="827.05" text-anchor="end">0</text>
<line class="tk" x1="339.95" y1="835.31" x2="339.95" y2="836.41"/>
<text class="tl" x="339.95" y="841.58" text-anchor="middle">Low−risk</text>
<line class="tk" x1="413.62" y1="835.31" x2="413.62" y2="836.41"/>
<text class="tl" x="413.62" y="841.58" text-anchor="middle">High−risk</text>
<text class="tl" transform="translate(284.83 778.24) rotate(-90)" text-anchor="middle">CD274</text>
</g>
<g id="panel-O">
<text class="lt" transform="translate(493.87 706.01) scale(1 1)" text-anchor="middle">O</text>
<text class="tt" x="504.2" y="715.83">entire</text>
<clipPath id="cO"><rect x="502.94" y="718.69" width="154.35" height="118.43"/></clipPath>
<g clip-path="url(#cO)">
<path class="v" fill="#416AB5" d="M547.18 748.88 L547.41 749.4 L547.59 749.91 L547.74 750.43 L547.84 750.95 L547.91 751.47 L547.94 751.98 L547.92 752.5 L547.81 753.02 L547.67 753.54 L547.52 754.05 L547.42 754.57 L547.4 755.09 L547.4 755.6 L547.4 756.12 L547.4 756.64 L547.4 757.16 L547.4 757.67 L547.4 758.19 L547.4 758.71 L547.4 759.23 L547.4 759.74 L547.4 760.26 L547.4 760.78 L547.4 761.3 L547.4 761.81 L547.4 762.33 L547.4 762.85 L547.4 763.36 L547.4 763.88 L547.4 764.4 L547.4 764.92 L547.4 765.43 L547.4 765.95 L547.4 766.47 L547.4 766.99 L547.4 767.5 L547.4 768.02 L547.4 768.54 L547.4 769.06 L547.4 769.57 L547.4 770.09 L547.4 770.61 L547.4 771.12 L547.4 771.64 L547.4 772.16 L547.4 772.68 L547.4 773.19 L547.4 773.71 L547.4 774.23 L547.4 774.75 L547.4 775.26 L547.4 775.78 L547.4 776.3 L547.4 776.82 L547.4 777.33 L547.4 777.85 L547.4 778.37 L547.59 778.89 L547.89 779.4 L548.05 779.92 L548.05 780.44 L548.05 780.95 L548.05 781.47 L548.05 781.99 L548.05 782.51 L548.01 783.02 L547.86 783.54 L547.67 784.06 L547.53 784.58 L547.51 785.09 L547.51 785.61 L547.51 786.13 L547.51 786.65 L547.51 787.16 L547.52 787.68 L547.66 788.2 L547.86 788.71 L547.95 789.23 L547.87 789.75 L547.73 790.27 L547.59 790.78 L547.51 791.3 L547.54 791.82 L547.62 792.34 L547.72 792.85 L547.81 793.37 L547.88 793.89 L547.95 794.41 L548.01 794.92 L548.05 795.44 L548.04 795.96 L547.94 796.47 L547.78 796.99 L547.66 797.51 L547.62 798.03 L547.62 798.54 L547.63 799.06 L547.65 799.58 L547.67 800.1 L547.69 800.61 L547.72 801.13 L547.84 801.65 L548.1 802.17 L548.41 802.68 L548.79 803.2 L549.28 803.72 L549.7 804.23 L549.9 804.75 L550.04 805.27 L550.16 805.79 L550.22 806.3 L550.23 806.82 L550.18 807.34 L550.1 807.86 L550.04 808.37 L550.02 808.89 L550.07 809.41 L550.18 809.93 L550.31 810.44 L550.45 810.96 L550.6 811.48 L550.78 811.99 L550.95 812.51 L551.08 813.03 L551.15 813.55 L551.2 814.06 L551.24 814.58 L551.29 815.1 L551.37 815.62 L551.47 816.13 L551.62 816.65 L551.93 817.17 L552.93 817.69 L554.36 818.2 L556.48 818.72 L559.06 819.24 L561.6 819.75 L564.22 820.27 L566.84 820.79 L569.42 821.31 L571.85 821.82 L574.16 822.34 L576.35 822.86 L578.42 823.38 L580.33 823.89 L582.13 824.41 L583.43 824.93 L584.22 825.45 L582.91 825.96 L580.12 826.48 L575.55 827 L570.19 827.51 L564.14 828.03 L559.03 828.55 L554.8 829.07 L551.5 829.58 L549.37 830.1 L547.9 830.62 L547.18 831.14 L547.18 831.14 L546.46 830.62 L545 830.1 L542.86 829.58 L539.56 829.07 L535.34 828.55 L530.22 828.03 L524.18 827.51 L518.81 827 L514.24 826.48 L511.46 825.96 L510.14 825.45 L510.94 824.93 L512.24 824.41 L514.03 823.89 L515.95 823.38 L518.02 822.86 L520.21 822.34 L522.51 821.82 L524.94 821.31 L527.53 820.79 L530.14 820.27 L532.77 819.75 L535.31 819.24 L537.88 818.72 L540.01 818.2 L541.44 817.69 L542.44 817.17 L542.75 816.65 L542.9 816.13 L543 815.62 L543.07 815.1 L543.13 814.58 L543.17 814.06 L543.21 813.55 L543.28 813.03 L543.42 812.51 L543.59 811.99 L543.77 811.48 L543.92 810.96 L544.05 810.44 L544.19 809.93 L544.3 809.41 L544.35 808.89 L544.33 808.37 L544.26 807.86 L544.19 807.34 L544.14 806.82 L544.14 806.3 L544.21 805.79 L544.32 805.27 L544.47 804.75 L544.67 804.23 L545.08 803.72 L545.58 803.2 L545.95 802.68 L546.27 802.17 L546.52 801.65 L546.64 801.13 L546.67 800.61 L546.7 800.1 L546.72 799.58 L546.73 799.06 L546.74 798.54 L546.75 798.03 L546.71 797.51 L546.58 796.99 L546.43 796.47 L546.32 795.96 L546.32 795.44 L546.36 794.92 L546.42 794.41 L546.49 793.89 L546.55 793.37 L546.65 792.85 L546.75 792.34 L546.83 791.82 L546.85 791.3 L546.78 790.78 L546.63 790.27 L546.49 789.75 L546.42 789.23 L546.51 788.71 L546.71 788.2 L546.85 787.68 L546.86 787.16 L546.86 786.65 L546.86 786.13 L546.86 785.61 L546.86 785.09 L546.84 784.58 L546.7 784.06 L546.51 783.54 L546.35 783.02 L546.31 782.51 L546.31 781.99 L546.31 781.47 L546.31 780.95 L546.31 780.44 L546.31 779.92 L546.47 779.4 L546.77 778.89 L546.96 778.37 L546.96 777.85 L546.96 777.33 L546.96 776.82 L546.96 776.3 L546.96 775.78 L546.96 775.26 L546.96 774.75 L546.96 774.23 L546.96 773.71 L546.96 773.19 L546.96 772.68 L546.96 772.16 L546.96 771.64 L546.96 771.12 L546.96 770.61 L546.96 770.09 L546.96 769.57 L546.96 769.06 L546.96 768.54 L546.96 768.02 L546.96 767.5 L546.96 766.99 L546.96 766.47 L546.96 765.95 L546.96 765.43 L546.96 764.92 L546.96 764.4 L546.96 763.88 L546.96 763.36 L546.96 762.85 L546.96 762.33 L546.96 761.81 L546.96 761.3 L546.96 760.78 L546.96 760.26 L546.96 759.74 L546.96 759.23 L546.96 758.71 L546.96 758.19 L546.96 757.67 L546.96 757.16 L546.96 756.64 L546.96 756.12 L546.96 755.6 L546.96 755.09 L546.95 754.57 L546.85 754.05 L546.7 753.54 L546.55 753.02 L546.45 752.5 L546.42 751.98 L546.45 751.47 L546.52 750.95 L546.63 750.43 L546.77 749.91 L546.96 749.4 L547.18 748.88Z"/>
<line class="w" x1="547.18" y1="804.44" x2="547.18" y2="827.32"/>
<rect class="b" x="540.1" y="821.11" width="14.16" height="4.58"/>
<line class="m" x1="540.1" y1="824.6" x2="554.26" y2="824.6"/>
<circle class="o" cx="547.18" cy="752.15" r="0.95"/>
<circle class="o" cx="547.18" cy="779.93" r="0.95"/>
<circle class="o" cx="547.18" cy="782.65" r="0.95"/>
<circle class="o" cx="547.18" cy="789.19" r="0.95"/>
<circle class="o" cx="547.18" cy="794.64" r="0.95"/>
<circle class="o" cx="547.18" cy="796.82" r="0.95"/>
<circle class="o" cx="547.18" cy="802.26" r="0.95"/>
<circle class="o" cx="547.18" cy="804.44" r="0.95"/>
<circle class="o" cx="547.18" cy="806.62" r="0.95"/>
<circle class="o" cx="547.18" cy="808.8" r="0.95"/>
<circle class="o" cx="547.18" cy="810.98" r="0.95"/>
<circle class="o" cx="547.18" cy="813.16" r="0.95"/>
<path class="v" fill="#ED2024" d="M621.18 727.63 L621.37 728.15 L621.53 728.67 L621.65 729.18 L621.75 729.7 L621.81 730.22 L621.83 730.73 L621.82 731.25 L621.73 731.77 L621.61 732.28 L621.5 732.8 L621.42 733.32 L621.4 733.83 L621.4 734.35 L621.4 734.87 L621.4 735.38 L621.4 735.9 L621.4 736.42 L621.4 736.93 L621.4 737.45 L621.4 737.97 L621.4 738.48 L621.4 739 L621.4 739.52 L621.4 740.03 L621.4 740.55 L621.4 741.06 L621.4 741.58 L621.4 742.1 L621.4 742.61 L621.4 743.13 L621.4 743.65 L621.4 744.16 L621.4 744.68 L621.4 745.2 L621.4 745.71 L621.4 746.23 L621.4 746.75 L621.4 747.26 L621.4 747.78 L621.4 748.3 L621.4 748.81 L621.4 749.33 L621.4 749.85 L621.4 750.36 L621.4 750.88 L621.4 751.4 L621.4 751.91 L621.4 752.43 L621.4 752.95 L621.4 753.46 L621.4 753.98 L621.4 754.5 L621.4 755.01 L621.4 755.53 L621.4 756.05 L621.4 756.56 L621.4 757.08 L621.4 757.59 L621.4 758.11 L621.4 758.63 L621.48 759.14 L621.68 759.66 L621.83 760.18 L621.78 760.69 L621.59 761.21 L621.42 761.73 L621.4 762.24 L621.4 762.76 L621.4 763.28 L621.4 763.79 L621.4 764.31 L621.4 764.83 L621.4 765.34 L621.4 765.86 L621.4 766.38 L621.4 766.89 L621.4 767.41 L621.4 767.93 L621.4 768.44 L621.4 768.96 L621.4 769.48 L621.4 769.99 L621.4 770.51 L621.4 771.03 L621.4 771.54 L621.4 772.06 L621.4 772.58 L621.4 773.09 L621.4 773.61 L621.4 774.12 L621.4 774.64 L621.4 775.16 L621.4 775.67 L621.4 776.19 L621.4 776.71 L621.4 777.22 L621.4 777.74 L621.4 778.26 L621.4 778.77 L621.4 779.29 L621.47 779.81 L621.67 780.32 L621.82 780.84 L621.79 781.36 L621.6 781.87 L621.43 782.39 L621.4 782.91 L621.4 783.42 L621.4 783.94 L621.41 784.46 L621.41 784.97 L621.42 785.49 L621.43 786.01 L621.44 786.52 L621.45 787.04 L621.46 787.56 L621.48 788.07 L621.49 788.59 L621.51 789.11 L621.54 789.62 L621.59 790.14 L621.67 790.65 L621.77 791.17 L621.88 791.69 L622 792.2 L622.12 792.72 L622.27 793.24 L622.45 793.75 L622.63 794.27 L622.81 794.79 L622.96 795.3 L623.12 795.82 L623.28 796.34 L623.43 796.85 L623.54 797.37 L623.58 797.89 L623.57 798.4 L623.52 798.92 L623.46 799.44 L623.38 799.95 L623.24 800.47 L622.94 800.99 L622.6 801.5 L622.34 802.02 L622.23 802.54 L622.15 803.05 L622.1 803.57 L622.06 804.09 L622.06 804.6 L622.15 805.12 L622.32 805.63 L622.5 806.15 L622.65 806.67 L622.71 807.18 L622.71 807.7 L622.71 808.22 L622.71 808.73 L622.71 809.25 L622.72 809.77 L622.75 810.28 L622.81 810.8 L622.89 811.32 L623.05 811.83 L623.51 812.35 L624.11 812.87 L624.71 813.38 L625.4 813.9 L626.13 814.42 L626.81 814.93 L627.44 815.45 L628.05 815.97 L628.65 816.48 L629.21 817 L629.76 817.52 L630.4 818.03 L631.2 818.55 L632.18 819.07 L633.46 819.58 L635.42 820.1 L637.74 820.62 L640.31 821.13 L642.93 821.65 L645.4 822.16 L647.63 822.68 L649.49 823.2 L650.93 823.71 L651.69 824.23 L652.01 824.75 L651.06 825.26 L649.18 825.78 L645.72 826.3 L641.76 826.81 L637.47 827.33 L633.43 827.85 L629.91 828.36 L626.94 828.88 L624.74 829.4 L623.09 829.91 L622.16 830.43 L621.47 830.95 L621.18 831.46 L621.18 831.46 L620.9 830.95 L620.2 830.43 L619.27 829.91 L617.63 829.4 L615.42 828.88 L612.45 828.36 L608.93 827.85 L604.9 827.33 L600.6 826.81 L596.65 826.3 L593.19 825.78 L591.3 825.26 L590.36 824.75 L590.67 824.23 L591.43 823.71 L592.88 823.2 L594.73 822.68 L596.96 822.16 L599.44 821.65 L602.06 821.13 L604.63 820.62 L606.94 820.1 L608.9 819.58 L610.18 819.07 L611.17 818.55 L611.96 818.03 L612.61 817.52 L613.16 817 L613.71 816.48 L614.31 815.97 L614.93 815.45 L615.56 814.93 L616.24 814.42 L616.97 813.9 L617.65 813.38 L618.25 812.87 L618.85 812.35 L619.31 811.83 L619.48 811.32 L619.56 810.8 L619.61 810.28 L619.65 809.77 L619.66 809.25 L619.66 808.73 L619.66 808.22 L619.66 807.7 L619.66 807.18 L619.72 806.67 L619.86 806.15 L620.05 805.63 L620.21 805.12 L620.3 804.6 L620.3 804.09 L620.27 803.57 L620.21 803.05 L620.14 802.54 L620.03 802.02 L619.76 801.5 L619.42 800.99 L619.13 800.47 L618.98 799.95 L618.9 799.44 L618.84 798.92 L618.8 798.4 L618.79 797.89 L618.83 797.37 L618.94 796.85 L619.08 796.34 L619.25 795.82 L619.41 795.3 L619.56 794.79 L619.73 794.27 L619.92 793.75 L620.09 793.24 L620.25 792.72 L620.37 792.2 L620.48 791.69 L620.59 791.17 L620.69 790.65 L620.77 790.14 L620.83 789.62 L620.86 789.11 L620.88 788.59 L620.89 788.07 L620.9 787.56 L620.92 787.04 L620.93 786.52 L620.94 786.01 L620.94 785.49 L620.95 784.97 L620.96 784.46 L620.96 783.94 L620.96 783.42 L620.96 782.91 L620.93 782.39 L620.76 781.87 L620.58 781.36 L620.54 780.84 L620.7 780.32 L620.89 779.81 L620.96 779.29 L620.96 778.77 L620.96 778.26 L620.96 777.74 L620.96 777.22 L620.96 776.71 L620.96 776.19 L620.96 775.67 L620.96 775.16 L620.96 774.64 L620.96 774.12 L620.96 773.61 L620.96 773.09 L620.96 772.58 L620.96 772.06 L620.96 771.54 L620.96 771.03 L620.96 770.51 L620.96 769.99 L620.96 769.48 L620.96 768.96 L620.96 768.44 L620.96 767.93 L620.96 767.41 L620.96 766.89 L620.96 766.38 L620.96 765.86 L620.96 765.34 L620.96 764.83 L620.96 764.31 L620.96 763.79 L620.96 763.28 L620.96 762.76 L620.96 762.24 L620.94 761.73 L620.78 761.21 L620.59 760.69 L620.54 760.18 L620.68 759.66 L620.88 759.14 L620.96 758.63 L620.96 758.11 L620.96 757.59 L620.96 757.08 L620.96 756.56 L620.96 756.05 L620.96 755.53 L620.96 755.01 L620.96 754.5 L620.96 753.98 L620.96 753.46 L620.96 752.95 L620.96 752.43 L620.96 751.91 L620.96 751.4 L620.96 750.88 L620.96 750.36 L620.96 749.85 L620.96 749.33 L620.96 748.81 L620.96 748.3 L620.96 747.78 L620.96 747.26 L620.96 746.75 L620.96 746.23 L620.96 745.71 L620.96 745.2 L620.96 744.68 L620.96 744.16 L620.96 743.65 L620.96 743.13 L620.96 742.61 L620.96 742.1 L620.96 741.58 L620.96 741.06 L620.96 740.55 L620.96 740.03 L620.96 739.52 L620.96 739 L620.96 738.48 L620.96 737.97 L620.96 737.45 L620.96 736.93 L620.96 736.42 L620.96 735.9 L620.96 735.38 L620.96 734.87 L620.96 734.35 L620.96 733.83 L620.95 733.32 L620.87 732.8 L620.75 732.28 L620.63 731.77 L620.55 731.25 L620.53 730.73 L620.56 730.22 L620.62 729.7 L620.71 729.18 L620.84 728.67 L620.99 728.15 L621.18 727.63Z"/>
<line class="w" x1="621.18" y1="810.98" x2="621.18" y2="827.32"/>
<rect class="b" x="613.56" y="819.48" width="14.71" height="5.99"/>
<line class="m" x1="613.56" y1="823.51" x2="628.26" y2="823.51"/>
<circle class="o" cx="621.18" cy="730.9" r="0.95"/>
<circle class="o" cx="621.18" cy="760.32" r="0.95"/>
<circle class="o" cx="621.18" cy="781.02" r="0.95"/>
<circle class="o" cx="621.18" cy="789.19" r="0.95"/>
<circle class="o" cx="621.18" cy="793.55" r="0.95"/>
<circle class="o" cx="621.18" cy="795.73" r="0.95"/>
<circle class="o" cx="621.18" cy="797.91" r="0.95"/>
<circle class="o" cx="621.18" cy="800.09" r="0.95"/>
<circle class="o" cx="621.18" cy="806.62" r="0.95"/>
<circle class="o" cx="621.18" cy="808.8" r="0.95"/>
</g>
<path class="br" d="M547.18 727.94 V726.54 H621.18 V727.94"/>
<text class="sg" x="584.18" y="725.41" text-anchor="middle">ns</text>
<path class="ax" d="M502.94 721.69 V837.13 H657.29"/>
<line class="tk" x1="501.84" y1="726.88" x2="502.94" y2="726.88"/>
<text class="tl" x="500.74" y="728.48" text-anchor="end">60</text>
<line class="tk" x1="501.84" y1="760.34" x2="502.94" y2="760.34"/>
<text class="tl" x="500.74" y="761.94" text-anchor="end">40</text>
<line class="tk" x1="501.84" y1="794.07" x2="502.94" y2="794.07"/>
<text class="tl" x="500.74" y="795.67" text-anchor="end">20</text>
<line class="tk" x1="501.84" y1="827.53" x2="502.94" y2="827.53"/>
<text class="tl" x="500.74" y="829.13" text-anchor="end">0</text>
<line class="tk" x1="547.18" y1="837.13" x2="547.18" y2="838.23"/>
<text class="tl" x="547.18" y="842.62" text-anchor="middle">Low−risk</text>
<line class="tk" x1="621.18" y1="837.13" x2="621.18" y2="838.23"/>
<text class="tl" x="621.18" y="842.62" text-anchor="middle">High−risk</text>
<text class="tl" transform="translate(492.75 778.76) rotate(-90)" text-anchor="middle">CD274</text>
</g>
<g id="panel-P">
<text class="lt" transform="translate(70.75 870.42) scale(0.88 1)" text-anchor="middle">P</text>
<text class="tt" x="71.23" y="885.68">train</text>
<clipPath id="cP"><rect x="80.61" y="888.29" width="149.68" height="113.77"/></clipPath>
<g clip-path="url(#cP)">
<path class="v" fill="#416AB5" d="M121.47 901.74 L121.49 902.26 L121.52 902.78 L121.55 903.3 L121.58 903.82 L121.62 904.34 L121.66 904.86 L121.7 905.38 L121.74 905.89 L121.79 906.41 L121.83 906.93 L121.88 907.45 L121.93 907.97 L121.99 908.49 L122.04 909.01 L122.1 909.53 L122.17 910.05 L122.23 910.56 L122.31 911.08 L122.38 911.6 L122.46 912.12 L122.54 912.64 L122.63 913.16 L122.71 913.68 L122.8 914.2 L122.9 914.71 L122.99 915.23 L123.1 915.75 L123.2 916.27 L123.32 916.79 L123.43 917.31 L123.54 917.83 L123.66 918.35 L123.78 918.87 L123.91 919.38 L124.03 919.9 L124.17 920.42 L124.3 920.94 L124.44 921.46 L124.58 921.98 L124.72 922.5 L124.87 923.02 L125.01 923.53 L125.17 924.05 L125.32 924.57 L125.48 925.09 L125.65 925.61 L125.82 926.13 L126.01 926.65 L126.21 927.17 L126.41 927.68 L126.63 928.2 L126.84 928.72 L127.06 929.24 L127.27 929.76 L127.49 930.28 L127.69 930.8 L127.89 931.32 L128.09 931.84 L128.29 932.35 L128.49 932.87 L128.71 933.39 L128.94 933.91 L129.18 934.43 L129.43 934.95 L129.69 935.47 L129.97 935.99 L130.29 936.5 L130.63 937.02 L131.01 937.54 L131.43 938.06 L131.88 938.58 L132.36 939.1 L132.9 939.62 L133.49 940.14 L134.14 940.65 L134.8 941.17 L135.47 941.69 L136.16 942.21 L136.87 942.73 L137.61 943.25 L138.35 943.77 L139.11 944.29 L139.87 944.81 L140.65 945.32 L141.44 945.84 L142.24 946.36 L143.05 946.88 L143.87 947.4 L144.71 947.92 L145.55 948.44 L146.39 948.96 L147.2 949.47 L148 949.99 L148.8 950.51 L149.59 951.03 L150.34 951.55 L151.04 952.07 L151.71 952.59 L152.36 953.11 L152.95 953.63 L153.43 954.14 L153.85 954.66 L154.25 955.18 L154.55 955.7 L154.67 956.22 L154.67 956.74 L154.67 957.26 L154.67 957.78 L154.67 958.29 L154.65 958.81 L154.6 959.33 L154.53 959.85 L154.46 960.37 L154.4 960.89 L154.34 961.41 L154.26 961.93 L154.15 962.44 L153.99 962.96 L153.76 963.48 L153.47 964 L153.11 964.52 L152.61 965.04 L151.91 965.56 L151.11 966.08 L150.31 966.6 L149.5 967.11 L148.64 967.63 L147.75 968.15 L146.89 968.67 L146.05 969.19 L145.22 969.71 L144.39 970.23 L143.57 970.75 L142.74 971.26 L141.9 971.78 L141.05 972.3 L140.21 972.82 L139.38 973.34 L138.59 973.86 L137.83 974.38 L137.08 974.9 L136.36 975.42 L135.65 975.93 L134.96 976.45 L134.27 976.97 L133.59 977.49 L132.92 978.01 L132.27 978.53 L131.64 979.05 L131.02 979.57 L130.41 980.08 L129.82 980.6 L129.26 981.12 L128.73 981.64 L128.23 982.16 L127.76 982.68 L127.3 983.2 L126.87 983.72 L126.45 984.23 L126.04 984.75 L125.66 985.27 L125.28 985.79 L124.93 986.31 L124.58 986.83 L124.23 987.35 L123.89 987.87 L123.56 988.39 L123.27 988.9 L123.02 989.42 L122.82 989.94 L122.64 990.46 L122.47 990.98 L122.32 991.5 L122.19 992.02 L122.09 992.54 L122 993.05 L121.91 993.57 L121.82 994.09 L121.74 994.61 L121.67 995.13 L121.6 995.65 L121.55 996.17 L121.51 996.69 L121.48 997.2 L121.47 997.72 L121.47 997.72 L121.45 997.2 L121.43 996.69 L121.38 996.17 L121.33 995.65 L121.27 995.13 L121.19 994.61 L121.11 994.09 L121.03 993.57 L120.94 993.05 L120.84 992.54 L120.74 992.02 L120.61 991.5 L120.47 990.98 L120.3 990.46 L120.11 989.94 L119.91 989.42 L119.67 988.9 L119.37 988.39 L119.05 987.87 L118.7 987.35 L118.35 986.83 L118.01 986.31 L117.65 985.79 L117.28 985.27 L116.89 984.75 L116.49 984.23 L116.07 983.72 L115.63 983.2 L115.18 982.68 L114.7 982.16 L114.2 981.64 L113.67 981.12 L113.11 980.6 L112.52 980.08 L111.92 979.57 L111.3 979.05 L110.67 978.53 L110.02 978.01 L109.35 977.49 L108.67 976.97 L107.98 976.45 L107.28 975.93 L106.57 975.42 L105.85 974.9 L105.11 974.38 L104.35 973.86 L103.55 973.34 L102.73 972.82 L101.88 972.3 L101.03 971.78 L100.2 971.26 L99.37 970.75 L98.54 970.23 L97.72 969.71 L96.88 969.19 L96.05 968.67 L95.18 968.15 L94.3 967.63 L93.43 967.11 L92.62 966.6 L91.82 966.08 L91.02 965.56 L90.33 965.04 L89.82 964.52 L89.47 964 L89.17 963.48 L88.94 962.96 L88.78 962.44 L88.68 961.93 L88.6 961.41 L88.53 960.89 L88.47 960.37 L88.4 959.85 L88.34 959.33 L88.28 958.81 L88.26 958.29 L88.26 957.78 L88.26 957.26 L88.26 956.74 L88.26 956.22 L88.38 955.7 L88.68 955.18 L89.08 954.66 L89.51 954.14 L89.99 953.63 L90.57 953.11 L91.22 952.59 L91.89 952.07 L92.59 951.55 L93.34 951.03 L94.13 950.51 L94.93 949.99 L95.73 949.47 L96.55 948.96 L97.38 948.44 L98.22 947.92 L99.06 947.4 L99.88 946.88 L100.69 946.36 L101.49 945.84 L102.28 945.32 L103.06 944.81 L103.83 944.29 L104.58 943.77 L105.33 943.25 L106.06 942.73 L106.77 942.21 L107.46 941.69 L108.13 941.17 L108.8 940.65 L109.44 940.14 L110.04 939.62 L110.57 939.1 L111.05 938.58 L111.5 938.06 L111.92 937.54 L112.3 937.02 L112.65 936.5 L112.96 935.99 L113.24 935.47 L113.51 934.95 L113.76 934.43 L114 933.91 L114.22 933.39 L114.44 932.87 L114.65 932.35 L114.85 931.84 L115.05 931.32 L115.24 930.8 L115.45 930.28 L115.66 929.76 L115.87 929.24 L116.09 928.72 L116.31 928.2 L116.52 927.68 L116.73 927.17 L116.92 926.65 L117.11 926.13 L117.28 925.61 L117.45 925.09 L117.61 924.57 L117.77 924.05 L117.92 923.53 L118.07 923.02 L118.21 922.5 L118.35 921.98 L118.49 921.46 L118.63 920.94 L118.77 920.42 L118.9 919.9 L119.03 919.38 L119.15 918.87 L119.27 918.35 L119.39 917.83 L119.51 917.31 L119.62 916.79 L119.73 916.27 L119.84 915.75 L119.94 915.23 L120.04 914.71 L120.13 914.2 L120.22 913.68 L120.31 913.16 L120.39 912.64 L120.47 912.12 L120.55 911.6 L120.63 911.08 L120.7 910.56 L120.77 910.05 L120.83 909.53 L120.89 909.01 L120.95 908.49 L121 907.97 L121.05 907.45 L121.1 906.93 L121.15 906.41 L121.19 905.89 L121.24 905.38 L121.28 904.86 L121.32 904.34 L121.35 903.82 L121.39 903.3 L121.42 902.78 L121.44 902.26 L121.47 901.74Z"/>
<line class="w" x1="121.47" y1="904.34" x2="121.47" y2="997.2"/>
<rect class="b" x="114.72" y="947.71" width="13.7" height="16.29"/>
<line class="m" x1="114.72" y1="955.7" x2="128.42" y2="955.7"/>
<circle class="o" cx="121.47" cy="913.88" r="0.95"/>
<path class="v" fill="#ED2024" d="M190.47 896.23 L190.49 896.74 L190.52 897.26 L190.55 897.77 L190.58 898.29 L190.6 898.81 L190.63 899.32 L190.65 899.84 L190.68 900.35 L190.7 900.87 L190.72 901.39 L190.75 901.9 L190.77 902.42 L190.79 902.93 L190.81 903.45 L190.83 903.97 L190.85 904.48 L190.86 905 L190.88 905.51 L190.9 906.03 L190.91 906.54 L190.92 907.06 L190.93 907.58 L190.94 908.09 L190.94 908.61 L190.95 909.12 L190.96 909.64 L190.97 910.16 L190.98 910.67 L190.99 911.19 L191 911.7 L191.02 912.22 L191.03 912.74 L191.06 913.25 L191.08 913.77 L191.16 914.28 L191.34 914.8 L191.62 915.32 L191.95 915.83 L192.41 916.35 L193.12 916.86 L193.92 917.38 L194.75 917.9 L195.69 918.41 L196.53 918.93 L197.17 919.44 L197.75 919.96 L198.17 920.48 L198.44 920.99 L198.65 921.51 L198.76 922.02 L198.72 922.54 L198.55 923.06 L198.32 923.57 L198.03 924.09 L197.61 924.6 L197.27 925.12 L197.13 925.64 L197.02 926.15 L196.94 926.67 L196.9 927.18 L196.93 927.7 L197.08 928.21 L197.28 928.73 L197.47 929.25 L197.59 929.76 L197.68 930.28 L197.77 930.79 L197.88 931.31 L198.05 931.83 L198.29 932.34 L198.62 932.86 L199.06 933.37 L199.74 933.89 L200.52 934.41 L201.32 934.92 L202.22 935.44 L203.1 935.95 L203.87 936.47 L204.59 936.99 L205.25 937.5 L205.88 938.02 L206.46 938.53 L206.55 939.05 L206.55 939.57 L206.6 940.08 L206.89 940.6 L207.35 941.11 L208.17 941.63 L209.14 942.15 L210.29 942.66 L211.58 943.18 L212.97 943.69 L214.57 944.21 L216.18 944.73 L217.63 945.24 L219.21 945.76 L220.36 946.27 L220.52 946.79 L220.25 947.31 L219.77 947.82 L218.71 948.34 L217.49 948.85 L216.54 949.37 L215.64 949.89 L214.98 950.4 L214.91 950.92 L215.46 951.43 L216.35 951.95 L217.39 952.46 L219 952.98 L220.74 953.5 L222.06 954.01 L223.28 954.53 L224.28 955.04 L224.71 955.56 L224.13 956.08 L222.88 956.59 L221.74 957.11 L220.63 957.62 L219.57 958.14 L218.75 958.66 L218.08 959.17 L217.53 959.69 L217.12 960.2 L216.74 960.72 L216.47 961.24 L216.44 961.75 L216.78 962.27 L216.9 962.78 L216.54 963.3 L215.9 963.82 L215.15 964.33 L214.03 964.85 L212.69 965.36 L211.43 965.88 L210.24 966.4 L209.07 966.91 L207.92 967.43 L206.81 967.94 L205.74 968.46 L204.7 968.98 L203.69 969.49 L202.71 970.01 L201.77 970.52 L200.85 971.04 L199.97 971.56 L199.13 972.07 L198.31 972.59 L197.52 973.1 L196.77 973.62 L196.05 974.14 L195.35 974.65 L194.67 975.17 L194.05 975.68 L193.5 976.2 L193.01 976.71 L192.55 977.23 L192.17 977.75 L191.89 978.26 L191.69 978.78 L191.53 979.29 L191.39 979.81 L191.29 980.33 L191.2 980.84 L191.12 981.36 L191.04 981.87 L190.98 982.39 L190.93 982.91 L190.88 983.42 L190.83 983.94 L190.79 984.45 L190.75 984.97 L190.7 985.49 L190.66 986 L190.63 986.52 L190.59 987.03 L190.56 987.55 L190.53 988.07 L190.51 988.58 L190.49 989.1 L190.48 989.61 L190.47 990.13 L190.47 990.13 L190.46 989.61 L190.44 989.1 L190.42 988.58 L190.4 988.07 L190.37 987.55 L190.34 987.03 L190.31 986.52 L190.27 986 L190.23 985.49 L190.19 984.97 L190.14 984.45 L190.1 983.94 L190.06 983.42 L190.01 982.91 L189.95 982.39 L189.89 981.87 L189.82 981.36 L189.74 980.84 L189.65 980.33 L189.54 979.81 L189.41 979.29 L189.24 978.78 L189.04 978.26 L188.77 977.75 L188.38 977.23 L187.93 976.71 L187.43 976.2 L186.89 975.68 L186.26 975.17 L185.58 974.65 L184.88 974.14 L184.16 973.62 L183.41 973.1 L182.62 972.59 L181.81 972.07 L180.96 971.56 L180.08 971.04 L179.17 970.52 L178.22 970.01 L177.25 969.49 L176.24 968.98 L175.2 968.46 L174.12 967.94 L173.02 967.43 L171.87 966.91 L170.69 966.4 L169.5 965.88 L168.25 965.36 L166.9 964.85 L165.79 964.33 L165.04 963.82 L164.39 963.3 L164.03 962.78 L164.16 962.27 L164.49 961.75 L164.46 961.24 L164.19 960.72 L163.82 960.2 L163.4 959.69 L162.85 959.17 L162.18 958.66 L161.36 958.14 L160.3 957.62 L159.19 957.11 L158.05 956.59 L156.8 956.08 L156.23 955.56 L156.65 955.04 L157.65 954.53 L158.88 954.01 L160.19 953.5 L161.94 952.98 L163.55 952.46 L164.58 951.95 L165.47 951.43 L166.02 950.92 L165.96 950.4 L165.3 949.89 L164.39 949.37 L163.45 948.85 L162.22 948.34 L161.17 947.82 L160.69 947.31 L160.41 946.79 L160.57 946.27 L161.72 945.76 L163.3 945.24 L164.76 944.73 L166.36 944.21 L167.96 943.69 L169.35 943.18 L170.65 942.66 L171.8 942.15 L172.76 941.63 L173.59 941.11 L174.05 940.6 L174.33 940.08 L174.38 939.57 L174.38 939.05 L174.47 938.53 L175.06 938.02 L175.69 937.5 L176.35 936.99 L177.06 936.47 L177.84 935.95 L178.72 935.44 L179.61 934.92 L180.41 934.41 L181.19 933.89 L181.87 933.37 L182.31 932.86 L182.64 932.34 L182.88 931.83 L183.05 931.31 L183.16 930.79 L183.25 930.28 L183.34 929.76 L183.46 929.25 L183.65 928.73 L183.85 928.21 L184 927.7 L184.03 927.18 L183.99 926.67 L183.92 926.15 L183.81 925.64 L183.67 925.12 L183.32 924.6 L182.91 924.09 L182.62 923.57 L182.38 923.06 L182.21 922.54 L182.17 922.02 L182.29 921.51 L182.5 920.99 L182.76 920.48 L183.19 919.96 L183.76 919.44 L184.41 918.93 L185.25 918.41 L186.18 917.9 L187.01 917.38 L187.81 916.86 L188.52 916.35 L188.98 915.83 L189.32 915.32 L189.59 914.8 L189.78 914.28 L189.85 913.77 L189.88 913.25 L189.9 912.74 L189.92 912.22 L189.93 911.7 L189.95 911.19 L189.96 910.67 L189.97 910.16 L189.98 909.64 L189.98 909.12 L189.99 908.61 L190 908.09 L190.01 907.58 L190.01 907.06 L190.03 906.54 L190.04 906.03 L190.05 905.51 L190.07 905 L190.09 904.48 L190.11 903.97 L190.13 903.45 L190.15 902.93 L190.17 902.42 L190.19 901.9 L190.21 901.39 L190.23 900.87 L190.26 900.35 L190.28 899.84 L190.31 899.32 L190.33 898.81 L190.36 898.29 L190.38 897.77 L190.41 897.26 L190.44 896.74 L190.47 896.23Z"/>
<line class="w" x1="190.47" y1="931.49" x2="190.47" y2="978.19"/>
<rect class="b" x="184.11" y="947.58" width="13.23" height="11.93"/>
<line class="m" x1="184.11" y1="955.36" x2="197.34" y2="955.36"/>
<circle class="o" cx="190.47" cy="905.55" r="0.95"/>
<circle class="o" cx="190.47" cy="913.85" r="0.95"/>
<circle class="o" cx="190.47" cy="922.42" r="0.95"/>
<circle class="o" cx="190.47" cy="981.3" r="0.95"/>
</g>
<path class="br" d="M121.47 902.83 V901.43 H190.47 V902.83"/>
<text class="sg" x="155.97" y="900.3" text-anchor="middle">***</text>
<path class="ax" d="M80.61 891.29 V1002.05 H230.29"/>
<line class="tk" x1="79.51" y1="922.42" x2="80.61" y2="922.42"/>
<text class="tl" x="78.41" y="924.02" text-anchor="end">0.05</text>
<line class="tk" x1="79.51" y1="963.92" x2="80.61" y2="963.92"/>
<text class="tl" x="78.41" y="965.52" text-anchor="end">0.00</text>
<line class="tk" x1="121.47" y1="1002.05" x2="121.47" y2="1003.15"/>
<text class="tl" x="121.47" y="1008.06" text-anchor="middle">Low−risk</text>
<line class="tk" x1="190.47" y1="1002.05" x2="190.47" y2="1003.15"/>
<text class="tl" x="190.47" y="1008.06" text-anchor="middle">High−risk</text>
<text class="tl" transform="translate(67.05 947.06) rotate(-90)" text-anchor="middle">MDSC</text>
</g>
<g id="panel-Q">
<text class="lt" transform="translate(290.09 864.48) scale(1.05 1)" text-anchor="middle">Q</text>
<text class="tt" x="299.13" y="882.31">test</text>
<clipPath id="cQ"><rect x="297.61" y="883.1" width="148.64" height="118.95"/></clipPath>
<g clip-path="url(#cQ)">
<path class="v" fill="#416AB5" d="M340.26 921.98 L340.27 922.49 L340.29 923.01 L340.33 923.52 L340.38 924.04 L340.44 924.55 L340.51 925.07 L340.59 925.58 L340.68 926.1 L340.77 926.61 L340.87 927.13 L341.01 927.64 L341.21 928.16 L341.46 928.67 L341.73 929.19 L342.02 929.7 L342.3 930.22 L342.58 930.73 L342.89 931.25 L343.2 931.76 L343.52 932.28 L343.84 932.79 L344.15 933.31 L344.46 933.82 L344.76 934.34 L345.06 934.85 L345.36 935.37 L345.65 935.88 L345.91 936.4 L346.17 936.91 L346.44 937.43 L346.69 937.94 L346.91 938.46 L347.08 938.97 L347.2 939.49 L347.31 940 L347.41 940.52 L347.49 941.03 L347.52 941.55 L347.51 942.06 L347.47 942.58 L347.41 943.09 L347.35 943.61 L347.32 944.12 L347.32 944.64 L347.34 945.16 L347.38 945.67 L347.43 946.19 L347.5 946.7 L347.59 947.22 L347.77 947.73 L348.02 948.25 L348.32 948.76 L348.64 949.28 L348.98 949.79 L349.39 950.31 L349.85 950.82 L350.37 951.34 L350.91 951.85 L351.5 952.37 L352.15 952.88 L352.86 953.4 L353.62 953.91 L354.41 954.43 L355.23 954.94 L356.11 955.46 L357.04 955.97 L358 956.49 L358.97 957 L359.95 957.52 L360.96 958.03 L362 958.55 L363.05 959.06 L364.09 959.58 L365.13 960.09 L366.19 960.61 L367.26 961.12 L368.3 961.64 L369.3 962.15 L370.23 962.67 L371.13 963.18 L372.01 963.7 L372.84 964.21 L373.58 964.73 L374.24 965.24 L374.93 965.76 L375.56 966.27 L375.97 966.79 L376.06 967.3 L376.06 967.82 L376 968.33 L375.31 968.85 L374.2 969.36 L373.12 969.88 L371.95 970.39 L370.64 970.91 L369.26 971.42 L367.85 971.94 L366.33 972.45 L364.74 972.97 L363.16 973.48 L361.65 974 L360.18 974.51 L358.75 975.03 L357.35 975.54 L356.03 976.06 L354.74 976.57 L353.5 977.09 L352.33 977.6 L351.24 978.12 L350.24 978.63 L349.29 979.15 L348.4 979.66 L347.59 980.18 L346.82 980.69 L346.11 981.21 L345.45 981.72 L344.84 982.24 L344.26 982.75 L343.73 983.27 L343.23 983.78 L342.8 984.3 L342.41 984.81 L342.06 985.33 L341.74 985.84 L341.48 986.36 L341.26 986.87 L341.06 987.39 L340.89 987.9 L340.77 988.42 L340.68 988.93 L340.6 989.45 L340.52 989.96 L340.44 990.48 L340.38 990.99 L340.33 991.51 L340.29 992.02 L340.27 992.54 L340.26 993.05 L340.26 993.05 L340.25 992.54 L340.23 992.02 L340.19 991.51 L340.14 990.99 L340.08 990.48 L340 989.96 L339.92 989.45 L339.84 988.93 L339.75 988.42 L339.63 987.9 L339.46 987.39 L339.26 986.87 L339.04 986.36 L338.78 985.84 L338.46 985.33 L338.11 984.81 L337.72 984.3 L337.28 983.78 L336.79 983.27 L336.25 982.75 L335.68 982.24 L335.07 981.72 L334.41 981.21 L333.69 980.69 L332.93 980.18 L332.12 979.66 L331.23 979.15 L330.28 978.63 L329.27 978.12 L328.19 977.6 L327.02 977.09 L325.78 976.57 L324.49 976.06 L323.16 975.54 L321.77 975.03 L320.34 974.51 L318.87 974 L317.36 973.48 L315.77 972.97 L314.19 972.45 L312.67 971.94 L311.26 971.42 L309.88 970.91 L308.57 970.39 L307.4 969.88 L306.31 969.36 L305.21 968.85 L304.52 968.33 L304.46 967.82 L304.46 967.3 L304.55 966.79 L304.96 966.27 L305.59 965.76 L306.28 965.24 L306.94 964.73 L307.68 964.21 L308.51 963.7 L309.38 963.18 L310.29 962.67 L311.22 962.15 L312.22 961.64 L313.26 961.12 L314.33 960.61 L315.39 960.09 L316.43 959.58 L317.47 959.06 L318.52 958.55 L319.55 958.03 L320.57 957.52 L321.55 957 L322.52 956.49 L323.48 955.97 L324.41 955.46 L325.28 954.94 L326.1 954.43 L326.9 953.91 L327.66 953.4 L328.37 952.88 L329.02 952.37 L329.6 951.85 L330.15 951.34 L330.67 950.82 L331.13 950.31 L331.54 949.79 L331.88 949.28 L332.2 948.76 L332.5 948.25 L332.75 947.73 L332.93 947.22 L333.02 946.7 L333.08 946.19 L333.14 945.67 L333.18 945.16 L333.2 944.64 L333.2 944.12 L333.17 943.61 L333.11 943.09 L333.05 942.58 L333.01 942.06 L333 941.55 L333.03 941.03 L333.11 940.52 L333.2 940 L333.32 939.49 L333.44 938.97 L333.61 938.46 L333.83 937.94 L334.08 937.43 L334.35 936.91 L334.6 936.4 L334.87 935.88 L335.16 935.37 L335.45 934.85 L335.76 934.34 L336.06 933.82 L336.36 933.31 L336.68 932.79 L337 932.28 L337.32 931.76 L337.63 931.25 L337.94 930.73 L338.22 930.22 L338.5 929.7 L338.79 929.19 L339.06 928.67 L339.31 928.16 L339.51 927.64 L339.64 927.13 L339.75 926.61 L339.84 926.1 L339.93 925.58 L340.01 925.07 L340.08 924.55 L340.14 924.04 L340.19 923.52 L340.23 923.01 L340.25 922.49 L340.26 921.98Z"/>
<line class="w" x1="340.26" y1="932.35" x2="340.26" y2="986.31"/>
<rect class="b" x="333.2" y="954.66" width="14.01" height="13.28"/>
<line class="m" x1="333.2" y1="967.63" x2="347.21" y2="967.63"/>
<path class="v" fill="#ED2024" d="M411.16 891.27 L411.17 891.79 L411.18 892.3 L411.19 892.82 L411.2 893.34 L411.22 893.86 L411.24 894.38 L411.27 894.89 L411.29 895.41 L411.32 895.93 L411.34 896.45 L411.37 896.97 L411.4 897.49 L411.44 898 L411.47 898.52 L411.5 899.04 L411.54 899.56 L411.6 900.08 L411.65 900.59 L411.72 901.11 L411.78 901.63 L411.84 902.15 L411.88 902.67 L411.92 903.18 L411.95 903.7 L411.98 904.22 L412 904.74 L412.02 905.26 L412.03 905.77 L412.03 906.29 L411.99 906.81 L411.94 907.33 L411.87 907.85 L411.8 908.36 L411.74 908.88 L411.7 909.4 L411.66 909.92 L411.62 910.44 L411.58 910.95 L411.54 911.47 L411.52 911.99 L411.5 912.51 L411.49 913.03 L411.49 913.54 L411.49 914.06 L411.49 914.58 L411.49 915.1 L411.49 915.62 L411.49 916.13 L411.49 916.65 L411.49 917.17 L411.49 917.69 L411.49 918.21 L411.49 918.72 L411.49 919.24 L411.49 919.76 L411.49 920.28 L411.49 920.8 L411.5 921.32 L411.52 921.83 L411.54 922.35 L411.58 922.87 L411.62 923.39 L411.67 923.91 L411.74 924.42 L411.8 924.94 L411.92 925.46 L412.16 925.98 L412.47 926.5 L412.83 927.01 L413.19 927.53 L413.53 928.05 L413.89 928.57 L414.27 929.09 L414.66 929.6 L415.04 930.12 L415.41 930.64 L415.76 931.16 L416.11 931.68 L416.45 932.19 L416.79 932.71 L417.13 933.23 L417.48 933.75 L417.82 934.27 L418.16 934.78 L418.5 935.3 L418.84 935.82 L419.19 936.34 L419.54 936.86 L419.91 937.37 L420.28 937.89 L420.66 938.41 L421.04 938.93 L421.43 939.45 L421.81 939.96 L422.2 940.48 L422.58 941 L422.97 941.52 L423.35 942.04 L423.73 942.55 L424.11 943.07 L424.47 943.59 L424.83 944.11 L425.18 944.63 L425.52 945.15 L425.86 945.66 L426.2 946.18 L426.55 946.7 L426.89 947.22 L427.24 947.74 L427.58 948.25 L427.93 948.77 L428.27 949.29 L428.62 949.81 L428.96 950.33 L429.32 950.84 L429.68 951.36 L430.03 951.88 L430.38 952.4 L430.71 952.92 L431.03 953.43 L431.34 953.95 L431.63 954.47 L431.92 954.99 L432.2 955.51 L432.46 956.02 L432.69 956.54 L432.92 957.06 L433.13 957.58 L433.34 958.1 L433.52 958.61 L433.66 959.13 L433.78 959.65 L433.88 960.17 L433.97 960.69 L434.03 961.2 L434.04 961.72 L434.01 962.24 L433.96 962.76 L433.89 963.28 L433.81 963.79 L433.66 964.31 L433.43 964.83 L433.14 965.35 L432.8 965.87 L432.45 966.38 L432.06 966.9 L431.59 967.42 L431.05 967.94 L430.49 968.46 L429.9 968.98 L429.31 969.49 L428.67 970.01 L428 970.53 L427.31 971.05 L426.63 971.57 L425.95 972.08 L425.26 972.6 L424.57 973.12 L423.87 973.64 L423.19 974.16 L422.53 974.67 L421.88 975.19 L421.25 975.71 L420.63 976.23 L420.02 976.75 L419.42 977.26 L418.83 977.78 L418.24 978.3 L417.66 978.82 L417.11 979.34 L416.59 979.85 L416.11 980.37 L415.67 980.89 L415.25 981.41 L414.85 981.93 L414.46 982.44 L414.09 982.96 L413.72 983.48 L413.36 984 L413.04 984.52 L412.76 985.03 L412.51 985.55 L412.28 986.07 L412.08 986.59 L411.93 987.11 L411.83 987.62 L411.75 988.14 L411.67 988.66 L411.61 989.18 L411.55 989.7 L411.51 990.21 L411.47 990.73 L411.43 991.25 L411.39 991.77 L411.35 992.29 L411.32 992.81 L411.28 993.32 L411.26 993.84 L411.23 994.36 L411.21 994.88 L411.19 995.4 L411.17 995.91 L411.17 996.43 L411.16 996.95 L411.16 996.95 L411.16 996.43 L411.15 995.91 L411.14 995.4 L411.12 994.88 L411.1 994.36 L411.07 993.84 L411.04 993.32 L411.01 992.81 L410.97 992.29 L410.94 991.77 L410.9 991.25 L410.86 990.73 L410.82 990.21 L410.77 989.7 L410.72 989.18 L410.66 988.66 L410.58 988.14 L410.49 987.62 L410.39 987.11 L410.25 986.59 L410.05 986.07 L409.82 985.55 L409.56 985.03 L409.29 984.52 L408.96 984 L408.61 983.48 L408.24 982.96 L407.87 982.44 L407.48 981.93 L407.08 981.41 L406.66 980.89 L406.21 980.37 L405.74 979.85 L405.22 979.34 L404.67 978.82 L404.09 978.3 L403.5 977.78 L402.91 977.26 L402.31 976.75 L401.7 976.23 L401.08 975.71 L400.44 975.19 L399.8 974.67 L399.14 974.16 L398.45 973.64 L397.76 973.12 L397.07 972.6 L396.38 972.08 L395.7 971.57 L395.01 971.05 L394.32 970.53 L393.66 970.01 L393.02 969.49 L392.43 968.98 L391.84 968.46 L391.27 967.94 L390.74 967.42 L390.27 966.9 L389.88 966.38 L389.53 965.87 L389.19 965.35 L388.9 964.83 L388.66 964.31 L388.52 963.79 L388.43 963.28 L388.36 962.76 L388.31 962.24 L388.29 961.72 L388.3 961.2 L388.35 960.69 L388.44 960.17 L388.55 959.65 L388.66 959.13 L388.81 958.61 L388.99 958.1 L389.19 957.58 L389.41 957.06 L389.63 956.54 L389.87 956.02 L390.13 955.51 L390.4 954.99 L390.69 954.47 L390.99 953.95 L391.3 953.43 L391.61 952.92 L391.95 952.4 L392.3 951.88 L392.65 951.36 L393.01 950.84 L393.36 950.33 L393.71 949.81 L394.05 949.29 L394.4 948.77 L394.75 948.25 L395.09 947.74 L395.44 947.22 L395.78 946.7 L396.12 946.18 L396.46 945.66 L396.8 945.15 L397.15 944.63 L397.5 944.11 L397.85 943.59 L398.22 943.07 L398.59 942.55 L398.98 942.04 L399.36 941.52 L399.75 941 L400.13 940.48 L400.51 939.96 L400.9 939.45 L401.28 938.93 L401.67 938.41 L402.05 937.89 L402.42 937.37 L402.78 936.86 L403.14 936.34 L403.49 935.82 L403.83 935.3 L404.17 934.78 L404.51 934.27 L404.85 933.75 L405.19 933.23 L405.54 932.71 L405.88 932.19 L406.22 931.68 L406.57 931.16 L406.92 930.64 L407.29 930.12 L407.67 929.6 L408.06 929.09 L408.44 928.57 L408.8 928.05 L409.14 927.53 L409.5 927.01 L409.85 926.5 L410.17 925.98 L410.41 925.46 L410.52 924.94 L410.59 924.42 L410.65 923.91 L410.7 923.39 L410.75 922.87 L410.79 922.35 L410.81 921.83 L410.83 921.32 L410.84 920.8 L410.84 920.28 L410.84 919.76 L410.84 919.24 L410.84 918.72 L410.84 918.21 L410.84 917.69 L410.84 917.17 L410.84 916.65 L410.84 916.13 L410.84 915.62 L410.84 915.1 L410.84 914.58 L410.84 914.06 L410.84 913.54 L410.84 913.03 L410.83 912.51 L410.81 911.99 L410.78 911.47 L410.75 910.95 L410.71 910.44 L410.67 909.92 L410.63 909.4 L410.59 908.88 L410.53 908.36 L410.46 907.85 L410.39 907.33 L410.33 906.81 L410.3 906.29 L410.29 905.77 L410.3 905.26 L410.32 904.74 L410.35 904.22 L410.38 903.7 L410.4 903.18 L410.44 902.67 L410.49 902.15 L410.55 901.63 L410.61 901.11 L410.67 900.59 L410.73 900.08 L410.78 899.56 L410.83 899.04 L410.86 898.52 L410.89 898 L410.92 897.49 L410.95 896.97 L410.98 896.45 L411.01 895.93 L411.04 895.41 L411.06 894.89 L411.08 894.38 L411.1 893.86 L411.12 893.34 L411.14 892.82 L411.15 892.3 L411.16 891.79 L411.16 891.27Z"/>
<line class="w" x1="411.16" y1="933.76" x2="411.16" y2="983.88"/>
<rect class="b" x="403.86" y="947.6" width="14.38" height="20.48"/>
<line class="m" x1="403.86" y1="961.54" x2="418.25" y2="961.54"/>
<circle class="o" cx="411.16" cy="905.43" r="0.95"/>
</g>
<path class="br" d="M340.26 903.66 V902.26 H411.16 V903.66"/>
<text class="sg" x="375.71" y="901.13" text-anchor="middle">*</text>
<path class="ax" d="M297.61 886.1 V1002.05 H446.25"/>
<line class="tk" x1="296.51" y1="912.82" x2="297.61" y2="912.82"/>
<text class="tl" x="295.41" y="914.42" text-anchor="end">0.08</text>
<line class="tk" x1="296.51" y1="940.57" x2="297.61" y2="940.57"/>
<text class="tl" x="295.41" y="942.17" text-anchor="end">0.04</text>
<line class="tk" x1="296.51" y1="968.07" x2="297.61" y2="968.07"/>
<text class="tl" x="295.41" y="969.67" text-anchor="end">0.00</text>
<line class="tk" x1="296.51" y1="995.57" x2="297.61" y2="995.57"/>
<text class="tl" x="295.41" y="997.17" text-anchor="end">-0.04</text>
<line class="tk" x1="340.26" y1="1002.05" x2="340.26" y2="1003.15"/>
<text class="tl" x="340.26" y="1008.06" text-anchor="middle">Low−risk</text>
<line class="tk" x1="411.16" y1="1002.05" x2="411.16" y2="1003.15"/>
<text class="tl" x="411.16" y="1008.06" text-anchor="middle">High−risk</text>
<text class="tl" transform="translate(280.68 945.76) rotate(-90)" text-anchor="middle">MDSC</text>
</g>
<g id="panel-R">
<text class="lt" transform="translate(500.22 864.97) scale(0.88 1)" text-anchor="middle">R</text>
<text class="tt" x="500.83" y="883.09">entire</text>
<clipPath id="cR"><rect x="502.94" y="890.88" width="140.86" height="111.17"/></clipPath>
<g clip-path="url(#cR)">
<path class="v" fill="#416AB5" d="M543.47 920.42 L543.49 920.94 L543.52 921.45 L543.56 921.97 L543.6 922.48 L543.64 923 L543.69 923.51 L543.75 924.03 L543.8 924.54 L543.86 925.06 L543.92 925.58 L543.98 926.09 L544.05 926.61 L544.12 927.12 L544.2 927.64 L544.28 928.15 L544.38 928.67 L544.48 929.18 L544.58 929.7 L544.7 930.21 L544.82 930.73 L544.96 931.24 L545.12 931.76 L545.28 932.27 L545.46 932.79 L545.64 933.31 L545.83 933.82 L546.03 934.34 L546.22 934.85 L546.43 935.37 L546.65 935.88 L546.87 936.4 L547.11 936.91 L547.35 937.43 L547.62 937.94 L547.93 938.46 L548.26 938.97 L548.58 939.49 L548.88 940 L549.12 940.52 L549.31 941.04 L549.48 941.55 L549.62 942.07 L549.75 942.58 L549.87 943.1 L549.97 943.61 L550.05 944.13 L550.11 944.64 L550.19 945.16 L550.28 945.67 L550.4 946.19 L550.55 946.7 L550.73 947.22 L550.94 947.73 L551.16 948.25 L551.41 948.77 L551.72 949.28 L552.06 949.8 L552.44 950.31 L552.85 950.83 L553.28 951.34 L553.77 951.86 L554.3 952.37 L554.87 952.89 L555.46 953.4 L556.05 953.92 L556.69 954.43 L557.34 954.95 L558.02 955.47 L558.71 955.98 L559.4 956.5 L560.09 957.01 L560.79 957.53 L561.54 958.04 L562.37 958.56 L563.27 959.07 L564.23 959.59 L565.24 960.1 L566.31 960.62 L567.53 961.13 L568.79 961.65 L569.93 962.16 L570.84 962.68 L571.66 963.2 L572.3 963.71 L572.63 964.23 L572.81 964.74 L572.95 965.26 L573.11 965.77 L573.25 966.29 L573.42 966.8 L573.68 967.32 L574.16 967.83 L574.75 968.35 L575.34 968.86 L576.02 969.38 L576.64 969.89 L576.96 970.41 L577.15 970.93 L577.15 971.44 L576.64 971.96 L575.85 972.47 L574.96 972.99 L573.76 973.5 L572.42 974.02 L571.08 974.53 L569.69 975.05 L568.23 975.56 L566.78 976.08 L565.4 976.59 L564.07 977.11 L562.76 977.63 L561.5 978.14 L560.29 978.66 L559.12 979.17 L557.99 979.69 L556.91 980.2 L555.91 980.72 L554.97 981.23 L554.09 981.75 L553.25 982.26 L552.44 982.78 L551.67 983.29 L550.94 983.81 L550.24 984.32 L549.59 984.84 L548.97 985.36 L548.38 985.87 L547.84 986.39 L547.34 986.9 L546.89 987.42 L546.47 987.93 L546.07 988.45 L545.71 988.96 L545.35 989.48 L545.01 989.99 L544.71 990.51 L544.49 991.02 L544.32 991.54 L544.18 992.05 L544.06 992.57 L543.96 993.09 L543.88 993.6 L543.8 994.12 L543.73 994.63 L543.66 995.15 L543.6 995.66 L543.55 996.18 L543.51 996.69 L543.48 997.21 L543.47 997.72 L543.47 997.72 L543.45 997.21 L543.42 996.69 L543.38 996.18 L543.33 995.66 L543.27 995.15 L543.2 994.63 L543.13 994.12 L543.06 993.6 L542.97 993.09 L542.87 992.57 L542.75 992.05 L542.61 991.54 L542.44 991.02 L542.22 990.51 L541.93 989.99 L541.58 989.48 L541.22 988.96 L540.86 988.45 L540.47 987.93 L540.05 987.42 L539.59 986.9 L539.09 986.39 L538.55 985.87 L537.96 985.36 L537.35 984.84 L536.7 984.32 L536 983.81 L535.26 983.29 L534.49 982.78 L533.69 982.26 L532.85 981.75 L531.96 981.23 L531.02 980.72 L530.02 980.2 L528.95 979.69 L527.81 979.17 L526.64 978.66 L525.43 978.14 L524.17 977.63 L522.86 977.11 L521.53 976.59 L520.15 976.08 L518.7 975.56 L517.25 975.05 L515.85 974.53 L514.52 974.02 L513.17 973.5 L511.98 972.99 L511.08 972.47 L510.29 971.96 L509.79 971.44 L509.79 970.93 L509.97 970.41 L510.3 969.89 L510.91 969.38 L511.6 968.86 L512.18 968.35 L512.77 967.83 L513.25 967.32 L513.51 966.8 L513.68 966.29 L513.83 965.77 L513.99 965.26 L514.13 964.74 L514.31 964.23 L514.63 963.71 L515.27 963.2 L516.1 962.68 L517 962.16 L518.14 961.65 L519.4 961.13 L520.62 960.62 L521.7 960.1 L522.71 959.59 L523.67 959.07 L524.57 958.56 L525.39 958.04 L526.14 957.53 L526.85 957.01 L527.53 956.5 L528.22 955.98 L528.91 955.47 L529.59 954.95 L530.25 954.43 L530.88 953.92 L531.48 953.4 L532.06 952.89 L532.63 952.37 L533.16 951.86 L533.65 951.34 L534.09 950.83 L534.49 950.31 L534.87 949.8 L535.22 949.28 L535.52 948.77 L535.77 948.25 L536 947.73 L536.2 947.22 L536.38 946.7 L536.53 946.19 L536.65 945.67 L536.75 945.16 L536.82 944.64 L536.89 944.13 L536.97 943.61 L537.07 943.1 L537.18 942.58 L537.31 942.07 L537.46 941.55 L537.62 941.04 L537.81 940.52 L538.06 940 L538.35 939.49 L538.67 938.97 L539 938.46 L539.31 937.94 L539.58 937.43 L539.83 936.91 L540.06 936.4 L540.29 935.88 L540.51 935.37 L540.71 934.85 L540.91 934.34 L541.1 933.82 L541.29 933.31 L541.47 932.79 L541.65 932.27 L541.82 931.76 L541.97 931.24 L542.11 930.73 L542.24 930.21 L542.35 929.7 L542.46 929.18 L542.56 928.67 L542.65 928.15 L542.74 927.64 L542.81 927.12 L542.89 926.61 L542.95 926.09 L543.01 925.58 L543.07 925.06 L543.13 924.54 L543.19 924.03 L543.24 923.51 L543.29 923 L543.34 922.48 L543.38 921.97 L543.41 921.45 L543.44 920.94 L543.47 920.42Z"/>
<line class="w" x1="543.47" y1="920.94" x2="543.47" y2="997.2"/>
<rect class="b" x="536.72" y="957.57" width="13.8" height="13.49"/>
<line class="m" x1="536.72" y1="964" x2="550.52" y2="964"/>
<circle class="o" cx="543.47" cy="929.76" r="0.95"/>
<path class="v" fill="#ED2024" d="M611.47 898.19 L611.49 898.7 L611.51 899.22 L611.53 899.74 L611.55 900.25 L611.57 900.77 L611.58 901.28 L611.6 901.8 L611.62 902.32 L611.64 902.83 L611.65 903.35 L611.67 903.86 L611.69 904.38 L611.7 904.9 L611.71 905.41 L611.73 905.93 L611.74 906.45 L611.75 906.96 L611.76 907.48 L611.77 907.99 L611.78 908.51 L611.78 909.03 L611.79 909.54 L611.8 910.06 L611.8 910.57 L611.81 911.09 L611.81 911.61 L611.82 912.12 L611.82 912.64 L611.82 913.15 L611.83 913.67 L611.83 914.19 L611.84 914.7 L611.84 915.22 L611.84 915.73 L611.85 916.25 L611.85 916.77 L611.86 917.28 L611.87 917.8 L611.87 918.31 L611.88 918.83 L611.89 919.35 L611.9 919.86 L611.91 920.38 L611.92 920.89 L611.93 921.41 L611.95 921.93 L611.96 922.44 L611.98 922.96 L612 923.48 L612.02 923.99 L612.05 924.51 L612.08 925.02 L612.12 925.54 L612.19 926.06 L612.28 926.57 L612.4 927.09 L612.54 927.6 L612.69 928.12 L612.86 928.64 L613.07 929.15 L613.36 929.67 L613.71 930.18 L614.08 930.7 L614.46 931.22 L614.82 931.73 L615.21 932.25 L615.6 932.76 L615.99 933.28 L616.33 933.8 L616.63 934.31 L616.91 934.83 L617.16 935.34 L617.4 935.86 L617.61 936.38 L617.81 936.89 L617.98 937.41 L618.13 937.92 L618.28 938.44 L618.45 938.96 L618.63 939.47 L618.81 939.99 L619 940.51 L619.2 941.02 L619.44 941.54 L619.73 942.05 L620.08 942.57 L620.49 943.09 L620.94 943.6 L621.41 944.12 L621.89 944.63 L622.42 945.15 L622.99 945.67 L623.58 946.18 L624.15 946.7 L624.72 947.21 L625.28 947.73 L625.84 948.25 L626.4 948.76 L626.95 949.28 L627.5 949.79 L628.04 950.31 L628.59 950.83 L629.12 951.34 L629.65 951.86 L630.17 952.37 L630.67 952.89 L631.17 953.41 L631.66 953.92 L632.15 954.44 L632.63 954.95 L633.13 955.47 L633.63 955.99 L634.11 956.5 L634.56 957.02 L634.97 957.54 L635.37 958.05 L635.74 958.57 L636.09 959.08 L636.4 959.6 L636.67 960.12 L636.92 960.63 L637.16 961.15 L637.36 961.66 L637.53 962.18 L637.65 962.7 L637.76 963.21 L637.85 963.73 L637.91 964.24 L637.92 964.76 L637.85 965.28 L637.72 965.79 L637.54 966.31 L637.34 966.82 L637.03 967.34 L636.6 967.86 L636.09 968.37 L635.54 968.89 L634.97 969.4 L634.32 969.92 L633.59 970.44 L632.81 970.95 L632 971.47 L631.19 971.98 L630.35 972.5 L629.48 973.02 L628.59 973.53 L627.7 974.05 L626.85 974.57 L626 975.08 L625.16 975.6 L624.32 976.11 L623.51 976.63 L622.73 977.15 L621.97 977.66 L621.23 978.18 L620.51 978.69 L619.81 979.21 L619.14 979.73 L618.47 980.24 L617.81 980.76 L617.18 981.27 L616.59 981.79 L616.07 982.31 L615.59 982.82 L615.15 983.34 L614.74 983.85 L614.36 984.37 L614.02 984.89 L613.71 985.4 L613.4 985.92 L613.13 986.43 L612.89 986.95 L612.7 987.47 L612.54 987.98 L612.4 988.5 L612.27 989.01 L612.16 989.53 L612.06 990.05 L611.98 990.56 L611.91 991.08 L611.84 991.6 L611.77 992.11 L611.7 992.63 L611.64 993.14 L611.59 993.66 L611.54 994.18 L611.51 994.69 L611.48 995.21 L611.47 995.72 L611.47 995.72 L611.45 995.21 L611.43 994.69 L611.39 994.18 L611.35 993.66 L611.29 993.14 L611.23 992.63 L611.17 992.11 L611.1 991.6 L611.03 991.08 L610.95 990.56 L610.87 990.05 L610.77 989.53 L610.66 989.01 L610.54 988.5 L610.39 987.98 L610.24 987.47 L610.05 986.95 L609.81 986.43 L609.53 985.92 L609.23 985.4 L608.91 984.89 L608.57 984.37 L608.19 983.85 L607.78 983.34 L607.34 982.82 L606.87 982.31 L606.34 981.79 L605.76 981.27 L605.12 980.76 L604.46 980.24 L603.79 979.73 L603.12 979.21 L602.42 978.69 L601.7 978.18 L600.96 977.66 L600.2 977.15 L599.42 976.63 L598.61 976.11 L597.78 975.6 L596.93 975.08 L596.09 974.57 L595.23 974.05 L594.35 973.53 L593.46 973.02 L592.58 972.5 L591.74 971.98 L590.93 971.47 L590.13 970.95 L589.34 970.44 L588.61 969.92 L587.97 969.4 L587.4 968.89 L586.84 968.37 L586.33 967.86 L585.91 967.34 L585.59 966.82 L585.39 966.31 L585.21 965.79 L585.08 965.28 L585.01 964.76 L585.02 964.24 L585.08 963.73 L585.17 963.21 L585.28 962.7 L585.4 962.18 L585.57 961.66 L585.78 961.15 L586.01 960.63 L586.26 960.12 L586.53 959.6 L586.84 959.08 L587.19 958.57 L587.57 958.05 L587.96 957.54 L588.37 957.02 L588.83 956.5 L589.31 955.99 L589.8 955.47 L590.3 954.95 L590.79 954.44 L591.28 953.92 L591.77 953.41 L592.26 952.89 L592.77 952.37 L593.28 951.86 L593.81 951.34 L594.35 950.83 L594.89 950.31 L595.44 949.79 L595.98 949.28 L596.54 948.76 L597.1 948.25 L597.66 947.73 L598.22 947.21 L598.78 946.7 L599.36 946.18 L599.94 945.67 L600.51 945.15 L601.04 944.63 L601.52 944.12 L601.99 943.6 L602.44 943.09 L602.85 942.57 L603.21 942.05 L603.49 941.54 L603.73 941.02 L603.94 940.51 L604.13 939.99 L604.31 939.47 L604.49 938.96 L604.65 938.44 L604.8 937.92 L604.96 937.41 L605.13 936.89 L605.32 936.38 L605.54 935.86 L605.77 935.34 L606.03 934.83 L606.3 934.31 L606.6 933.8 L606.95 933.28 L607.33 932.76 L607.73 932.25 L608.11 931.73 L608.48 931.22 L608.85 930.7 L609.23 930.18 L609.58 929.67 L609.87 929.15 L610.07 928.64 L610.24 928.12 L610.39 927.6 L610.53 927.09 L610.65 926.57 L610.74 926.06 L610.81 925.54 L610.85 925.02 L610.88 924.51 L610.91 923.99 L610.93 923.48 L610.95 922.96 L610.97 922.44 L610.99 921.93 L611 921.41 L611.01 920.89 L611.03 920.38 L611.04 919.86 L611.05 919.35 L611.05 918.83 L611.06 918.31 L611.07 917.8 L611.07 917.28 L611.08 916.77 L611.09 916.25 L611.09 915.73 L611.09 915.22 L611.1 914.7 L611.1 914.19 L611.11 913.67 L611.11 913.15 L611.11 912.64 L611.12 912.12 L611.12 911.61 L611.13 911.09 L611.13 910.57 L611.14 910.06 L611.14 909.54 L611.15 909.03 L611.16 908.51 L611.16 907.99 L611.17 907.48 L611.18 906.96 L611.2 906.45 L611.21 905.93 L611.22 905.41 L611.23 904.9 L611.25 904.38 L611.26 903.86 L611.28 903.35 L611.3 902.83 L611.31 902.32 L611.33 901.8 L611.35 901.28 L611.37 900.77 L611.39 900.25 L611.41 899.74 L611.43 899.22 L611.45 898.7 L611.47 898.19Z"/>
<line class="w" x1="611.47" y1="898.71" x2="611.47" y2="995.2"/>
<rect class="b" x="604.51" y="952.97" width="13.7" height="17.85"/>
<line class="m" x1="604.51" y1="964.39" x2="618.21" y2="964.39"/>
<circle class="o" cx="611.47" cy="908.56" r="0.95"/>
<circle class="o" cx="611.47" cy="922.57" r="0.95"/>
</g>
<path class="br" d="M543.47 906.57 V905.17 H611.47 V906.57"/>
<text class="sg" x="577.47" y="904.03" text-anchor="middle">***</text>
<path class="ax" d="M502.94 893.88 V1002.05 H643.8"/>
<line class="tk" x1="501.84" y1="902.18" x2="502.94" y2="902.18"/>
<text class="tl" x="500.74" y="903.78" text-anchor="end">0.10</text>
<line class="tk" x1="501.84" y1="936.68" x2="502.94" y2="936.68"/>
<text class="tl" x="500.74" y="938.28" text-anchor="end">0.05</text>
<line class="tk" x1="501.84" y1="970.92" x2="502.94" y2="970.92"/>
<text class="tl" x="500.74" y="972.52" text-anchor="end">0.00</text>
<line class="tk" x1="543.47" y1="1002.05" x2="543.47" y2="1003.15"/>
<text class="tl" x="543.47" y="1008.06" text-anchor="middle">Low−risk</text>
<line class="tk" x1="611.47" y1="1002.05" x2="611.47" y2="1003.15"/>
<text class="tl" x="611.47" y="1008.06" text-anchor="middle">High−risk</text>
<text class="tl" transform="translate(489.64 947.84) rotate(-90)" text-anchor="middle">MDSC</text>
</g>
<g id="legend">
<text x="667.7" y="55.6" style="font-size:6.7px" class="lg">Risk</text>
<rect x="684" y="48.3" width="9.6" height="9.3" fill="#416AB5" stroke="#1a1a1a" stroke-width="0.6"/>
<text x="697" y="55.2" style="font-size:5.7px" class="lg">Low−risk</text>
<rect x="723" y="48.3" width="9.6" height="9.3" fill="#ED2024" stroke="#1a1a1a" stroke-width="0.6"/>
<text x="736.1" y="55.2" style="font-size:5.7px" class="lg">High−risk</text>
</g>
</svg>
</body></html>
